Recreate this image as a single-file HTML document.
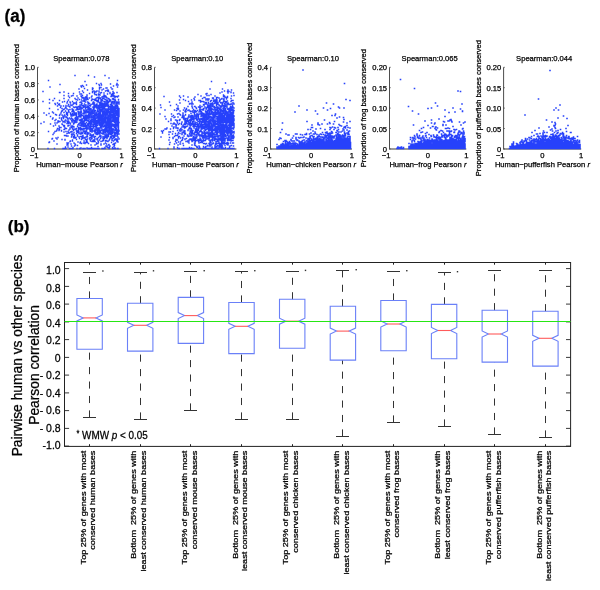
<!DOCTYPE html><html><head><meta charset="utf-8"><style>html,body{margin:0;padding:0;background:#fff;width:600px;height:590px;overflow:hidden}text{stroke:#000;stroke-width:0.25px}svg{will-change:transform;font-family:"Liberation Sans",sans-serif}</style></head><body><svg width="600" height="590" viewBox="0 0 600 590" style="position:absolute;left:0;top:0"><rect width="600" height="590" fill="#fff"/><text transform="translate(4.6,21.8) scale(1,1.06)" font-weight="bold" font-size="17" fill="#000">(a)</text><path d="M37.5 149H121.5" stroke="#7a7a7a" stroke-width="1.7" fill="none"/><path d="M37.5 67.3V149.5" stroke="#4d4d4d" stroke-width="1" fill="none"/><path d="M100.5 114h0m15-5.5h0m-4 0h0m-31.5-6h0m4.5 31h0m23-8h0m-52-0.5h0m59-6.5h0m-48.5-12h0m11 2h0m31.5 8.5h0m-9-22.5h0m-4.5 16h0m5 24.5h0m2.5-34.5h0m14.5 35.5h0m-21.5 0.5h0m-7-11h0m-29 2h0m35-7h0m-7.5-1h0m-15 12h0m11-1.5h0m24-21h0m-14 6.5h0m9 6.5h0m-7.5 8.5h0m16.5-12.5h0m-30.5 16h0m30.5 2.5h0m-4.5-32h0m7.5 4h0m-46 17h0m23.5-28.5h0m22.5 22.5h0m-70-6.5h0m53-1h0m-41 7.5h0m32-2h0m16.5-20.5h0m-5.5 9h0m-27.5 40h0m6.5-34.5h0m20.5 37h0m2.5-15.5h0m3-21h0m-16 22h0m-6.5-32h0m0.5 22.5h0m37-15.5h0m-13 5h0m-7-7h0m13.5-8h0m-8 39.5h0m-2.5-19.5h0m9.5-4h0m-7-11.5h0m-43.5 9.5h0m56.5 8h0m-38 17.5h0m13 2.5h0m-6.5-9h0m14.5-16h0m12-0.5h0m-69.5-14h0m67 12h0m-16-5.5h0m12 29.5h0m7-23.5h0m-13 11.5h0m17 0h0m-62-22h0m29.5 16h0m17.5 0h0m-7.5-1h0m4 19h0m4 3.5h0m-6.5-49h0m-18 27h0m33.5-1h0m6.5-4h0m-16 10.5h0m10-3h0m0 8h0m-1.5-16.5h0m-17 8h0m24-18h0m-39.5-5h0m8 36h0m17.5-25h0m2.5 15h0m5-36.5h0m-24 29h0m13.5-11.5h0m7 20h0m0-24.5h0m-51 30.5h0m52 4.5h0m-36 13h0m-4-27.5h0m41 2.5h0m9.5-8.5h0m-50.5 18h0m18.5-13h0m-23.5 1.5h0m34.5 12.5h0m10-42.5h0m-23.5-3h0m-5 27.5h0m28.5-5.5h0m-2.5-1.5h0m-7.5-0.5h0m18.5 20h0m-34-13h0m-18.5-20h0m18 26h0m11.5 0.5h0m-10.5 10h0m-15-6h0m3 22.5h0m14-29h0m15.5-16.5h0m4 10.5h0m-24 3.5h0m20 0h0m-25.5 1.5h0m25.5 14h0m-9.5 12.5h0m22-53.5h0m-20.5 20h0m-3.5 37h0m23.5-54h0m-4.5 29h0m-11.5-19h0m-9 16h0m-0.5 7h0m14-21.5h0m5 16.5h0m8 26h0m-4-39h0m-6 9.5h0m3-0.5h0m-17 4.5h0m-11.5-9.5h0m24.5-17h0m-39.5 9.5h0m35 7.5h0m16 2h0m-13.5 12.5h0m9-35.5h0m-42 54.5h0m13.5-14h0m-7-11.5h0m30.5-6h0m-6.5-1.5h0m20.5 8.5h0m-13.5-31.5h0m-29 11h0m30 42h0m10.5-14h0m-26.5 7.5h0m10-39.5h0m-22.5 27h0m-29 17.5h0m54.5-21h0m-2.5 14.5h0m-12.5-18h0m-9.5-8.5h0m14.5 25h0m4-20h0m19-2h0m-23.5 16h0m5.5-17.5h0m9.5 15.5h0m-34.5-16.5h0m26.5 9.5h0m3.5 4.5h0m-7-26h0m16 5h0m-13.5 19h0m-22 26.5h0m40-35.5h0m0.5 11h0m-43-10.5h0m10 5.5h0m28.5 2.5h0m-10.5 1.5h0m-16.5-24h0m16-2h0m-6 3h0m8 34h0m-16-10h0m-1-7.5h0m22 28.5h0m9-42.5h0m-7.5 31h0m-41-27h0m27 20h0m-5.5-13h0m7 30h0m-7.5 5h0m23-19.5h0m-28 10.5h0m-9 0h0m27-13.5h0m7.5-11h0m2-7.5h0m-24.5 26h0m26 6.5h0m-7.5-19h0m-19.5 15.5h0m13.5 1h0m17.5-11.5h0m-17-21h0m4.5 11.5h0m12 32h0m-14-55.5h0m-9.5 47h0m-1.5-21h0m13.5 12.5h0m1.5-25h0m-12.5 8.5h0m16-12h0m-24 15h0m24 4h0m0.5-19.5h0m-29 46h0m12-9.5h0m12 2h0m-2.5-18h0m-14 5h0m-2 5.5h0m22-23.5h0m2.5 2.5h0m1 14h0m-11 14h0m-39-48.5h0m21.5 24.5h0m29 11h0m-3-10h0m-14.5-2h0m-7 14h0m18.5-20.5h0m-15 9.5h0m11 8h0m-7.5-22.5h0m12.5 21h0m-8.5-24h0m0 16.5h0m-16 6h0m27-21.5h0m6.5 21.5h0m-14-12.5h0m-13-10.5h0m7.5 24h0m-13.5 4h0m14.5-20.5h0m-3.5-2.5h0m-31 43h0m22-36h0m13-9.5h0m8 23h0m-25-20.5h0m25.5 17.5h0m-3.5 4.5h0m-5-4h0m11.5-16h0m-1 16h0m-20.5 3.5h0m25.5-9.5h0m-44-8.5h0m37.5 38h0m9.5-45h0m-37.5-2h0m33 33h0m-31-12h0m-12.5-6.5h0m17 3.5h0m13.5-25.5h0m-3 24.5h0m6.5 9.5h0m-18.5-1h0m3.5-10.5h0m22.5 14h0m-28.5-0.5h0m12.5-2h0m7.5-31.5h0m-15 15.5h0m-7.5 26h0m24.5-25h0m-36.5 37h0m24.5-29.5h0m11-9.5h0m-29.5 5.5h0m35-4.5h0m-3.5 4.5h0m2 12.5h0m-39-4.5h0m45.5-2h0m-25.5 18.5h0m9-22h0m-10.5 15.5h0m-27-21.5h0m20-24.5h0m36 0h0m-32.5-5.5h0m22 41.5h0m-4.5 1h0m15.5-16.5h0m-23 23h0m17-22.5h0m-2.5 17h0m2-12.5h0m-32.5 12h0m8-28.5h0m31.5 4h0m-7.5 5.5h0m-0.5 29h0m-61-31.5h0m52.5 20h0m12.5 12.5h0m1-23.5h0m-1.5-10.5h0m-32.5 38h0m31-34h0m0 14.5h0m-9.5 0h0m-49.5-7h0m37 9.5h0m5 4.5h0m20-26h0m-23 47.5h0m19-46h0m0 32h0m-28.5-33.5h0m28 32h0m6.5-36.5h0m-43.5 46.5h0m25-51h0m16 22h0m-52 8h0m28.5 0h0m9-19.5h0m-14.5 17.5h0m5-11.5h0m-5.5 7h0m0 17.5h0m-5.5-39h0m25.5 25h0m-24.5-5.5h0m18-0.5h0m-13.5 4.5h0m16-25h0m6 18.5h0m-12 10h0m17.5-6h0m-5.5 6h0m-34.5 13h0m37-33.5h0m1 29.5h0m-10-30.5h0m-24 17.5h0m1.5-10.5h0m-10 12.5h0m27 2.5h0m-13-36h0m15.5 36.5h0m2 8h0m1.5-19.5h0m13-14.5h0m3.5 38h0m-15.5-10h0m2.5-19.5h0m8-1.5h0m-51 8h0m32 12h0m15.5-10h0m-43 15.5h0m36.5-18.5h0m2.5 6.5h0m1-4h0m2 6.5h0m-3-12.5h0m-6 9.5h0m-9 12h0m22-32h0m-6 17h0m7.5 7h0m-47 1h0m18.5-24h0m2 19.5h0m31-5h0m-7 16h0m-37.5-4h0m31 1.5h0m5 3.5h0m2 3h0m-2.5-10h0m-2 13.5h0m-31.5-25h0m6.5-2h0m2.5 23h0m-0.5-18h0m-5 16h0m36.5-16h0m-13-1h0m-15.5 30.5h0m14.5 6h0m12.5-37.5h0m-29.5 2h0m28.5 5.5h0m-10.5 8h0m-11.5 3h0m11.5 19h0m2.5-49h0m-0.5 49h0m0-32.5h0m-49.5 9h0m50-10h0m-2.5 21.5h0m5.5-5.5h0m-14-17h0m-1.5 22h0m8.5-17.5h0m-1 20h0m8.5-21.5h0m-2.5-4h0m-18 7.5h0m27.5-9h0m-42 26.5h0m31.5-10.5h0m-8.5-2h0m13.5-25.5h0m-4 28h0m-23-6.5h0m7.5-17h0m-9 14.5h0m-13.5-9h0m12 26.5h0m-17-27h0m30.5 11.5h0m-13.5-6h0m-13-2h0m19.5 35h0m19.5-43h0m7.5 21h0m-17-20.5h0m2.5 19.5h0m11-7.5h0m-14 25.5h0m-2-5.5h0m4-30.5h0m19 24.5h0m-3-14.5h0m-52 7.5h0m52.5 11.5h0m-24-11h0m19-2h0m4-11h0m-20.5 15.5h0m13 2h0m-2.5-28h0m-6.5 0h0m16.5 17.5h0m3 15h0m-20.5-18.5h0m4.5 12.5h0m-15.5-26h0m8 19.5h0m-27.5 10h0m40-6.5h0m6.5 8h0m-7.5-11.5h0m-32.5 18.5h0m23-22h0m9.5-9h0m-0.5 5h0m13.5 18.5h0m-33-16h0m-6.5 11.5h0m27 12.5h0m-3.5-18h0m16.5-14h0m-5 9h0m-24 9h0m0.5 4.5h0m-0.5-8.5h0m28-8.5h0m-25.5 5.5h0m-7.5-13h0m-15.5 5.5h0m45-5h0m-8.5 18h0m-19-9h0m9.5 5h0m-2-5h0m-5.5 1.5h0m11-30h0m15 48h0m-5-20.5h0m8.5 11h0m-55-9h0m56-1h0m-51.5-14.5h0m47 20h0m-43 10h0m14-14.5h0m-0.5 0.5h0m3 31h0m10.5-53.5h0m1 37.5h0m14-34h0m-21 5.5h0m-7-2h0m-7.5 16.5h0m17 13h0m14-2h0m7.5-27.5h0m-23 24.5h0m20.5-13h0m-3.5 10.5h0m8 2.5h0m-31-19h0m29 24h0m-6-9.5h0m-15.5 2h0m-6-5.5h0m-14.5 4h0m-10 13h0m54-11.5h0m-28 0.5h0m10-31.5h0m-13.5 17h0m7.5 11.5h0m13-4.5h0m-15.5 7h0m-4.5-26h0m-3.5 25h0m11 10h0m-20-57.5h0m30.5 54.5h0m-27-1h0m39 3h0m-4-19h0m5 15h0m-22.5 2.5h0m8.5-24.5h0m-21.5-5h0m2.5 15h0m18 18h0m15-22.5h0m-25.5 17h0m-31.5-10.5h0m42-2.5h0m-3.5 20h0m11-28.5h0m-38 14h0m11 0h0m28.5 12.5h0m-19.5-26.5h0m12 21.5h0m2-10.5h0m-8 15.5h0m-23.5 4.5h0m9-0.5h0m33 3.5h0m-34-15h0m31.5-25h0m-4.5 3.5h0m-3.5 26.5h0m-3-0.5h0m-8.5-31.5h0m-14.5 11.5h0m20 9h0m11 5h0m-38.5 2.5h0m36 21.5h0m-18-19.5h0m17-38h0m-49 9.5h0m-0.5 25.5h0m54.5-17.5h0m3 2.5h0m-10 16.5h0m5.5 4h0m-12-3.5h0m19-11.5h0m-60.5-12h0m31 13h0m11.5 2.5h0m-36.5 5.5h0m30-22.5h0m-7-5h0m20.5 18h0m-10.5 7h0m19-8.5h0m-16-2.5h0m2.5-8.5h0m-19.5 4h0m14 23h0m4.5-9.5h0m-1 4.5h0m-21-13h0m-22 25h0m56 6h0m-54-22h0m27 6h0m31-2.5h0m-49.5-1.5h0m42.5 8h0m-17-12h0m-19.5 17.5h0m-22 1.5h0m52.5-26h0m-41 14h0m50-22.5h0m-38.5 13.5h0m28.5 12h0m-31-0.5h0m43 4h0m-31.5-12h0m15.5-8h0m-32.5 9h0m29.5-4.5h0m17 15h0m-56.5-26.5h0m45 6h0m-25-4h0m-21.5 30h0m34.5-14.5h0m14.5 6.5h0m-0.5-31h0m-10 24h0m18-34h0m1.5 24.5h0m-38 16h0m18-25.5h0m17-7.5h0m3 25h0m-14 6.5h0m-24-5.5h0m10 14.5h0m30-3.5h0m-25 15h0m0.5-20h0m-8.5 10h0m13-20h0m21-3h0m-14.5-9h0m-26 12h0m29 4.5h0m2.5-20h0m-40 28.5h0m47 16.5h0m-10.5-9.5h0m0-12.5h0m-20.5-12h0m10.5-6.5h0m18 25.5h0m3-28h0m-26 11h0m-3.5-3.5h0m30 20.5h0m-8-10h0m-16 25.5h0m9.5-29.5h0m1 6.5h0m-17.5-13.5h0m16-6.5h0m-18.5 28h0m-4.5-24h0m8-2.5h0m10 17.5h0m4-29.5h0m8 35h0m4.5 8.5h0m5.5-19.5h0m-34.5-21h0m8 15.5h0m-23.5 31.5h0m46-19h0m-32.5-21h0m27.5 24.5h0m-6-7.5h0m13 11h0m-17.5-39h0m-14.5 4h0m24 38.5h0m-30.5 9h0m11.5-32.5h0m6 1.5h0m20 4.5h0m-49.5 1h0m44 3h0m-28.5-14.5h0m-11 1h0m42.5-8h0m-35.5 7.5h0m31 17.5h0m1-2h0m-28 0h0m1-5.5h0m8.5 10h0m4 2h0m2.5-8h0m7.5 2.5h0m-1.5-4.5h0m-23.5-21.5h0m28.5 2h0m-27.5 26h0m21.5-9.5h0m-4.5 5.5h0m5.5 7.5h0m-24-17h0m19 32.5h0m-27.5-27.5h0m29.5 5.5h0m8.5 12h0m6-23h0m-1.5-6.5h0m-13.5 10.5h0m-5-2h0m13.5 17h0m1.5-18h0m-12.5-13h0m-2 35h0m1-45h0m-30.5 55.5h0m34-38h0m-4.5 20.5h0m-8-10.5h0m-36.5 5h0m47.5-3h0m-16-12.5h0m28 16h0m0.5-7h0m-37-10.5h0m28 15.5h0m7.5 26h0m-26.5-19h0m26-1.5h0m-5 5h0m7.5-21h0m2.5 7h0m-16 13h0m-24-1.5h0m17 10.5h0m19.5-13.5h0m-55.5-29h0m49.5 45.5h0m-22.5-47.5h0m9 26h0m17.5 1h0m-21 6h0m18.5 8h0m-13-24.5h0m21.5 11.5h0m-21.5 6h0m11.5-8.5h0m-3-21.5h0m-28.5 28.5h0m15-5h0m-14.5-19.5h0m14 31.5h0m18.5-26.5h0m-12.5-21h0m-0.5 33.5h0m13 21h0m-28-33.5h0m32 15.5h0m-2.5-22h0m-44 13h0m55 0h0m0.5 16h0m0.5-28h0m-24.5 11h0m0.5 0h0m1.5-0.5h0m22.5-1h0m-16 4h0m8 3.5h0m-26 22.5h0m6.5-15h0m8.5-3.5h0m-50.5-16.5h0m25-1h0m38 25h0m0.5-6.5h0m-56.5 5h0m35-14.5h0m22-1h0m-26-3h0m28 15.5h0m-51-1.5h0m9-33h0m33 41.5h0m6.5-36h0m-27 11h0m10.5-3h0m-2.5 11h0m0.5 1.5h0m-29-8.5h0m23.5 11h0m21.5-2.5h0m-5 3h0m10.5-9.5h0m-39 9h0m30 1h0m8.5-13h0m-31 7.5h0m21.5 19h0m-5.5-16.5h0m14.5-20.5h0m-23 14.5h0m0-15h0m-8.5 44h0m20-29h0m9.5 30.5h0m-1.5-34h0m-13.5 17.5h0m-8.5-6h0m18.5-9h0m6.5 17h0m-33.5 0h0m5.5-4.5h0m23-16.5h0m-50-5h0m45 25.5h0m-8 3h0m14.5-14h0m-28 18.5h0m28.5 0.5h0m-11-24.5h0m16 13h0m-22-26.5h0m-15.5 34h0m-16.5-31.5h0m56 0.5h0m-27.5 22h0m11-7.5h0m-36 31.5h0m-2.5-30h0m38 0.5h0m-22.5 13h0m9.5-29.5h0m-5 46h0m3-37.5h0m17 8h0m-11-1.5h0m26.5 21.5h0m-35-27h0m6.5 15.5h0m12.5-10h0m14-11h0m-1 24h0m-6.5 18h0m-22.5-32.5h0m-9 2h0m36.5 4h0m-28 7h0m32.5 2h0m-23.5-13h0m21.5-7.5h0m-23.5 15.5h0m4.5-24h0m-4.5 20.5h0m1.5-12h0m6.5 10.5h0m-43 0h0m42.5-15.5h0m15.5 3h0m-23.5-6h0m6.5 0.5h0m15 13.5h0m-4-9.5h0m8.5 3h0m-25 1.5h0m22.5-5.5h0m-13.5 10h0m-7.5 0h0m-14-4h0m26 18h0m-5.5-24h0m14.5-2.5h0m-15.5 41.5h0m-7.5-37h0m15.5 18.5h0m-2 2h0m9-20.5h0m-9 21.5h0m-26-13.5h0m31.5 10h0m-19 9h0m20.5-41.5h0m4 34h0m-7 6h0m-9-10.5h0m-7-28.5h0m-25 47h0m23.5-38h0m-24.5 26.5h0m-3-12.5h0m9 3h0m7.5-15h0m12.5 23.5h0m-5.5-35.5h0m19 29.5h0m-5.5 14h0m4-22h0m-17.5-7h0m-5.5 2h0m-23.5-2.5h0m16.5 14.5h0m11-22.5h0m-1 7.5h0m12.5 23.5h0m15-8h0m-15.5 5.5h0m9-7h0m-0.5-6.5h0m-0.5 9h0m10-4.5h0m-19.5-11h0m-0.5-1.5h0m18-9h0m-16 51h0m-29-20.5h0m33-1h0m-2-2h0m14.5 4h0m-29 2h0m13-23h0m7.5-8h0m-18 33h0m20.5-26h0m-18 40.5h0m-18-35.5h0m38.5-17.5h0m-7.5 10h0m-14.5 25h0m-11.5 1h0m5-7.5h0m17.5-22.5h0m14.5 11.5h0m-52 5h0m22-5.5h0m31.5 20h0m-62.5 17h0m30.5-22h0m-2-1h0m-12-9.5h0m15 2h0m19-42.5h0m10.5 47.5h0m0.5 1.5h0m-28.5-25h0m3.5 18.5h0m-22.5-24.5h0m24-1h0m16 13h0m-5 1.5h0m0.5 31.5h0m-5.5-38.5h0m18 13.5h0m-14-5h0m0.5-4.5h0m6.5 11h0m6 14.5h0m-35.5-4h0m32 4.5h0m-17-25h0m4 12.5h0m-4.5-1h0m-11.5 8h0m33.5-6.5h0m-8.5 14.5h0m-24.5-15.5h0m-7 16.5h0m4.5-18.5h0m3 7h0m-17.5-8.5h0m-7-8.5h0m30.5 7h0m16 3h0m5-10h0m-29.5 21h0m30-8.5h0m-23-5h0m16.5 23.5h0m-10.5-9.5h0m9-37.5h0m1.5 25h0m-18 1.5h0m4-5.5h0m16 9h0m11 3h0m-11-1h0m-5-18h0m-21-7h0m31 28h0m0.5-6h0m-12.5-7h0m7.5 21h0m-55-13h0m24-15h0m17-2h0m-7-17h0m26 35.5h0m-7.5-4h0m-2-12h0m3 7.5h0m-4-11h0m6 15h0m9 23h0m-35.5-10.5h0m-11 12.5h0m29-26.5h0m9.5-15.5h0m-7 10h0m-11.5 15h0m25 19h0m-14-26h0m3.5 9h0m13.5-1h0m-18-8h0m-17-30.5h0m17 36.5h0m15.5 3.5h0m-11.5 10.5h0m-15-31.5h0m-21 27h0m-1.5 12.5h0m45.5-21h0m-47.5-8h0m49.5 18h0m-10-15h0m-18 22.5h0m-12-38.5h0m33.5 31h0m10-16h0m-39.5 14.5h0m13.5-6h0m14.5-12.5h0m-0.5 12h0m-12-6h0m-20-16.5h0m22.5-20h0m15.5 22.5h0m-10 11.5h0m5.5-3h0m0 20.5h0m-20-1h0m10-0.5h0m21-22h0m-37.5 9.5h0m24 2h0m13-38h0m-25 34h0m-35-9.5h0m60 1.5h0m-34.5 7.5h0m5-6.5h0m6.5 27h0m14-22.5h0m-23.5-11.5h0m27.5-10.5h0m-0.5 26h0m-18.5-21h0m-29.5 9.5h0m30.5 14.5h0m4.5 16.5h0m10-26.5h0m-33 15h0m28.5-26.5h0m-26.5 12h0m-24.5 27h0m45-16.5h0m-9.5-11h0m-5-12h0m5 47h0m17.5-37.5h0m-31 26.5h0m18-15.5h0m-40 11h0m42-27h0m20.5 6.5h0m-48-16.5h0m-11 7h0m53.5 24.5h0m-20.5 21h0m-28.5-24.5h0m49.5 1h0m-0.5-9h0m3.5 11.5h0m3.5-1.5h0m-13.5-18.5h0m-10 8h0m-20.5 14h0m-2-15h0m29.5 16h0m11.5-13h0m-11-12.5h0m8.5 19.5h0m-3 12h0m1.5-20.5h0m9 7h0m-46.5-27h0m22 24.5h0m-6 7.5h0m2.5 7.5h0m28 13h0m-34-17h0m28-14h0m-13 14h0m-15-18.5h0m9-6h0m-24.5 4.5h0m-9.5 19h0m17.5 0.5h0m5.5-22.5h0m2.5 20.5h0m-1-0.5h0m33.5-3h0m-20.5-25h0m-22 45.5h0m-4-41h0m37.5 1h0m10.5-10h0m-48 18h0m47-27h0m-23.5 21.5h0m20.5 21.5h0m-60.5 11h0m50.5-23h0m-31.5-4h0m-1 2h0m39.5-11.5h0m-40.5 0.5h0m46.5 43.5h0m-14.5-29.5h0m4-0.5h0m7.5-8.5h0m-15.5 20h0m-30.5-25.5h0m30 13.5h0m20-18.5h0m-54 30h0m26.5-8.5h0m24 15h0m-27.5-3.5h0m-4-8.5h0m27.5 2h0m-23.5-10.5h0m3-2h0m-4.5 6.5h0m24-1.5h0m-6.5 15.5h0m-7-9h0m16-3.5h0m-21 8h0m24.5-21.5h0m-1.5 2.5h0m-6.5 19.5h0m3-5h0m4.5-5.5h0m-15-1.5h0m-15.5-18h0m4.5 23h0m-8 6h0m37-15.5h0m-37.5-1.5h0m3.5-8h0m25 28.5h0m0-9.5h0m-10-6h0m-27 2h0m36.5 21.5h0m7.5-27h0m-46.5-11.5h0m42.5 9h0m-21 11.5h0m-25 13.5h0m43-3h0m-44.5-10.5h0m44.5 7.5h0m0 0h0m7.5 11.5h0m-35.5-26.5h0m36-7.5h0m-16 13.5h0m-29-7.5h0m28.5 5h0m-2.5-20.5h0m20 22.5h0m-18.5 0h0m-43 18.5h0m61-19h0m-12.5 5.5h0m1 1h0m-10.5-26.5h0m9 9.5h0m-1-3.5h0m-5 10h0m-27.5 18.5h0m45-15.5h0m-30-12h0m-19.5 26.5h0m51.5-12h0m-19-1h0m-15.5-13.5h0m7 13h0m18.5-10.5h0m8 0.5h0m-34 14.5h0m-22-5h0m53 17h0m-6.5-10.5h0m-22-13h0m25 0.5h0m-6.5 1h0m-33 6h0m46.5-13.5h0m-33.5 4.5h0m-4.5 8h0m12 22h0m-43.5-61h0m52.5 7h0m10 42h0m-4.5-32h0m-25.5 25.5h0m-5-19.5h0m-4 28.5h0m20-12.5h0m-6.5 6.5h0m2.5-17h0m18-3h0m-6 11h0m3.5 31.5h0m-17.5-30h0m29.5 14h0m-0.5-36h0m2.5 28h0m-23 24h0m15.5-28.5h0m-18 17.5h0m15.5-25.5h0m7.5 23h0m1.5-22.5h0m-4.5 28h0m-22.5-37h0m12.5 16h0m-2-10.5h0m0 13h0m-3-31h0m4.5 31h0m-4-12h0m15 10h0m0-18.5h0m-63 40.5h0m56-1h0m-15.5-28h0m5.5 17h0m4 3.5h0m4.5-20.5h0m-63 10.5h0m23.5 25h0m12-29h0m39 7h0m-18 8h0m15-25.5h0m-36.5 4.5h0m25-12.5h0m-13.5 27h0m15.5 4.5h0m14-49h0m-8.5 24h0m2.5 2h0m6 22h0m-30.5-4.5h0m-3-17h0m30.5 38.5h0m-22.5-9.5h0m10.5-22.5h0m8 29.5h0m-24.5-34.5h0m11.5 12.5h0m-2 21h0m15.5-24.5h0m-12.5 0h0m1 2h0m6.5-10h0m12.5 29.5h0m-11-14h0m-2-14h0m-6.5 3.5h0m-16 1.5h0m35-38.5h0m-28.5 47h0m13 1.5h0m6.5-17h0m-14 12.5h0m8-16.5h0m-13 16h0m-6.5-26.5h0m15 33h0m20.5-7h0m-46-13.5h0m40.5 9h0m-1-12h0m7 1.5h0m-16-0.5h0m2 29.5h0m-4-30h0m-9.5 12h0m0-3.5h0m8.5 15.5h0m-6-18.5h0m8-5h0m-23 7.5h0m-23.5-1h0m42 2.5h0m-11 5.5h0m23.5-11h0m-36.5 11.5h0m9-1h0m-9-8h0m43.5-9.5h0m-40-8.5h0m35.5 6.5h0m-12 15h0m-24 13.5h0m13.5-16.5h0m15.5 18h0m-8 0h0m17 11.5h0m-38.5-41h0m13.5 0.5h0m20.5 29.5h0m-22-15.5h0m25.5-5h0m-2-16h0m-34 3.5h0m13 31.5h0m12.5-17.5h0m-19 27h0m12-20.5h0m-23-1h0m37.5 2.5h0m-13.5 12.5h0m-15-10h0m17.5-35.5h0m-16 39.5h0m19.5-10h0m-15.5-12.5h0m22 0.5h0m-9 17h0m-0.5-25h0m3.5 0h0m3.5 16.5h0m-21 0h0m4.5 5.5h0m-24-8h0m24.5 2h0m-9-11h0m34.5 37h0m-46.5-33.5h0m47 12h0m0.5-22h0m-10.5 4.5h0m7.5 18h0m-16-1h0m2.5 6h0m-13.5 8.5h0m12.5-12h0m13-14.5h0m2.5 14.5h0m-21.5 16h0m-29-16h0m12.5 14h0m20.5-17h0m-5.5-8h0m-13.5-3h0m39-5h0m-15 28h0m-23.5 18.5h0m36.5-30h0m-12.5 3.5h0m14-14h0m-16.5 1.5h0m-15.5 14.5h0m-0.5-5h0m-18-10h0m40.5 19h0m8 20.5h0m-21-33.5h0m-6 3h0m20 8h0m-10-24.5h0m6.5 19.5h0m2 8h0m1-13.5h0m3.5-21h0m-28.5 41h0m21.5-28h0m2.5 29.5h0m0-27.5h0m-21 17.5h0m-8.5-0.5h0m6.5-15.5h0m26.5-27h0m-9.5 60h0m4-21.5h0m-12 8.5h0m-27-25.5h0m-8 15.5h0m24.5 12h0m-10-23.5h0m-8.5 3h0m32.5 9h0m-34-11h0m34 4.5h0m-16.5-7.5h0m29 26.5h0m-14.5-23h0m10.5-4.5h0m5 24.5h0m-21.5-55.5h0m18.5 22.5h0m-47.5 20h0m4.5 11.5h0m24.5-6h0m-2.5-3h0m17.5-7.5h0m10 24h0m-31-1h0m28-35.5h0m-18.5 38h0m-8.5-46h0m27.5 28h0m-38.5 20.5h0m46.5-10.5h0m-32.5-33.5h0m19.5 19h0m2 17.5h0m-7-32h0m-44.5 13.5h0m54.5 12.5h0m-37.5 9h0m44 3.5h0m-22-21h0m-12.5-5.5h0m19.5-15h0m-16.5 0h0m-1.5 7.5h0m27.5 33h0m-21.5-11h0m27-17.5h0m-9 11.5h0m-3.5-5h0m-9.5 8.5h0m-6.5-6h0m10.5-14.5h0m14 6h0m-10 28h0m-7-13.5h0m-5.5 10h0m-11 7.5h0m-4.5-36h0m23.5 12.5h0m2.5-34.5h0m14.5 23.5h0m-15 3h0m12 13.5h0m-2.5 3.5h0m-19.5-20h0m-19.5 19h0m34-31h0m-2 8.5h0m10.5-1h0m-34 13h0m31 13.5h0m-6-29h0m4.5 24.5h0m7.5-8.5h0m-40-9h0m13.5 15.5h0m5.5 0.5h0m16 11.5h0m-6-33h0m-9.5-8.5h0m-12.5 36.5h0m23-29.5h0m-14.5-10h0m-11 2.5h0m27 8.5h0m-8 24h0m10 10.5h0m-9-10h0m17-18h0m-2.5-12.5h0m-17.5 2.5h0m10.5 19h0m-11-7h0m13 11h0m-24.5 20.5h0m-14.5-15h0m43-26.5h0m-13 4.5h0m-49 12.5h0m52-2h0m-55-29h0m51.5 23h0m11.5 10h0m0 15.5h0m-15.5-10h0m14.5-15h0m-18.5 14h0m0.5-14.5h0m-30.5 15.5h0m45.5-47.5h0m-8.5 44.5h0m-20.5-17.5h0m21.5 22h0m15-15.5h0m-34-6h0m36.5 7h0m-15.5 28h0m10-45h0m-14.5 12h0m-28.5 24.5h0m37.5-8.5h0m6.5-15.5h0m-36.5 22.5h0m33-22h0m6.5 26.5h0m-46-17h0m17.5-10.5h0m29.5 15.5h0m-4.5-7.5h0m-7-3h0m-8.5-14.5h0m-28 5h0m-4 14h0m21.5-1.5h0m-3 9h0m21.5-1h0m5.5 1h0m-21.5 3h0m14-21h0m3 16h0m7.5 8h0m-41 2h0m25.5-11.5h0m8.5-8.5h0m-17 16h0m-23 7.5h0m18.5-18h0m9-11.5h0m-23.5 29h0m39.5-10h0m-4.5 20.5h0m9.5-61h0m-1 48.5h0m-33.5 4.5h0m27.5-22h0m-25 10h0m5.5-16h0m10.5 22h0m-23-12h0m-10-1h0m49.5-7.5h0m-3-18.5h0m-5 27h0m-5 11.5h0m1-18h0m4 16h0m-22.5-22h0m31.5 7.5h0m-12 3h0m-38.5 25.5h0m33.5-2h0m-20.5-12h0m11-8.5h0m-11 27.5h0m32-22.5h0m-41-7.5h0m9.5 11.5h0m12-22.5h0m17.5 8.5h0m-42-16h0m26.5 30h0m-27.5-14.5h0m29.5 33h0m-5-16.5h0m4.5-25h0m18.5 18h0m-55.5 4.5h0m54.5 7h0m-8.5-40.5h0m1.5 6h0m-35 20h0m46-7.5h0m-61 8.5h0m58.5 16h0m-19.5-23h0m12 11.5h0m-38.5 5.5h0m36-28.5h0m-3 15h0m-12.5 15.5h0m9-22.5h0m5 8h0m15-6h0m-10 7h0m8-6.5h0m-7 0.5h0m-25 18h0m9-42.5h0m0 26h0m9 31.5h0m-14.5-41.5h0m6 34h0m5-26.5h0m-23.5-15h0m35 24h0m-20.5-1.5h0m9.5-18.5h0m-25 9.5h0m-8.5 1.5h0m7 9.5h0m26.5-4.5h0m-19 28.5h0m24.5-22.5h0m13-4.5h0m-11-10h0m4 1.5h0m-24 26.5h0m8-7.5h0m17 17h0m-12.5-26h0m-35.5-21h0m44.5 16.5h0m-56 16.5h0m41.5-15h0m-16 5h0m18.5 14h0m-9.5-4h0m12-10.5h0m14-15h0m-21 21h0m18.5 0h0m-30.5 12h0m29.5-20.5h0m-27.5 16h0m-18.5-39h0m19 23h0m12 27h0m17-47h0m-15.5 16.5h0m-6.5 5h0m-10.5-2.5h0m29.5 9.5h0m-19 5h0m22.5-3.5h0m-12.5-7.5h0m15-8.5h0m-32.5-20h0m-13 22.5h0m40-8.5h0m-13-1.5h0m-11.5 25.5h0m8 2h0m-27 0h0m39.5-36h0m-7.5 41.5h0m19-28.5h0m-22 20.5h0m4.5-47.5h0m10 54h0m5-2h0m-25.5-8.5h0m27 7h0m-31-24.5h0m-4-2.5h0m18.5-1.5h0m-5-15.5h0m1.5 42h0m-2.5-15h0m16.5 6.5h0m-31.5 6.5h0m32-17h0m-8.5-25h0m16 42h0m-6-43h0m-13.5 27h0m-2.5 11h0m16 9h0m-13.5-27.5h0m-0.5 9.5h0m3.5 4h0m-40 9h0m54-9.5h0m-31.5 5h0m-2-7h0m-9 28h0m4-29.5h0m29.5-12h0m-2 2.5h0m-7 30.5h0m13-21h0m-23-1h0m-19.5-11h0m17.5 2.5h0m13.5-3h0m17 15.5h0m1.5-11.5h0m-12 12h0m-34.5 4.5h0m37 15.5h0m-28.5-25h0m38.5 5.5h0m-4.5 19h0m-7-40h0m7 24h0m5-11.5h0m-17.5 1.5h0m-2 8h0m1.5-6h0m9-10h0m-3 23.5h0m-3.5 8h0m-23-32h0m12.5 6.5h0m10.5 17h0m4.5-25.5h0m0.5 31.5h0m-3-18h0m1-3.5h0m-48 7.5h0m44.5-9h0m0.5 13.5h0m-28 17.5h0m5-15h0m9-17h0m-13 8.5h0m0 1h0m34 2h0m-24-18.5h0m17.5 21.5h0m-22.5-9.5h0m19-1.5h0m3 17h0m-14.5-23.5h0m-12 5.5h0m-6-1.5h0m47.5 24.5h0m-41.5-33h0m-3 22h0m20.5-6h0m2.5-6.5h0m19-7.5h0m-5.5 20h0m-7.5-11.5h0m-1.5 4.5h0m1 0.5h0m7-0.5h0m0.5 13h0m-12.5-12h0m-8.5-16.5h0m17.5 29.5h0m11 8h0m-33.5-40.5h0m23.5 37.5h0m-23.5-13h0m12.5 3.5h0m15-13h0m3 8.5h0m-16-10.5h0m-39 15h0m20 8h0m34.5-51h0m-18 33h0m1-5.5h0m-11.5 25h0m21-9h0m-26.5-1.5h0m13.5-21h0m20 23.5h0m-45.5-15.5h0m50 8h0m-20 6.5h0m2.5-20h0m14 5.5h0m-39.5 20.5h0m-0.5-23.5h0m-12 27.5h0m50.5-27.5h0m0.5 8h0m-7-32h0m13 23.5h0m-59.5-19h0m38.5 19h0m-5 14h0m-20-14.5h0m21 29.5h0m-42-1.5h0m64.5-19h0m-32.5-20.5h0m33.5 6h0m-3.5 32h0m-1.5 10h0m-0.5-32.5h0m-43.5 28h0m3-6h0m9-7h0m36.5 2.5h0m-16.5-1h0m3-8.5h0m-9-16h0m3 22h0m-24.5-8h0m22.5-7h0m23-2h0m-51.5 11.5h0m46.5 6h0m-33-7h0m34.5 17h0m-22-18h0m14-19h0m-47 12h0m34 34h0m19.5-37h0m-3 0.5h0m1.5 12h0m-1-14h0m-23.5 1.5h0m16.5 10.5h0m-16.5 2.5h0m12 12h0m12.5-31.5h0m-7 43.5h0m-3-33.5h0m13 9.5h0m-11.5-5.5h0m-10 7.5h0m-4-5h0m-17.5 12.5h0m26.5-1h0m5.5-36h0m11.5 27h0m-13.5-23h0m-28.5 10h0m39 5.5h0m-1.5-1.5h0m4.5 4.5h0m-27.5-12h0m16.5 13.5h0m-16.5 5h0m15-15.5h0m-20.5 10.5h0m16.5-8h0m-44 18.5h0m50.5-11h0m4-14h0m-14.5 0.5h0m13 27.5h0m-12-12.5h0m-4 13h0m7.5-25.5h0m-18.5 24.5h0m28 10.5h0m-17-8h0m14-0.5h0m-27-47h0m22 39h0m-14-17h0m17 19h0m-5.5-15h0m-10.5-11h0m8.5 4h0m13-7h0m-20 7h0m-36 18h0m45-12.5h0m0 5h0m7 8h0m1.5-36h0m-5 43h0m5.5 3.5h0m-14-9.5h0m-10.5-21.5h0m0 20.5h0m15.5-10h0m-34.5 15.5h0m53-29.5h0m-29.5 13.5h0m15 2.5h0m11-19h0m4.5 30.5h0m-45.5-28.5h0m42 6h0m-8.5 28.5h0m1-14.5h0m-45-6.5h0m55.5 18.5h0m-23-2h0m0.5-31h0m-35-16h0m37.5 13h0m16 13h0m-3 7h0m0.5 15h0m-17-23.5h0m7 17.5h0m-6.5-7.5h0m3.5-1.5h0m-18.5-8.5h0m-33 6h0m49 33.5h0m19-22h0m-28.5-19.5h0m-10-4h0m12.5 6.5h0m-23-2h0m43 26h0m-33.5-12h0m-20-1h0m57.5-15h0m-13 12h0m-42 11h0m45.5-22.5h0m6 12h0m-30.5-6h0m16.5 29.5h0m12.5-24.5h0m-22-4.5h0m27.5-14h0m-0.5 18.5h0m-6.5 23.5h0m6.5-4.5h0m-51.5-30h0m29.5 0h0m-8 17h0m23 7.5h0m13.5-27h0m-33 23.5h0m13-7h0m-12.5 20h0m-13.5 8.5h0m26-32h0m-0.5-22h0m17 28h0m-28.5 14.5h0m-20-34h0m47 29h0m-29 16.5h0m-19-20h0m29-13h0m5 15.5h0m15.5-12h0m-17.5 0.5h0m-5.5 0h0m16-21h0m-32.5 20h0m13-6h0m-15.5-9.5h0m37 20.5h0m-1.5-16.5h0m-34 22h0m-3.5-8.5h0m47-1h0m-10.5-14h0m-11.5 2h0m-4 22h0m19 3h0m-0.5 2h0m-10.5-2h0m-52-1h0m56-11.5h0m-27.5 12.5h0m30.5-38.5h0m0 8h0m-8.5-11h0m-3 22h0m-22-1.5h0m39.5 9.5h0m-32-17h0m-5 9h0m34.5 6.5h0m6.5-7h0m-23-19h0m9.5 3h0m1.5 21.5h0m3 27h0m0.5 3.5h0m-40.5-27h0m13-0.5h0m10.5-1h0m-3.5-5.5h0m-8.5-1.5h0m-12 18.5h0m46-5.5h0m-15-29h0m-56-5.5h0m24.5 26.5h0m47-2.5h0m-10.5-9.5h0m-39.5 9h0m33 2h0m-11 2h0m-33.5-18.5h0m17 28.5h0m30-18.5h0m3 23h0m-18.5-22.5h0m25.5 2h0m-66 9h0m69.5-10h0m-27 30h0m23-14h0m-40.5-2.5h0m30-9h0m19.5 0.5h0m-22 10.5h0m-5.5-10h0m17.5-5h0m-7.5-29h0m-16 32.5h0m22-3.5h0m0.5 0.5h0m-27.5 10h0m16 0.5h0m13-17h0m-4.5 14.5h0m3 3h0m-20.5-5.5h0m-17.5-21h0m46.5 35h0m-34.5-9h0m-7-8.5h0m-22-3h0m44-17h0m-36.5-2.5h0m31 33.5h0m-3-18.5h0m-8.5-15.5h0m36 8.5h0m0.5 27h0m-20-2h0m-0.5-9.5h0m-18.5-9h0m40 23h0m-29-24h0m27.5 18.5h0m-25.5-15.5h0m25-3h0m-9 4.5h0m-17-7h0m12.5 13.5h0m5.5-3h0m-14.5-14.5h0m15.5 25h0m-11 1h0m-23.5 12h0m36.5-44h0m4.5 33h0m-8-22.5h0m-7 12h0m-7.5-4.5h0m-21.5 12.5h0m22-4.5h0m23-16.5h0m-6 12.5h0m-24.5 16.5h0m30.5-13h0m-8 17h0m-20-24.5h0m-6.5-4.5h0m2.5 9h0m33.5-19.5h0m-35 1.5h0m6 23h0m13.5-17.5h0m6 17.5h0m6-6h0m-16 6.5h0m21-5.5h0m-41 20h0m30-16h0m-2.5 15h0m-20-37h0m-24 29.5h0m39.5-8.5h0m-3.5 20.5h0m-40-9.5h0m40.5-19h0m8.5 35h0m0.5-33h0m-4 11.5h0m-10-35h0m18 18.5h0m-16.5-2.5h0m-1 8h0m21.5-11h0m-40.5 32h0m38.5-41h0m-13 13h0m-13 33h0m23-28h0m-14.5 5.5h0m8.5-20.5h0m12.5 23h0m-2-4.5h0m-6.5-5h0m6 8.5h0m3.5-26h0m-4 17h0m-6.5 15.5h0m-8-11.5h0m-11.5 6.5h0m-14-24.5h0m35 35.5h0m-41 12h0m25.5-55h0m-1 29h0m6-16.5h0m13 14.5h0m-13 8h0m0.5-14h0m-2 6h0m-5 10h0m7.5 17h0m12.5-31h0m-6-14h0m-3 3h0m13.5 34h0m-9.5-37.5h0m2 38h0m8.5-13h0m-40-5.5h0m37.5-2h0m-9 12.5h0m-36-4.5h0m49.5-9h0m-18 1h0m-34.5-6h0m41.5-5.5h0m-34 13h0m28.5 10h0m-3.5-20h0m-7.5 11h0m-12.5 11h0m-30.5 21h0m63-36h0m-6.5-6h0m-17-4.5h0m24.5 26.5h0m-40.5-10h0m22 21.5h0m-43-23.5h0m50-4h0m-18.5 16.5h0m30.5-20.5h0m-12.5-6h0m10-1h0m-48.5 29h0m24.5-14h0m-30.5-12h0m6.5 16h0m54-0.5h0m-35.5 0.5h0m-8.5-15h0m2 15h0m11 22h0m17-36h0m-7.5-29.5h0m-8.5 33h0m-36.5-10.5h0m63.5 11h0m-26 9h0m20 9.5h0m-4.5-20.5h0m6.5 6.5h0m-1.5-12.5h0m9.5 10h0m-55-4h0m13.5 36.5h0m33-34.5h0m6.5-4.5h0m-25 6h0m-15-13.5h0m18 18.5h0m-7.5-9.5h0m-14.5 36.5h0m25-38.5h0m12.5-0.5h0m-21 23.5h0m27 17h0m-19-15.5h0m20-14h0m-28.5-21h0m10.5 38h0m-17.5-21h0m8-3h0m26.5-0.5h0m2.5 16.5h0m-39-16h0m22 27h0m-3.5 8h0m-21-24h0m23.5 9h0m-36 19.5h0m21.5-48.5h0m9.5 7h0m-5 2.5h0m2 21h0m24.5-4.5h0m-5.5 12.5h0m3-21.5h0m-4 3.5h0m-27.5-1.5h0m8-21h0m-6.5 27.5h0m35.5-7h0m-53.5 21h0m39.5-44h0m-55 7.5h0m48.5 45.5h0m7-1h0m8.5-54.5h0m-31-2h0m-10 18h0m41.5-12.5h0m5 37.5h0m-30-17.5h0m-4-10.5h0m-10.5 15h0m44 8h0m-33-9h0m20 8.5h0m2.5-38.5h0m-17 32.5h0m25.5 3h0m-5 17h0m0-46.5h0m-53 26h0m46.5-13h0m9 9h0m-4.5-5.5h0m-32.5 5.5h0m34 7h0m-15.5-14.5h0m15 17.5h0m-0.5-15.5h0m4-1.5h0m-7-5.5h0m-8.5 24.5h0m0.5-45.5h0m0.5 30h0m12.5 18.5h0m-34 9h0m22-25.5h0m7.5 2h0m-14-9.5h0m25.5 29.5h0m-20-20h0m4.5-7h0m-3-7.5h0m-19 39.5h0m33.5-17.5h0m-19.5 3.5h0m-9.5-9h0m19 1.5h0m7.5-6h0m-7 15h0m-14.5-18h0m-4 28h0m8.5-21.5h0m11.5-31.5h0m-2 44.5h0m5-39.5h0m-0.5 6.5h0m-8.5 25.5h0m-24.5-12h0m38-3.5h0m-33.5 24h0m27 14h0m-29-24h0m35.5 13h0m-23.5-25h0m-2.5 32h0m-1-53.5h0m-6.5-4h0m15 43.5h0m18 17h0m-32.5-31.5h0m35 10h0m-61.5-2h0m2 21h0m56-5.5h0m-10-27.5h0m-38 29h0m42 7h0m-39.5-33.5h0m-18.5 0h0m41 10.5h0m13 10h0m9-39h0m-6 29h0m-4-14.5h0m16 27.5h0m-11 1h0m-21-21h0m19-20h0m-14.5 37h0m23.5-7.5h0m-41.5-0.5h0m13.5-26h0m14.5 19.5h0m-41-4h0m17-8h0m27 1h0m-11.5-12.5h0m-2.5 42h0m17.5-24h0m-25.5 0.5h0m10 22h0m12-20h0m8-2h0m5.5 8.5h0m-6 4.5h0m-30-25.5h0m-17 15h0m49.5 2h0m-11-4.5h0m-28.5 12.5h0m4.5-10.5h0m16.5-4.5h0m-17.5 20h0m27.5-12.5h0m3-0.5h0m-3-3h0m6 7.5h0m4-5.5h0m-25 8h0m-9 6h0m-16-4h0m28.5 13.5h0m-21.5-30h0m18.5 2.5h0" stroke="#2641fb" stroke-width="1.45" stroke-linecap="square" fill="none"/><path d="M37.5 148.9h1.2" stroke="#444" stroke-width="0.8"/><text x="35.1" y="151.9" font-size="7.6" text-anchor="end" fill="#000">0</text><path d="M37.5 132.6h1.2" stroke="#444" stroke-width="0.8"/><text x="35.1" y="135.6" font-size="7.6" text-anchor="end" fill="#000">0.2</text><path d="M37.5 116.3h1.2" stroke="#444" stroke-width="0.8"/><text x="35.1" y="119.3" font-size="7.6" text-anchor="end" fill="#000">0.4</text><path d="M37.5 99.9h1.2" stroke="#444" stroke-width="0.8"/><text x="35.1" y="102.9" font-size="7.6" text-anchor="end" fill="#000">0.6</text><path d="M37.5 83.6h1.2" stroke="#444" stroke-width="0.8"/><text x="35.1" y="86.6" font-size="7.6" text-anchor="end" fill="#000">0.8</text><path d="M37.5 67.3h1.2" stroke="#444" stroke-width="0.8"/><text x="35.1" y="70.3" font-size="7.6" text-anchor="end" fill="#000">1.0</text><text x="38.5" y="157.9" font-size="7.6" text-anchor="end" fill="#000">−1</text><text x="79.5" y="157.9" font-size="7.6" text-anchor="middle" fill="#000">0</text><text x="121.5" y="157.9" font-size="7.6" text-anchor="middle" fill="#000">1</text><text x="81.3" y="61.4" font-size="7.6" text-anchor="middle" fill="#000">Spearman:0.078</text><text x="79.5" y="167" font-size="7.6" text-anchor="middle" fill="#000">Human−mouse Pearson <tspan font-style="italic">r</tspan></text><text transform="translate(18.6,108.1) rotate(-90)" font-size="7.6" text-anchor="middle" fill="#000">Proportion of human bases conserved</text><path d="M154.5 149H236.4" stroke="#7a7a7a" stroke-width="1.7" fill="none"/><path d="M154.5 67.3V149.5" stroke="#4d4d4d" stroke-width="1" fill="none"/><path d="M221.5 128.5h0m-14.5-14h0m24.5-1.5h0m-14.5 21.5h0m0-13h0m0-7h0m-12.5 13.5h0m-12-4h0m11.5-6.5h0m4.5 31h0m-26.5-26.5h0m51.5 2.5h0m-26.5 1.5h0m19.5 17.5h0m-12.5-10h0m11.5-6h0m3 4h0m-63.5-2.5h0m67 3.5h0m-9-4.5h0m-27.5 2.5h0m6-29h0m15.5 25h0m-18.5 22h0m29.5-5.5h0m6-27h0m-18.5-0.5h0m1.5 15.5h0m0.5 3h0m16-18h0m-30.5 32.5h0m-13-28h0m21.5 0.5h0m0.5-0.5h0m15.5 28h0m-34.5-26.5h0m13.5-8.5h0m-0.5 16h0m8.5 5h0m5 4h0m-28.5-9h0m5-12h0m26.5 3.5h0m-20-1h0m19-13h0m0 24h0m6 13h0m-11.5-1h0m1-16h0m-9.5-1.5h0m-20 0.5h0m7-19.5h0m5.5 31.5h0m1-10h0m-8.5 20.5h0m27-4h0m13.5-4h0m-6.5-10.5h0m-19.5-34.5h0m4.5 28h0m22.5-4.5h0m-15.5 24.5h0m12.5-13.5h0m-17.5 8h0m-5.5-24h0m11 13h0m-0.5-15.5h0m-15.5 29h0m3.5-14.5h0m23.5-9.5h0m-15.5-13h0m2.5-3.5h0m14 36h0m1.5-29.5h0m-31 22h0m0.5-1.5h0m25 0h0m-26-3h0m5 24.5h0m17.5-30.5h0m2 13h0m-26.5-7h0m6.5 24.5h0m7.5-21.5h0m13.5 2h0m-2.5-2h0m8.5-4.5h0m-12-10.5h0m-35 15.5h0m38-10h0m-45 19h0m29.5 2h0m16-7.5h0m-1.5 1.5h0m-28.5-14h0m21-1.5h0m8.5-3.5h0m-14.5 7h0m-40 14h0m31 5h0m-21-26h0m16.5-1.5h0m4 35h0m7.5-53.5h0m-0.5 40h0m14.5-26.5h0m-18 31h0m29-21.5h0m-5 4h0m-15-9h0m-11 10.5h0m-28 16h0m37-34h0m-22.5 44.5h0m12.5-17h0m19 14.5h0m-38.5-31h0m44 6h0m-4 7.5h0m0.5-25.5h0m-16.5 12.5h0m-14.5 15.5h0m11-4.5h0m8.5-4.5h0m23.5 1h0m-1-14.5h0m-19.5 8.5h0m2 4h0m17-6.5h0m-16.5 14h0m-29.5-13.5h0m7-7h0m12 10h0m-8 11.5h0m21-7h0m-2.5 7.5h0m-18.5-21.5h0m20.5-1.5h0m-25 23.5h0m36.5-12.5h0m0.5 11h0m-26-6.5h0m26 6h0m-18-23.5h0m6.5 27.5h0m0.5-25.5h0m-1.5 22.5h0m5.5-13.5h0m-36 10.5h0m31 3.5h0m-13.5 3h0m-15-11h0m30.5-9h0m-12.5 4h0m-4.5-1h0m25 8h0m-21-15.5h0m23 16h0m-13 0h0m-15.5 1.5h0m20-8h0m1.5 25h0m-3-27.5h0m-8.5 4h0m-18-2h0m19-36h0m10 37.5h0m-35.5 22.5h0m38-7h0m-27-18.5h0m28 10h0m2-11.5h0m-42 6h0m20 7h0m18 21h0m-13-12h0m-3.5-3h0m17.5-14h0m0 13h0m1.5-12.5h0m-12.5-21.5h0m-9 37h0m13.5 13h0m5.5-0.5h0m1.5-27.5h0m-2.5 7h0m-41.5-30h0m-11 47h0m52.5 3h0m0-21.5h0m11.5-13h0m-9-11.5h0m-25.5-1h0m12.5 9h0m-29.5 17.5h0m28.5 1.5h0m11.5 3.5h0m-13-14.5h0m-14.5 7h0m18 14.5h0m-7.5-10.5h0m17 8.5h0m-17-18h0m7.5-1.5h0m-20.5-1h0m4 21h0m25.5-6.5h0m-3.5-4.5h0m4 18h0m6-15h0m-12-3h0m13.5-6.5h0m-9 11.5h0m6-30h0m-10 12h0m2 16.5h0m-31 5h0m-5.5-5h0m43-15h0m1-3h0m-0.5 0h0m-22 5.5h0m5.5 0.5h0m14.5 17.5h0m-14.5-6.5h0m-9.5-6h0m29-7.5h0m-32 25h0m36.5-30h0m-18.5-2.5h0m14 35.5h0m-8 2.5h0m-22.5-5.5h0m24-5.5h0m-2.5-16h0m-59.5-5h0m67-8h0m-6 20.5h0m-5 5h0m2-29h0m15.5 9h0m-13 6h0m-37.5 14.5h0m41-2h0m-10.5-14.5h0m-9.5 9h0m15 0h0m-20.5 3.5h0m15-12h0m16.5-6.5h0m-5 5h0m-16.5 8h0m19.5 22.5h0m0-29h0m-8 7.5h0m-5.5 25h0m18.5-20h0m-9.5 7.5h0m-6.5-12.5h0m6.5-1h0m-1.5-8h0m-16-14.5h0m-28.5 47.5h0m53.5-39h0m-7.5 30h0m-17.5-26.5h0m2 10.5h0m-6.5 2.5h0m6 23.5h0m10.5-29h0m15-6h0m-15.5 8.5h0m15.5-9h0m-7.5-11.5h0m-2.5 19h0m-17-1h0m21.5 3h0m-28 17.5h0m-13-31.5h0m29 2h0m8 19h0m-31.5 2h0m-1.5-15.5h0m-9 8.5h0m26.5 11.5h0m-14-1.5h0m33-31.5h0m-11 27h0m15-5h0m-3.5-9.5h0m-11.5-1.5h0m-6.5-1.5h0m6.5 15.5h0m-27 1h0m33.5-7.5h0m-23 14.5h0m-20-36h0m52 24h0m-25.5-15h0m21.5 22.5h0m-50 4h0m42.5-5h0m9-1h0m4 11h0m-2-10.5h0m-22-13.5h0m25-12.5h0m-13.5 5h0m-6-1h0m2-8.5h0m8 19h0m-27-8h0m13.5-4h0m22.5 18.5h0m-24.5-3.5h0m25-13.5h0m-17.5-7.5h0m9 34h0m-6-33h0m3.5 25.5h0m-11 10h0m12.5-4h0m5.5 13h0m-8-21h0m4-3.5h0m-16.5-16h0m-16.5 10.5h0m-1-9.5h0m36-16.5h0m-67.5 15h0m56 23h0m-1 3.5h0m-13-9.5h0m-25 6h0m40.5-14h0m4.5 12.5h0m6 3h0m-4.5-23h0m-19.5 10h0m20.5-12.5h0m-17 1.5h0m23.5 23h0m-10.5-19.5h0m1.5 4.5h0m-14.5 0h0m3-0.5h0m18.5 16h0m0-2h0m-48 13.5h0m38-0.5h0m13-7.5h0m-13 11h0m10-33.5h0m0 6.5h0m-53.5 10h0m49.5-14.5h0m-8 33.5h0m-8.5-50h0m-15.5 42.5h0m15.5-17.5h0m-11.5 3.5h0m31.5 5.5h0m4-15.5h0m-10.5 11.5h0m-57.5-9h0m56.5-6.5h0m-0.5 14.5h0m-4.5-27h0m-1 14.5h0m10 16h0m-40 5.5h0m35.5-21h0m0 36h0m-13-12h0m7-16h0m-11.5-4.5h0m-27.5 9h0m23.5-1.5h0m-6 13h0m10 0.5h0m12-35h0m-42.5 29.5h0m50-12.5h0m-27 7.5h0m-19-18h0m31 40h0m-9-22.5h0m1.5 9h0m11-8.5h0m-0.5-8h0m20 16h0m-1.5-30h0m0.5 24h0m-13.5-16h0m-7 12h0m5-3h0m3.5-9.5h0m4.5 10h0m-30.5-3.5h0m40 3h0m-36.5-3h0m27 19.5h0m0.5-0.5h0m-52-14h0m7 4.5h0m34-2h0m15.5 2.5h0m-3.5 15.5h0m-20.5-26h0m-9.5-1h0m2.5 13.5h0m19.5 14h0m7-2h0m-17.5-26.5h0m-12.5 14.5h0m12.5-6.5h0m6.5 7.5h0m15-18.5h0m-44 12.5h0m51 11.5h0m-54.5 11.5h0m19-13.5h0m17.5 3.5h0m11-0.5h0m2-29.5h0m3 0.5h0m-10 8h0m-4.5 6h0m13.5-30.5h0m-21.5 42.5h0m-8-10h0m23 4.5h0m-39.5 10h0m45-31.5h0m-18 18h0m1.5 8h0m12 0.5h0m-45.5-4h0m12.5 3h0m30 6.5h0m-25.5-3.5h0m-23.5-12.5h0m48.5 19h0m-61-6h0m40-41h0m1.5 24h0m-5 12.5h0m33.5-12.5h0m-68.5 13h0m70.5-7.5h0m-13.5-16.5h0m-13 12.5h0m14-7h0m-1 14h0m7-1.5h0m4-14h0m-26.5-7.5h0m-6 13.5h0m17.5 11h0m13.5-19.5h0m-22 8h0m1 10h0m7.5 1h0m-20-5h0m22 16h0m-19.5-11.5h0m15 14h0m-27.5-33h0m24.5 9.5h0m2.5-4.5h0m15.5 19.5h0m-8.5-22.5h0m5.5 3h0m7 15.5h0m-21-23h0m-14 19h0m-18.5-2h0m39.5-6.5h0m13.5 13.5h0m0.5-6.5h0m-31 0.5h0m28-5h0m-45 10h0m40.5-16.5h0m-30.5 19.5h0m26 6h0m-12.5-18h0m-38.5 10.5h0m34.5-11h0m20-21.5h0m-15 10.5h0m2.5-1h0m-25.5 15.5h0m40-5h0m0.5 4.5h0m0.5-3.5h0m-7.5-6h0m-13-1h0m4.5 8h0m16 9.5h0m-1-21h0m-19.5 36.5h0m-9-14.5h0m8.5-11h0m11-22h0m3 13h0m-6-10.5h0m18 13.5h0m-15.5 24.5h0m-16.5-12.5h0m27 4.5h0m-3.5-10h0m-13 7.5h0m-13.5 0h0m-22.5-11.5h0m31-3h0m12.5-17h0m1.5 26.5h0m-30-1h0m19-10h0m-28.5 10.5h0m42.5 4h0m-10.5-2.5h0m5.5 18.5h0m-25-8.5h0m6-13.5h0m18.5 0h0m8.5 9h0m-44.5-1.5h0m29.5-40h0m-1 18h0m-4 13.5h0m5.5 15.5h0m20.5-28.5h0m1 25.5h0m-14 15.5h0m-34.5-30h0m30-20.5h0m14 44.5h0m-29 6h0m24-17.5h0m5.5-17.5h0m-17.5 14h0m-22.5 3h0m24 1h0m-8-14.5h0m15-8.5h0m-29.5 19h0m5.5-21h0m25.5 18.5h0m4-9.5h0m-13.5 7.5h0m16.5 3h0m-7-2h0m-21.5 24.5h0m25-28.5h0m-16.5-21h0m-4 5.5h0m28 6h0m-3.5 4.5h0m2 22h0m-9.5-23h0m-15 26h0m27.5-25h0m-23-6h0m13 34.5h0m3.5-16.5h0m-46.5-12.5h0m24 5.5h0m-3 4.5h0m26-20.5h0m-11.5-1h0m-37 29.5h0m55 10.5h0m-32.5-13h0m13.5-9.5h0m-16.5-26h0m8 14h0m17 20.5h0m0-23h0m1.5 23h0m-6 3h0m4-0.5h0m-17.5-7.5h0m22-11.5h0m-12 4h0m-1 17.5h0m19-13.5h0m-17.5 28h0m-20.5-13.5h0m39 13.5h0m-18-21.5h0m-7.5-28h0m9 14h0m0.5 23.5h0m12.5-22.5h0m-62 7.5h0m56.5 9h0m-15.5-4.5h0m15.5 13h0m3-36h0m-10.5 21.5h0m-34.5 19h0m37.5 2h0m10.5-41.5h0m-5 39.5h0m-27.5-13.5h0m-15.5 8h0m37.5-7h0m-11-9h0m-0.5-6h0m24.5 13h0m-25 1.5h0m23.5-16h0m-13 5.5h0m-36-6h0m50 26.5h0m-7.5-32h0m-32 1.5h0m19 29.5h0m4.5-16h0m-23-3.5h0m35.5-1h0m-24-8h0m5-5.5h0m-3.5 2h0m-13 31.5h0m29-36.5h0m-5.5 7.5h0m-5 23.5h0m-7.5 3h0m-11.5-19.5h0m24.5 13h0m-26 2.5h0m38 2.5h0m-3-27.5h0m-29.5 22.5h0m4.5-20.5h0m21.5 29h0m-5.5-6.5h0m7.5-13h0m-12.5-6.5h0m-19-14h0m25.5 21.5h0m6.5 6h0m7 10.5h0m-29-31.5h0m19.5 14.5h0m3.5-2.5h0m-34.5 4.5h0m18.5-2.5h0m-13 6h0m28.5-7h0m0.5-0.5h0m-20.5 3h0m-7.5-8.5h0m-15 7.5h0m17 23h0m20-4h0m8.5-7.5h0m-34-8h0m-17.5-6h0m28.5-5.5h0m-19 7h0m33.5 3.5h0m8 14h0m-29-16h0m-16-0.5h0m38.5 14h0m2-19h0m-1 2h0m-3.5 15h0m1-14.5h0m-18 2h0m29 9.5h0m-29.5-3.5h0m17-4.5h0m6 4h0m-10.5 21h0m-24.5-23.5h0m32.5 19h0m-40.5-25h0m3.5 5h0m32-12.5h0m-3 12h0m8 7h0m-2-5h0m-16.5 15.5h0m28-27.5h0m-14.5 6h0m-9 6.5h0m7.5-17.5h0m11.5 33.5h0m-43-16h0m1.5 15.5h0m46.5 4.5h0m-53-12h0m43 2.5h0m-12-30h0m19.5 24.5h0m-17 15h0m-9.5-41h0m-14.5 15h0m26-6h0m14 4.5h0m-53.5 4.5h0m2-10.5h0m30-2.5h0m26 18.5h0m-9.5-20h0m4 43h0m-39-20h0m21-1h0m16-4h0m0-7h0m-18 5h0m4-18.5h0m3.5 45h0m-5-15.5h0m-23.5-13.5h0m1.5 1.5h0m32 16h0m0.5-10.5h0m-7 3h0m0.5-5.5h0m-19 3h0m18 13.5h0m-26.5-4h0m23.5 4h0m-16.5-14h0m-9-14h0m32.5-7.5h0m-23.5 8.5h0m19.5 7.5h0m-10 27.5h0m10-27.5h0m9.5 22.5h0m-23-4h0m27.5-7h0m-3-10.5h0m-5.5 1h0m-9.5 19.5h0m12.5 6h0m9-29.5h0m-29 7.5h0m8 19h0m-1.5-26.5h0m14 19.5h0m-30.5-21h0m2-4h0m25.5-13.5h0m-6.5 21.5h0m-24.5 22h0m13.5-44.5h0m-18 50h0m35-22.5h0m-5 8.5h0m-17-10.5h0m31.5-12.5h0m-18-1.5h0m0.5 30h0m1 8.5h0m1-34.5h0m-20.5-1.5h0m7 8.5h0m23.5-12h0m-28 23.5h0m1-1.5h0m28.5 14.5h0m-4.5-27.5h0m-24.5 19h0m19-19.5h0m-3.5 17.5h0m-16.5 6h0m7.5 7.5h0m10-19.5h0m2.5 3.5h0m-1.5-11.5h0m-18.5 22.5h0m36.5-22.5h0m-3 12h0m5-5h0m0 9h0m-15.5-5h0m-9.5-9.5h0m-25.5-9.5h0m34 20h0m-19.5-7h0m29-14.5h0m0.5 17.5h0m-5-24h0m-18 26h0m-33.5-2h0m15.5-10.5h0m-3 7h0m31-12h0m-2.5-2.5h0m1 4h0m-11 8.5h0m-6.5 19.5h0m12-16h0m-20.5-5h0m37.5 10.5h0m4.5-17h0m-18 7.5h0m23-1.5h0m-21.5 8h0m18-7.5h0m-8-2h0m-24.5 10h0m28-11.5h0m7.5 20h0m-33-12.5h0m29-8.5h0m-69.5 31h0m56.5-20.5h0m3-3.5h0m7.5 8h0m4.5-17.5h0m-3.5-14h0m-18 7h0m-2.5 14h0m-12-5.5h0m8-15h0m21 24h0m10-6.5h0m-4-4h0m-14.5-4h0m-4 20h0m0-14h0m14 30.5h0m-48.5-26h0m22.5 10h0m-5.5-3.5h0m33.5-36.5h0m-14.5 34.5h0m-39 22.5h0m58.5-30h0m-47 0h0m36 9h0m-13.5-1h0m-23-5h0m27.5-1h0m21 18h0m-4.5-6h0m-29-11h0m21.5-2.5h0m6 3.5h0m-42.5-11h0m45 1h0m-37.5 20h0m-13-12.5h0m41.5-8.5h0m6.5 28h0m-8.5-10h0m-33.5-2h0m-3.5 21h0m18.5-38.5h0m9-1.5h0m18 40h0m-10-12h0m6-28.5h0m-23-6h0m16.5 16h0m14.5-17.5h0m-32 18.5h0m21 2h0m-2.5-18h0m-21.5 31.5h0m-5-1h0m7-6h0m-13.5 3.5h0m-10.5 13h0m48-7h0m-7.5-36h0m-22 25.5h0m39 4h0m-22 12.5h0m-7-4.5h0m27.5-12h0m-5.5 14.5h0m-24-28.5h0m11.5 19.5h0m-11-12.5h0m19.5 14.5h0m-58.5-2.5h0m29 17h0m26.5-12h0m-12.5-2h0m5.5-17h0m17.5 19.5h0m-21-26.5h0m7.5 27h0m15-13h0m-3.5-3.5h0m-15 8.5h0m-20 9.5h0m1.5 0.5h0m10-15h0m24.5 11h0m-2-33h0m-3 14.5h0m-10.5 14h0m-38 16h0m53-34.5h0m-16.5-11.5h0m7.5 36h0m1.5 10h0m12.5-32h0m-8.5-13.5h0m-10.5 17h0m7 20h0m-45.5-2h0m42-20h0m-38 25.5h0m52.5-22h0m-43.5 1h0m30-9.5h0m-18.5 28.5h0m6.5-15h0m2-7.5h0m-10.5 11.5h0m34-14.5h0m-20.5 15h0m-15 10.5h0m29 2.5h0m-8-12h0m-28.5-0.5h0m25.5-16.5h0m-12 11h0m-2.5 16.5h0m30.5-23h0m-4-16.5h0m-32 36.5h0m6-14h0m8 24.5h0m-2.5-51h0m-8.5 19h0m23-8h0m-29 17.5h0m32.5-6h0m3.5 6h0m-36.5 10h0m3-32h0m24 6.5h0m-13 23h0m23-5h0m-12-5h0m-13.5-2h0m3.5-17.5h0m-19 44.5h0m13.5-12.5h0m-16 12.5h0m30.5-15h0m16-10.5h0m-13.5-20h0m6 8.5h0m-4.5 1.5h0m0 16.5h0m-29.5-28h0m30.5 6.5h0m11 18.5h0m-35.5 6.5h0m-3.5-16h0m-2 24h0m43.5-8.5h0m-13.5-16.5h0m3 6.5h0m9 5.5h0m2.5-5.5h0m-27.5 4.5h0m24-2h0m-8-5h0m-18.5 26.5h0m15.5-33.5h0m-16.5 15h0m18.5-2.5h0m-7.5-2h0m-5-6h0m20.5-26h0m3 40h0m-29.5 4h0m-1-8h0m-16.5 5.5h0m45.5 10h0m-38-12h0m-7 2.5h0m27.5-28.5h0m-29 11h0m34 32h0m7.5 0.5h0m-15-47h0m15.5 24.5h0m-4.5 21.5h0m-14.5-15.5h0m13-26h0m6.5 11.5h0m-14-19.5h0m5 5h0m-1.5 24h0m2.5-16.5h0m12 28.5h0m-55-19h0m17.5-0.5h0m35-1h0m-11.5-2h0m7-21.5h0m-23.5 40.5h0m2-3.5h0m8-10h0m16 3h0m0-14h0m-8 10h0m-19.5 20.5h0m-8-21.5h0m21 8.5h0m13 10h0m-7-27h0m-44.5 26h0m45-9.5h0m0-14.5h0m12 17h0m4 1h0m-11.5-2.5h0m-19.5-7.5h0m-9.5 4.5h0m-2.5-14.5h0m26 22h0m-28-23.5h0m15 6.5h0m9-2.5h0m6 8.5h0m6 17h0m-4-13.5h0m-22.5-10h0m-8.5-5h0m23.5 18.5h0m3-6h0m-23-4h0m40-9h0m-23 9.5h0m-1.5 18.5h0m-3-1.5h0m-21.5-13h0m12.5 7h0m27.5-40h0m-17.5 48h0m13.5-18.5h0m-18 12h0m-12.5-13h0m32-21h0m-0.5 49.5h0m3.5-23h0m-3 3.5h0m-16-11h0m16 12.5h0m-35.5-6.5h0m28.5 12.5h0m-2-26.5h0m12.5-1h0m1.5 19.5h0m-8 20.5h0m7-22.5h0m-23-0.5h0m14.5 10.5h0m-5-31h0m-17 40.5h0m36-49.5h0m-3.5 22.5h0m-8.5-5.5h0m-26.5 25h0m25 0.5h0m4-21.5h0m-36.5-16.5h0m47 23.5h0m0-21h0m-9 14h0m-28.5 18h0m29-19.5h0m-1.5-5h0m0.5 12.5h0m10-11h0m-19 5h0m-14-11.5h0m1.5 22.5h0m-5 0.5h0m17.5-16h0m2 30.5h0m-9-19h0m20.5 3h0m-4.5 0h0m-21.5-15.5h0m-24 11.5h0m43-0.5h0m-13.5-11h0m25 25.5h0m-8-25h0m5.5 17h0m-50-8.5h0m10-16.5h0m20.5 17.5h0m6.5 11.5h0m-16 9.5h0m-6-9.5h0m11.5 0h0m-21 6h0m48.5-4h0m-24.5-3h0m16-0.5h0m-6.5-6h0m-14 3.5h0m29-26h0m-18.5 24.5h0m16.5-2h0m-17.5-5h0m-4.5 0.5h0m-2.5 11.5h0m9 2h0m-4.5-5h0m-9 3h0m14-23h0m-14 28h0m28-10h0m-25.5-4h0m1.5-5.5h0m27-15h0m-18 24.5h0m-3-1h0m0.5-21h0m7.5 0.5h0m-35.5 21.5h0m9.5 11.5h0m23-22.5h0m-37 27.5h0m32.5-38h0m6 7h0m5 25h0m0.5-27.5h0m9.5 22.5h0m-12-5h0m-42-17h0m48.5 26.5h0m1 9.5h0m-9.5-9h0m10.5-20h0m2.5 1.5h0m-13 14h0m-13.5 15h0m10.5-19.5h0m-23 10h0m-2.5-22h0m-23.5 31.5h0m47-34h0m7.5 12h0m-15.5-4.5h0m26-5.5h0m-9.5 0.5h0m10 19h0m-67.5-17h0m35.5 22h0m25.5-28h0m4 9h0m-15.5 8h0m1.5-6.5h0m9.5-4.5h0m-21 3.5h0m-8.5-9h0m24 6h0m-9.5 6.5h0m10.5-34h0m2 39.5h0m-1 4.5h0m2-21h0m-15-6.5h0m14.5-1h0m-18 1.5h0m22-5.5h0m-43 30.5h0m20-22.5h0m-29.5 28.5h0m44-22.5h0m-18 17h0m1.5-15h0m-7.5-1.5h0m23.5-2.5h0m-15.5 11h0m8 4h0m5-23h0m-29-1h0m15 21h0m-13 21h0m23.5-26.5h0m-2-12h0m-21 18h0m39.5-2h0m-7.5-15h0m-26.5-3.5h0m14.5 26h0m-14.5 4h0m-18.5-7h0m56 7.5h0m-13-22.5h0m-16.5 25h0m-2-34h0m-6.5 23h0m-4.5-1h0m-17.5-13h0m47-1.5h0m-29.5 6h0m27.5-6h0m-9.5 17h0m14.5-34.5h0m-20.5 44.5h0m15.5-12h0m-17 7h0m29-2.5h0m-35.5-23h0m-16.5-1.5h0m52-4.5h0m1.5 11.5h0m-5.5 27h0m-5-1h0m-1.5-6.5h0m-31.5 0.5h0m33.5-18.5h0m10-1.5h0m-1 6.5h0m-25.5 21.5h0m-22.5-26.5h0m7 8h0m-0.5 22h0m24.5-29.5h0m-22 17.5h0m2.5-35.5h0m20 40.5h0m-8.5-25h0m-4 13.5h0m27 19.5h0m-30-5.5h0m3.5-0.5h0m18.5-15.5h0m-9-18.5h0m6.5 9h0m2.5-15h0m-0.5 10.5h0m3-7h0m-36 18h0m4.5-6.5h0m34-4h0m-17 14.5h0m-4-6h0m18.5 9.5h0m3-6.5h0m-3.5 9h0m-19.5-6h0m3.5 1h0m1.5-18h0m3.5 21.5h0m15 0h0m-13-12h0m-8.5 10h0m21-2h0m-10-7h0m-0.5-2.5h0m11.5 2h0m-7-12h0m3.5-8.5h0m-7 8.5h0m-18 19.5h0m6.5 12h0m-4.5-1h0m33-19h0m-23 22h0m21.5-24.5h0m-28 13.5h0m10.5-6.5h0m-5.5-7.5h0m19 2.5h0m-10 28.5h0m1.5-4h0m-15-37.5h0m6 20h0m-10.5-19.5h0m29.5 17.5h0m-25.5-3.5h0m-2.5 12h0m17.5-16h0m8.5-5.5h0m-13 9.5h0m-5.5-8.5h0m-1.5 8.5h0m22.5 27h0m-9.5-33h0m-17.5-1.5h0m-21 23.5h0m32-25.5h0m-2.5 27.5h0m-10.5-11.5h0m32-11h0m-22.5 31.5h0m15.5-32.5h0m0 7h0m-35-7.5h0m36 13.5h0m-46.5-0.5h0m49.5-5.5h0m-28 2h0m4.5 12h0m7.5-29.5h0m16.5 32h0m-21.5-10h0m19-11h0m-50 19.5h0m39.5-26.5h0m-4.5 19h0m7 1.5h0m9-15.5h0m1.5-18h0m-41.5 30h0m24.5-18.5h0m-15.5 23h0m24.5-9h0m1.5-1.5h0m-8-8h0m-30 6h0m19 14.5h0m12-3.5h0m-5-5h0m-11.5-8h0m30.5-28.5h0m-5 32.5h0m-34.5-19h0m42-8h0m-16 33.5h0m-16 7.5h0m21.5-27.5h0m-19 34.5h0m27-39.5h0m-53.5 24.5h0m13.5-12.5h0m14 3.5h0m-8 28h0m33-38.5h0m-43 12.5h0m37.5 27h0m-5.5-2h0m-35.5-22h0m46.5-3.5h0m-33 5.5h0m18-4h0m0.5 14h0m6-6.5h0m-1.5-23h0m-5 41.5h0m-12.5 0h0m0.5-40h0m-18 11.5h0m40-18.5h0m-16 12.5h0m-13-2.5h0m31 7h0m-49.5 26.5h0m-1-5h0m35.5-28h0m12.5 8h0m-26.5-5h0m13-11.5h0m5.5 20.5h0m-33.5-24.5h0m37 30h0m-7.5-5.5h0m-29-6.5h0m39-5.5h0m-20.5 16h0m5-15.5h0m18 31h0m-3.5-25.5h0m2-8.5h0m-6 11.5h0m12.5 0.5h0m-28 0.5h0m10.5 13h0m12-38h0m-36 25.5h0m21.5 3.5h0m10.5-4h0m-8-4.5h0m8 11.5h0m-12 11h0m-16-28h0m21 18.5h0m-7.5-1h0m8.5 17.5h0m-23-28h0m28.5-8h0m4.5 3h0m8.5 1.5h0m-17 31h0m-3-45.5h0m-15 15.5h0m31.5 10.5h0m-21-14h0m24.5 4.5h0m-10.5-0.5h0m7.5 11h0m-40.5-4h0m26 3h0m12-12.5h0m-18.5 12h0m11-9h0m4.5 4.5h0m-35-5h0m41-7h0m-6.5 9h0m6-12.5h0m-4 14h0m-1-37.5h0m-49 27.5h0m33-4h0m21.5 32h0m-4.5-12.5h0m-33.5-2.5h0m-5-5.5h0m-10.5 2.5h0m50-6.5h0m-31.5 23.5h0m19-41.5h0m13 20.5h0m-12-3h0m13 6h0m-32 3h0m4.5 1h0m10-23h0m1.5 27h0m1.5-12.5h0m-36.5-5.5h0m14 32h0m29.5-8.5h0m-9.5 3.5h0m17-21.5h0m-8.5 28.5h0m-23-14.5h0m34-7h0m-23.5 6.5h0m-16.5 19.5h0m-21-42.5h0m63.5 26h0m-5.5-1h0m4.5-23h0m-37.5 25h0m28-2.5h0m8 4h0m-16-5h0m-24-5.5h0m8-13.5h0m30 13.5h0m-9.5-2.5h0m-11.5 27.5h0m18.5-28.5h0m-3-7.5h0m4-3h0m-8 36.5h0m0-10h0m-14.5 11h0m14-21h0m4.5-19h0m8.5 36h0m-12.5-24.5h0m-15 15.5h0m15-24h0m-2 22.5h0m-28.5 16h0m9.5-14.5h0m-7.5-3.5h0m39 0h0m-6.5 4.5h0m-27.5-15h0m17.5-0.5h0m9.5 9.5h0m9-13.5h0m-12 5.5h0m5-14.5h0m-8.5-5.5h0m-3-1h0m-1 30h0m20-16h0m-17.5 12.5h0m-19-6.5h0m-3.5-1.5h0m40.5 4.5h0m-24.5 3.5h0m-14-11.5h0m18 15h0m-2.5 3h0m2 5.5h0m9 1.5h0m9-27h0m-15-3h0m-20 19h0m-16 7.5h0m16.5-29h0m38 18.5h0m-12.5 6h0m-3-3h0m-21.5-12h0m21.5 5.5h0m-40.5-14.5h0m21.5 6h0m21 6.5h0m-1 26h0m-7-10h0m0-32h0m-8.5 4h0m5 7h0m21-3h0m-58 13.5h0m55-3.5h0m-31.5 16h0m18.5-24h0m-9.5 4h0m-10.5 22h0m35-2h0m-13-19.5h0m7 13h0m-16.5-28h0m-10 20.5h0m26 13h0m1-8h0m0 3.5h0m9-1h0m-25.5-16h0m26 16h0m-34 8h0m18.5 8.5h0m12-33h0m-39 8h0m27.5 25h0m2-40h0m-19.5 22.5h0m-10.5-27.5h0m14.5 19.5h0m24 7.5h0m-6-15.5h0m-51-1h0m32 27h0m17.5-21h0m-18-2.5h0m20.5 9.5h0m-53.5 15.5h0m37.5-10h0m-16.5-19h0m-8 1.5h0m39 4.5h0m2-20.5h0m-10 16h0m16.5-6h0m0 3h0m-28 9h0m-19 6h0m9.5-10.5h0m5.5 13.5h0m-4-4.5h0m34 23h0m-28-8h0m24 0h0m-3-41.5h0m8.5 49.5h0m2-29h0m-46.5-5h0m40 13h0m4.5-2.5h0m-12.5-4h0m-33 27.5h0m22.5-22h0m7-19h0m9 5.5h0m5.5 9.5h0m-33.5 4h0m16.5-15.5h0m-16.5 26h0m-13.5-13.5h0m50.5-16h0m-16.5 32h0m9-14h0m8.5-13.5h0m-8.5-16h0m-49 45.5h0m34-29.5h0m17-13h0m-25.5 17.5h0m24.5 5.5h0m-27 3.5h0m18.5 14h0m5.5-34.5h0m-18.5 38.5h0m18-19h0m-7.5 5.5h0m-40.5-7h0m23.5 8.5h0m12-24h0m-15.5 41h0m6.5 0h0m-3.5-21.5h0m9.5 16.5h0m-1.5-26.5h0m5.5-0.5h0m2.5-2h0m16.5 22.5h0m-32.5-1h0m-4.5-3h0m13.5-9.5h0m-3 2h0m-19-7.5h0m43 12h0m0.5-32.5h0m-8.5 22.5h0m12.5-3.5h0m-20.5 32h0m-28.5-9h0m32-27.5h0m-38 23.5h0m51-4.5h0m-2 7.5h0m-3.5-12h0m9.5-13.5h0m-24.5 12h0m26-18h0m-38.5 31.5h0m15-21.5h0m17 4h0m4.5-0.5h0m-21 23h0m-0.5-18.5h0m3.5-3.5h0m-16 25h0m23-46h0m12 22.5h0m-14 18h0m-3-32h0m-11.5 31h0m-11-18h0m4.5 25.5h0m-2.5-36h0m36 6.5h0m-31 9h0m-30.5 13h0m26.5 1.5h0m23.5-36.5h0m12.5 21h0m0-19h0m-7.5 29.5h0m9.5-14h0m-57 20.5h0m31.5-23.5h0m23 29h0m-1-36h0m-14 29h0m-22.5-20h0m36 0h0m-40.5 7h0m20.5-2.5h0m5.5-23.5h0m-22.5 38.5h0m28-7.5h0m-12-22.5h0m-28.5 8.5h0m20-11h0m26 10.5h0m-48 15h0m16-6.5h0m19-9h0m-11.5-2.5h0m21 4.5h0m-42 17.5h0m28-10h0m12-25.5h0m-7.5 32.5h0m6.5-29.5h0m-10.5 38h0m8.5-7.5h0m-18.5 10h0m31.5-36h0m-35 22h0m27-6h0m-29-16.5h0m32.5 8h0m-22.5 26h0m25-6.5h0m-16.5 10h0m8.5-33.5h0m8.5 11h0m-46.5 15.5h0m31.5-14.5h0m-1.5-8.5h0m13.5-6h0m-31-14h0m13 37h0m-5-20h0m30-4.5h0m-15 9.5h0m5 29.5h0m9.5-8h0m-32-40h0m24 33.5h0m-10-12.5h0m-5.5 14.5h0m18.5-39.5h0m-25 16.5h0m0.5 23h0m28.5 1.5h0m0.5-25h0m-8-4.5h0m2.5 18.5h0m-1-14.5h0m-13 10h0m-7 0.5h0m17-3h0m9.5 21h0m-7-8.5h0m-1-14h0m-39.5 8.5h0m32-22.5h0m13.5 36h0m-2-23.5h0m-64-20h0m40.5 20.5h0m-4-3h0m21.5 14h0m1-1h0m10.5-11.5h0m-60.5 23h0m53.5-0.5h0m1 2.5h0m-47.5 3.5h0m28-33.5h0m-0.5 3.5h0m2.5-3.5h0m-34 14h0m54-6.5h0m-9.5 21h0m-59-8h0m41.5-15.5h0m10 17.5h0m-33.5 15.5h0m11.5-29.5h0m-3 23h0m-4-24.5h0m36 10.5h0m-24.5 7h0m15.5-2h0m-19.5 0h0m40.5-18h0m-41 3.5h0m11.5-5h0m16 6.5h0m4.5 3h0m4-7h0m-7.5 13h0m3 4.5h0m-18.5-5h0m26 0.5h0m-46 19.5h0m26.5-7.5h0m2-22.5h0m6 6.5h0m14 3h0m-56-3h0m41.5-5.5h0m14.5-12h0m-7 7h0m-18 10h0m-32.5-0.5h0m45-3.5h0m-26 28h0m-2.5-44.5h0m-4 37h0m34.5-26.5h0m-22.5 17.5h0m28.5 1.5h0m-38-22.5h0m15 25.5h0m21.5-7h0m-5 19h0m-18-30h0m-14 15.5h0m41 0.5h0m-15-21.5h0m14.5 12.5h0m-12.5 23h0m2-31.5h0m-3.5 22h0m14.5-4.5h0m-8.5 1.5h0m-1.5 11h0m10-15h0m3.5-7h0m-32.5-10h0m-15.5-3.5h0m38.5 21h0m-18-30h0m6 25h0m-29-17.5h0m44 9.5h0m-16 4.5h0m-4.5 24.5h0m-11.5-37.5h0m1 35.5h0m10-29h0m-28.5 31h0m45.5 0h0m-37 0h0m8-3.5h0m10-4.5h0m22-20.5h0m-7.5-2h0m-11.5 1h0m20-10h0m-5 6h0m11.5 1.5h0m-33.5 8.5h0m8-17h0m23 15h0m-8.5 25.5h0m-6-13h0m-8-27h0m0 20h0m12.5 2.5h0m-1-22h0m6.5 12.5h0m-1.5 0.5h0m-4.5 1.5h0m-56-13.5h0m36 11.5h0m-12 3h0m10.5-2h0m29.5 7h0m-16-3h0m-21-24.5h0m17 21.5h0m-2.5-15.5h0m20 22.5h0m-18-1.5h0m-20 7.5h0m38.5-14.5h0m3.5-13.5h0m-13 20.5h0m2.5-1.5h0m-36.5 18h0m14-31h0m14-0.5h0m19.5 6h0m-38.5-9h0m27 4h0m-13.5 12h0m21 17.5h0m-38-16h0m-11.5 11.5h0m35.5-20.5h0m20-9h0m-24 19h0m13.5 16.5h0m0.5-37.5h0m-7.5 5h0m-16.5 0.5h0m13.5 27h0m-29-8.5h0m-8.5-15.5h0m35.5-6h0m-4 2.5h0m7.5 35h0m19-48h0m-3 31h0m-10 0.5h0m-16-17h0m-24 18.5h0m47.5-4h0m1-8h0m-15.5 4.5h0m-4.5-1h0m19 3.5h0m-38.5 11.5h0m2.5-7h0m42.5-6.5h0m-9.5 1h0m-10.5-10h0m5.5-17h0m13 38h0m-33.5-14.5h0m13.5-4h0m5.5 17.5h0m9-8.5h0m-36.5 2.5h0m34.5-6h0m5.5 1.5h0m-16 2.5h0m11-16.5h0m5.5 28h0m-28.5-22.5h0m16.5-5h0m-1.5 3.5h0m-7.5 25.5h0m2 1.5h0m22-16.5h0m-42.5 8.5h0m28-0.5h0m-19.5-25.5h0m-10 29h0m16.5-24.5h0m26-9.5h0m-24 1h0m-2.5-7h0m-5.5 12.5h0m-5.5 11.5h0m24 19h0m-15.5-14.5h0m10 2h0m-5-27h0m25 9.5h0m-29 12.5h0m19 15.5h0m-9-1h0m-30-7.5h0m46-12.5h0m-21-7.5h0m15 5.5h0m-5 5h0m-4-9.5h0m6 25h0m-2-6h0m7 0h0m-18.5-9h0m-6-4h0m19 9.5h0m-11 18.5h0m11.5-24h0m-18 18h0m-7-21h0m26 29h0m1.5-50h0m-14.5 39.5h0m10-36.5h0m9.5 12.5h0m-14.5-7.5h0m-37 7.5h0m22 21h0m30-4.5h0m-2.5 3h0m-21 5h0m-15.5-27h0m28 25h0m-17-5h0m16.5 17h0m0.5-27.5h0m8.5 22.5h0m-39-46.5h0m35.5 28.5h0m-53 6.5h0m54-13h0m-22.5 17.5h0m-17.5-2.5h0m20.5-8h0m23-4.5h0m-4.5-5.5h0m10.5 7.5h0m-25 25h0m13-19h0m-19.5 7.5h0m-27-3.5h0m38.5-10.5h0m18 2h0m-24-26h0m-13 33h0m16 5h0m1-11h0m17-3.5h0m3.5-17.5h0m-27 30.5h0m-7-16.5h0m23 0.5h0m-30 5.5h0m-18 2.5h0m41.5-5h0m1 19h0m9.5-9.5h0m-2.5-10.5h0m-4-16.5h0m-10 9h0m17.5 6.5h0m-18 1.5h0m17.5-2h0m7.5-4h0m-22.5-2.5h0m0.5 31.5h0m8.5-16.5h0m-16-31h0m12.5 16.5h0m-35.5 17h0m30 1.5h0m-45-3.5h0m63 11.5h0m-24.5-5.5h0m6-20.5h0m-18 1h0m21.5 5.5h0m7 0.5h0m-24 8.5h0m21.5 10h0m-23.5-1.5h0m10-6h0m10-6.5h0m-1.5 12h0m-23 1.5h0m19-31.5h0m-12 21.5h0m-3-15h0m35 9h0m2.5 9.5h0m-2.5-5.5h0m-7.5 13h0m-15.5-26.5h0m-18 2.5h0m12.5-0.5h0m7 6h0m-35.5 12h0m56-1h0m-57.5-14h0m35.5 8.5h0m3.5 3h0m21-2.5h0m-17-4h0m-11.5 9h0m3.5-8h0m10-11h0m-1-2h0m-17.5 22h0m28-15.5h0m3 7h0m-27.5 14h0m18.5 4.5h0m3-27.5h0m-14.5-16h0m5.5 16h0m-39-6.5h0m51.5-12.5h0m-13 6.5h0m-6.5 32h0m23-17.5h0m-31.5 12h0m20 15.5h0m12.5-35.5h0m-18.5 21h0m12.5-25h0m-7 21.5h0m-16-2.5h0m14 4.5h0m2-5.5h0m-45.5-8h0m56 3h0m-3.5 0h0m-45 10.5h0m17-12h0m36 17.5h0m-6-15.5h0m-39 0.5h0m-5.5 14h0m33.5-27h0m17.5 13h0m-15 21h0m-6.5-13.5h0m-13-10h0m-31.5 10h0m54.5 18h0m9-30h0m-21.5 17.5h0m-22.5-7h0m4 22h0m18-45.5h0m17-1.5h0m-20 24h0m2.5 20.5h0m-35-22h0m18.5-24h0m12 10h0m27.5-18h0m-39 53h0m30-39h0m-2.5 22.5h0m9.5-0.5h0m-8-14h0m-31 11h0m-9.5 17h0m30.5 6.5h0m8-19.5h0m-18.5 7h0m5.5-42h0m14.5 41h0m7.5-30.5h0m1.5 25.5h0m-22-24h0m22 6h0m-7-8.5h0m-25 16.5h0m4-6.5h0m27.5 12h0m-31 14h0m-20-33.5h0m31-7h0m10 16.5h0m14.5-22.5h0m-16 43h0m-41.5-8h0m-0.5 7.5h0m49-21h0m-44 27.5h0m25.5-21h0m-24-3.5h0m10-11.5h0m11 16h0m25-29h0m-7.5 43h0m-6-19.5h0m-34.5-13.5h0m50.5 36.5h0m0-15.5h0m-16-3h0m8.5-15.5h0m2.5 6h0m0 25h0m-35.5-3.5h0m34.5-6.5h0m3.5-17.5h0m-23-5h0m3.5 20h0m16.5 11.5h0m-30.5 7.5h0m25-28.5h0m-8.5-6.5h0m-10.5 23h0m19 7.5h0m-28 1.5h0m35.5-19.5h0m-38.5 28h0m21.5-14.5h0m-12-7.5h0m35.5 19.5h0m-38.5-24h0m19 14.5h0m20-26h0m-34 38h0m-5.5-35.5h0m21 31h0m-5-20.5h0m22.5-10h0m-50 19h0m42.5-12h0m-52 8h0m49-2.5h0m1.5-19h0m-2 31.5h0m8.5-26h0m-14-11h0m12.5 10.5h0m-1.5 22.5h0m4.5-17.5h0m-10-3h0m-8.5-0.5h0m-5 35h0m24 0h0m-8-45h0m-16 12.5h0m10 4h0m-27 9h0m5-14h0m3.5-9h0m11 8h0m-27 22h0m1-12.5h0m-15.5-21.5h0m56.5 21h0m-14 12.5h0m-12-24.5h0m18.5 18.5h0m14.5-9h0m-17.5-20.5h0m2 7.5h0m-8.5 29h0m13.5-26h0m-34.5 0h0m34-7.5h0m-3.5 19h0m4.5-2h0m-4-22h0m2.5 46h0m-45.5-4.5h0m53.5-6.5h0m-25.5-19.5h0m7.5-1h0m-22 11h0m27.5-14.5h0m0 21h0m12 1.5h0m-19.5-5h0m-21 22h0m40-9.5h0m-33.5-17h0m19 4h0m-44.5 11.5h0m33.5-27.5h0m6.5 6.5h0m6 6h0m-6 0.5h0m-0.5-14h0m-29.5-13h0m25 39.5h0m8-10h0m11.5 3.5h0m-32.5-8.5h0m41.5 16.5h0m-3.5-13h0m-68.5-16.5h0m21 22h0m41 6.5h0m-27-17.5h0m1-3h0m32 14h0m-3-24.5h0m6 15h0m-19.5-13.5h0m5.5 6.5h0m-44 14h0m35 1.5h0m-14.5-13.5h0m22.5 19.5h0m4 6h0m-44.5-36h0m55.5 33.5h0m-10.5-9.5h0m-1.5 0h0m-53.5 0.5h0m67 9.5h0m-15.5-2.5h0m-14.5-20h0m-5 5.5h0m13.5 27h0m3.5-36h0m-7 3h0m-18.5 13h0m20 12.5h0m21-39.5h0m-8.5-12.5h0m-13.5 42h0m7 17.5h0m-5-54h0m22 24.5h0m-14.5-3h0m14-0.5h0m-21.5 19h0m-1-6h0m-28 4.5h0m24-12.5h0m25 7h0m-46.5-19.5h0m39 16.5h0m-24-17h0m19.5 32h0m-26-15h0m27-4.5h0m2.5 13.5h0m-32.5-13.5h0m-26.5 10.5h0m52.5-29h0m-29.5 8h0m6 14h0m21 6.5h0m8.5-8h0m-23.5-15h0m8 12.5h0m20 5h0m-2 4h0m-6.5 19.5h0m-3.5-38h0m15.5 20h0m-36-6h0m5.5-4h0m29.5 12h0m-11.5-4.5h0m16-10h0m-25.5-13h0m-10.5 22.5h0m16.5-1h0m-19 0h0m36 1.5h0m-7.5-16.5h0m-23 29h0m-16-12h0m25.5-4h0m-21-9h0m5 4h0m26 13h0m-23.5-1.5h0m12.5 9.5h0m21-16h0m-12 1.5h0m-4.5 18h0m2.5-22.5h0m4-28h0m-2.5 26.5h0m11 9.5h0m-23.5 3.5h0m5.5-25h0m-13 18.5h0m-7 9h0m19 10h0m2.5-33.5h0m5.5 37h0m4-29h0m-7 15h0m15.5-26.5h0m0 16h0m-10.5 6.5h0m13-24h0m-15 35h0m11.5-29.5h0m-3.5 1h0m-3 35.5h0m-13.5-10.5h0m17.5-2h0m-30-3.5h0m24-10h0m-18 6h0m24.5-13.5h0m-7.5 15.5h0m-12 15h0m22.5 3h0m-20-8h0m-1.5-5.5h0m-12 3h0m17-20h0m12 7h0m6 20.5h0m-12.5-10h0m7-5.5h0m-42.5-34h0m-12.5 24.5h0m57.5 7h0m-43-5.5h0m32-11h0m-2.5 28.5h0m-9.5-37h0m25.5 32h0" stroke="#2641fb" stroke-width="1.45" stroke-linecap="square" fill="none"/><path d="M154.5 148.9h1.2" stroke="#444" stroke-width="0.8"/><text x="152.1" y="151.9" font-size="7.6" text-anchor="end" fill="#000">0</text><path d="M154.5 128.5h1.2" stroke="#444" stroke-width="0.8"/><text x="152.1" y="131.5" font-size="7.6" text-anchor="end" fill="#000">0.2</text><path d="M154.5 108.1h1.2" stroke="#444" stroke-width="0.8"/><text x="152.1" y="111.1" font-size="7.6" text-anchor="end" fill="#000">0.4</text><path d="M154.5 87.7h1.2" stroke="#444" stroke-width="0.8"/><text x="152.1" y="90.7" font-size="7.6" text-anchor="end" fill="#000">0.6</text><path d="M154.5 67.3h1.2" stroke="#444" stroke-width="0.8"/><text x="152.1" y="70.3" font-size="7.6" text-anchor="end" fill="#000">0.8</text><text x="155.5" y="157.9" font-size="7.6" text-anchor="end" fill="#000">−1</text><text x="195.4" y="157.9" font-size="7.6" text-anchor="middle" fill="#000">0</text><text x="236.4" y="157.9" font-size="7.6" text-anchor="middle" fill="#000">1</text><text x="197.2" y="61.4" font-size="7.6" text-anchor="middle" fill="#000">Spearman:0.10</text><text x="195.4" y="167" font-size="7.6" text-anchor="middle" fill="#000">Human−mouse Pearson <tspan font-style="italic">r</tspan></text><text transform="translate(135.9,108.1) rotate(-90)" font-size="7.6" text-anchor="middle" fill="#000">Proportion of mouse bases conserved</text><path d="M270.5 149H351.9" stroke="#7a7a7a" stroke-width="1.7" fill="none"/><path d="M270.5 67.3V149.5" stroke="#4d4d4d" stroke-width="1" fill="none"/><path d="M333.5 148.5h0m-39.5 0h0m51.5-2.5h0m-7.5-12.5h0m-15 14.5h0m-20-1h0m44 1h0m-17-2.5h0m-2 3h0m-39-3h0m47.5-3.5h0m4.5 6.5h0m-1-2h0m-54.5 0.5h0m42-6.5h0m-47.5 8h0m53 0h0m-31.5-3h0m44-6.5h0m-20.5 7.5h0m18.5-24.5h0m-9.5 26h0m-24.5-2h0m-18.5 1.5h0m9 1h0m-6-0.5h0m7.5-1h0m6.5-8h0m-18 9.5h0m43.5-6.5h0m-22-14.5h0m35.5 18.5h0m-38.5 2.5h0m24-3h0m-5 2h0m-20-1h0m17 1h0m-42.5-18h0m31.5 13.5h0m34 4h0m-38.5 0h0m-7.5-1.5h0m36.5 0.5h0m-25 2.5h0m-12-4.5h0m48 0.5h0m-7 0h0m5 3h0m-9-0.5h0m9-17h0m-17-0.5h0m14.5 17.5h0m4.5 0h0m-3.5 1.5h0m-18.5-1h0m11-2h0m-24.5-6.5h0m12.5 9.5h0m8.5-0.5h0m-29-1.5h0m-18 1h0m15-3.5h0m-15.5 4.5h0m53-0.5h0m-19 0.5h0m29.5-4h0m-34.5 2h0m-9 1h0m22-0.5h0m-2.5-1h0m-6.5 2.5h0m17.5-9h0m-15 5h0m19 3h0m-7-1.5h0m15.5-0.5h0m-15.5 1h0m-39 2h0m12.5 0h0m25.5-2h0m-19 1h0m26-1h0m-23-2h0m16 4h0m-40-3h0m52-4.5h0m-33 5.5h0m-24 1.5h0m54.5-1.5h0m-64 0h0m14 2h0m38 0h0m7-9.5h0m-0.5-4.5h0m4.5 3.5h0m1.5 7h0m-7-12.5h0m-10.5 13.5h0m24.5 1h0m-43-0.5h0m4.5 2h0m22.5-1h0m-7.5-1h0m-12 0.5h0m10.5 0.5h0m19.5-4h0m-1 2.5h0m-11.5 0.5h0m-17 2h0m20-2h0m10 2h0m-33.5-0.5h0m10-1h0m26.5 0.5h0m-18.5 0.5h0m-47.5-1h0m11.5 1h0m50-9h0m-6.5 7.5h0m-12.5 2h0m18.5-3h0m-15-1h0m-30.5 4h0m26 0h0m-9-3h0m27.5-10h0m-58 11h0m43 2h0m-13.5-3h0m-30.5 1.5h0m41-2h0m-15-2.5h0m-3 5.5h0m-11 0.5h0m50-20.5h0m-40 19.5h0m-15-1.5h0m39.5 1.5h0m12.5 0h0m-17 1h0m22.5-7h0m-35 7h0m-14-1.5h0m43.5 1h0m-36 0.5h0m33.5 0h0m-24-7.5h0m13 6.5h0m-26-3h0m36 2h0m10.5 1.5h0m-16.5 0.5h0m-34.5-2h0m15 2h0m25-3h0m-38.5 2h0m26-2.5h0m1.5 0.5h0m-33 2.5h0m-3 0h0m56-3.5h0m-11.5 3h0m6-0.5h0m4 0.5h0m-11.5-26h0m-6 25.5h0m-0.5-0.5h0m-46 1.5h0m45.5 0h0m19.5-1.5h0m-47.5 2h0m33.5-6.5h0m-13.5 4.5h0m30.5-5h0m-24 6h0m-11.5-2.5h0m27-1h0m-20 4h0m-2-7h0m23.5 5h0m3 0.5h0m-22 2h0m23.5-1h0m-24.5 0.5h0m-6 0.5h0m-24.5-1h0m40.5 0.5h0m14-1.5h0m-8-2.5h0m-19.5 0.5h0m3.5-4h0m11.5 4h0m-37 3.5h0m30-1h0m1.5-1h0m-44.5-1h0m42.5 3h0m-15.5-5.5h0m35.5 3h0m-39 2h0m34-11.5h0m-42 12.5h0m42-1h0m7.5-16.5h0m-56 17h0m36.5-18.5h0m-14 18.5h0m13.5 0.5h0m10.5-13.5h0m-27 12h0m12 0.5h0m9.5 0h0m-7.5-9h0m-2 3.5h0m4 3.5h0m1 2.5h0m-15.5 0h0m8 0h0m8 0.5h0m17-5h0m-14 2.5h0m-38 0.5h0m41 0h0m-15 0.5h0m27.5-2.5h0m-50 3.5h0m18-13.5h0m-18.5 12h0m5 2h0m-10 0h0m39-10.5h0m-5.5 4h0m-6.5 6h0m-3 0h0m25.5-2h0m-48 2h0m20-2.5h0m-10 3h0m24.5 0h0m18.5-4h0m-33 3h0m-24 1h0m40-3h0m-32.5 3h0m13 0h0m13.5-0.5h0m23.5-3h0m-18 0.5h0m-9 1.5h0m-3.5-3.5h0m2.5 5h0m16-1.5h0m-17-2h0m-22.5 1.5h0m49 0h0m-4.5 1.5h0m-64-1h0m45.5 0h0m-7.5-4.5h0m13 4.5h0m10-8h0m-32 8h0m2 1.5h0m5-4h0m-24 4h0m38-2h0m19.5-5h0m-34 3h0m11.5-2.5h0m-13 6h0m36.5-6h0m-2.5 3h0m-49.5 2.5h0m24.5-1.5h0m1 0h0m26.5 2h0m-26.5 0.5h0m-15-2h0m21 1.5h0m-23-4.5h0m20.5-0.5h0m23 4.5h0m-12-6.5h0m13 7.5h0m-1-7h0m-20 5.5h0m3.5-6h0m14.5 7.5h0m-23-0.5h0m-4 0h0m9.5 0.5h0m-29-10.5h0m13 9.5h0m16-3.5h0m17.5 4h0m-21-4h0m16 4h0m-6-1.5h0m-49 2h0m31.5-1.5h0m26.5-4.5h0m4.5 5h0m-17.5 0.5h0m15.5 0h0m-47 0.5h0m48.5-3.5h0m-18-4h0m1.5-0.5h0m-16.5 7.5h0m35-11.5h0m-14.5 9h0m10-11.5h0m-4 7.5h0m-25 7h0m16.5-1h0m11-0.5h0m-31.5 0.5h0m-28.5 0.5h0m21.5 0.5h0m33-0.5h0m-40.5-0.5h0m31-2h0m14 1.5h0m-22.5 0h0m-22-1.5h0m23.5 0.5h0m-1.5 1.5h0m6-1h0m8 1.5h0m15-0.5h0m-44 0h0m23.5 0h0m19-1.5h0m-3 2.5h0m-35-0.5h0m19-1h0m19.5-15.5h0m-33.5 0.5h0m11 15h0m-21.5 1h0m44-6h0m-54 2.5h0m32.5 3.5h0m-17.5 0h0m30 0.5h0m-25-6.5h0m28.5 6h0m4.5 0h0m-5-1h0m2 1.5h0m-25-1h0m-18.5 1h0m47-21h0m-45 18.5h0m27.5 1h0m4-5h0m-46 5h0m52 1.5h0m2.5-3.5h0m4.5-0.5h0m-43 3h0m32 1h0m-3.5-1h0m-56-3h0m57 1h0m-9.5 1.5h0m12.5 0.5h0m-19.5 0.5h0m8-5.5h0m-11.5-2h0m0 7h0m-21.5-2h0m46 2h0m-4-3.5h0m-9 4h0m5 0h0m16-2.5h0m-7.5 2.5h0m-8.5 0h0m-22.5-5h0m20-7.5h0m-6.5 8.5h0m-25.5 4.5h0m-11 0h0m55.5-4.5h0m-14.5 2.5h0m-46.5 0h0m54.5 1h0m-42.5-1h0m9.5 0h0m44 2h0m-28-0.5h0m31.5-2h0m-18-10.5h0m16 12h0m-30-1.5h0m26 1h0m-13 1.5h0m-36.5 0h0m7-0.5h0m27.5-6h0m-43.5 4h0m33.5-9.5h0m-16.5 11.5h0m34.5-1.5h0m10.5-1.5h0m-13.5 1.5h0m-1.5 1h0m10-2h0m-5.5 1.5h0m-23.5-2h0m29 3.5h0m-18.5-4h0m8.5 0.5h0m1.5-18h0m8 19.5h0m-30-0.5h0m-23.5-2h0m60.5-1h0m-36.5 5h0m38.5 0.5h0m-33-1h0m32.5 0.5h0m-50 0.5h0m-0.5 0h0m20.5-2.5h0m30-4h0m-35.5 5.5h0m31-14h0m-6.5 13h0m-38.5 1.5h0m-13.5 0h0m61.5-3h0m-7 3h0m-49.5-8.5h0m51.5 8.5h0m-27.5-1.5h0m20 1.5h0m-1-1.5h0m5 1.5h0m1.5 0.5h0m-10.5-14h0m-21 13.5h0m30-0.5h0m5.5 0.5h0m-8.5-2.5h0m-17 1.5h0m-15.5-2h0m32.5 0.5h0m3.5-1.5h0m-21 4h0m18.5-1.5h0m5.5-3.5h0m-23 4h0m-2-3.5h0m28.5 1h0m-27 4h0m-37.5-1h0m38.5 1h0m22.5-1h0m-30-1.5h0m22-9.5h0m10.5 3.5h0m-12.5-7h0m-5 7.5h0m2 4.5h0m-7.5-5h0m-23.5 6.5h0m13 0h0m29 2h0m-31-1h0m-20.5 0.5h0m41.5-3.5h0m12 2h0m-12-4.5h0m-3 6h0m-17.5 0.5h0m16-1.5h0m-39-1.5h0m6.5 2.5h0m22 0h0m13.5 0.5h0m3-4h0m9-1h0m-48 4.5h0m38-1h0m-18.5-6h0m31 3.5h0m6 2h0m-16 1.5h0m15-11.5h0m-43 10.5h0m39.5 1.5h0m-26-1h0m30-4h0m-50 4h0m30.5-2h0m-0.5 0.5h0m-10 2.5h0m31-1.5h0m-32.5 1h0m17-2h0m11-0.5h0m-21.5 3h0m16.5-9.5h0m-11.5 0.5h0m-16 3.5h0m-15 2.5h0m37.5 0.5h0m-13.5-22h0m18.5 22.5h0m-38.5 0.5h0m3 0.5h0m13-23h0m-3.5 24h0m-1.5-2h0m24-2.5h0m9 2.5h0m2.5 1h0m-39-8.5h0m29-3h0m-14.5 12.5h0m23.5-0.5h0m-0.5 0h0m-11.5-1.5h0m-55.5 1h0m46 0.5h0m24.5-1.5h0m-2 2h0m-14.5-1h0m-21 0h0m-3.5 1h0m-19-0.5h0m46.5-0.5h0m-42 0h0m48.5-2.5h0m-5.5 0.5h0m5.5 2.5h0m-27 0.5h0m-10 0h0m36.5-11.5h0m-5.5 10.5h0m-3.5-0.5h0m-20.5 0h0m14.5 0h0m-19-5.5h0m-10.5 6.5h0m0-0.5h0m13.5 0.5h0m16 0.5h0m-0.5-24.5h0m-29.5 22.5h0m27.5 2h0m25-1h0m-62.5-0.5h0m5.5 1h0m52.5 0h0m-39.5-5h0m32 4h0m-8.5-2h0m8-4h0m5-5h0m-9 11.5h0m-20.5 0.5h0m-3.5-2h0m19 2.5h0m12.5-2.5h0m-3 1.5h0m-43-1h0m34 0.5h0m21-2h0m-9.5 3h0m-39 0.5h0m4-2.5h0m-21 2.5h0m36-1h0m-28 0.5h0m-4.5-3.5h0m19.5 3h0m11.5-0.5h0m-9 1h0m4-1.5h0m15.5 1h0m10 0h0m-12.5 0h0m-3.5-7h0m9.5 6.5h0m-0.5-1h0m-31 1.5h0m-9-1.5h0m37.5 0h0m14.5-2.5h0m-24.5 4h0m23.5-1h0m-9.5 1h0m-23-8.5h0m18.5 9.5h0m-5.5-0.5h0m12-1h0m-13.5 1h0m11-18.5h0m-29.5 18h0m0.5 0.5h0m41.5-2.5h0m-13 0h0m3.5-27.5h0m-21.5 24.5h0m30.5 4.5h0m-2.5 0.5h0m-44-3.5h0m49.5-2h0m-42 6.5h0m5-0.5h0m-8-2h0m1.5 2h0m3.5-2.5h0m41 2.5h0m-7.5-0.5h0m-55.5 0h0m19 0.5h0m19 0.5h0m-18.5 0h0m7.5-5h0m17 1h0m-14.5 3.5h0m-8.5-0.5h0m28.5 0h0m-16.5 0h0m13.5-2h0m2 0.5h0m-10-2.5h0m10.5-4.5h0m2.5 9h0m-13-2h0m3 0h0m-28.5 1.5h0m1 0.5h0m32-2h0m14.5-3.5h0m-16.5 4.5h0m-10-0.5h0m15-2h0m0 2.5h0m12-10.5h0m-56 11.5h0m1 0h0m50.5-2.5h0m-32 1h0m31 1h0m-16.5-2h0m-39.5 0h0m62.5 2h0m-9-1h0m-9 2h0m-53-0.5h0m3-0.5h0m60-3h0m-44 4h0m26.5-1.5h0m20.5-1.5h0m-39.5 3h0m43.5-2.5h0m-40 0h0m-8.5 2h0m14-0.5h0m30-1.5h0m-57 2h0m61-0.5h0m-37 1h0m-30.5 0h0m33.5-7h0m-23.5 5.5h0m34 1h0m23-4h0m-24.5 2h0m17 1h0m-12 1h0m-12.5 0.5h0m33-2.5h0m-30.5 2.5h0m32-4.5h0m-28 3.5h0m17.5 1h0m9.5 0h0m-7-5h0m-15.5 5h0m6-1.5h0m7.5-5h0m1.5 2.5h0m-4.5 2.5h0m-4-1h0m7.5-3h0m8.5 5.5h0m-19-8.5h0m-15.5 8h0m6-0.5h0m5-11.5h0m8 5.5h0m-22 2.5h0m-8 0h0m22 0h0m23 2.5h0m-46.5-1.5h0m11 2h0m33.5-5h0m-34.5 1.5h0m13 4h0m23-5.5h0m-54 5.5h0m50.5-10h0m-54 10h0m55 0.5h0m-14.5-4h0m6.5-4.5h0m1.5 3h0m-61.5 4.5h0m35.5-2.5h0m14-7.5h0m3 8h0m-1-1.5h0m-29.5 2h0m-20 0.5h0m69.5-2h0m-40 4.5h0m20.5-2.5h0m-17.5 0h0m30 2.5h0m-39-1h0m31.5 1h0m-36.5-0.5h0m31.5-0.5h0m-4.5-1.5h0m25-4h0m-12.5 6.5h0m7 0h0m0 0h0m-56.5-5.5h0m33.5 4.5h0m5.5-12h0m15.5 9.5h0m-5 3.5h0m-9.5-1.5h0m17-3h0m1-2h0m4.5-4h0m-21.5 10.5h0m-18-1.5h0m34-11h0m-46.5 9h0m52 1.5h0m-35.5 1.5h0m-20-0.5h0m-5 1h0m24-5h0m-3 3.5h0m6.5 0.5h0m29.5-0.5h0m-22.5-8h0m25 2h0m-32.5-2.5h0m-2 9h0m-1.5 0.5h0m34.5-1.5h0m-14 2h0m12.5-3.5h0m-60 0h0m30.5 3h0m0-0.5h0m-29.5 1h0m55.5-0.5h0m-10.5-0.5h0m-2.5-2.5h0m-19-15.5h0m-3.5 18.5h0m26.5-3.5h0m-8 1.5h0m-14.5 2h0m17 0.5h0m8.5-3h0m-5 3h0m-52 0h0m64.5-0.5h0m-58.5-0.5h0m13 0h0m33 1h0m16.5-14h0m-30 7.5h0m8-9h0m0.5 15h0m15-1h0m-44.5-1.5h0m36.5 1h0m-24.5 1.5h0m41-1.5h0m-10-4.5h0m-8 0.5h0m-48.5 2.5h0m36.5 3h0m-31 0h0m32-1h0m18.5-11h0m-24.5 11.5h0m-14 1h0m-10.5-1h0m36.5 0h0m-14 1h0m36-8h0m-6 6h0m-9-8.5h0m2.5 8h0m4-10h0m-40 11h0m15.5 0.5h0m31 1h0m-32.5-2h0m14.5 1h0m-5 0.5h0m-7-0.5h0m27-5.5h0m-50 4h0m-9-5.5h0m55 4.5h0m-29 0.5h0m-4.5 1.5h0m18.5 1.5h0m-6-6h0m12 0.5h0m-35.5 5h0m17 0h0m27 0.5h0m-13.5-0.5h0m-1.5-0.5h0m5.5-2.5h0m-52 3h0m68-3h0m-33-2h0m-32 1.5h0m45.5 4h0m4.5-10h0m-4.5 8.5h0m-35 1.5h0m23-0.5h0m-4.5-5h0m38.5 5h0m-13.5-5h0m-14.5 5h0m27.5-1h0m-32-6.5h0m26.5 7.5h0m-2-7.5h0m-41.5 7h0m6.5-2h0m10 2h0m-8.5 1h0m-3-1h0m34-0.5h0m-42-1.5h0m48.5 1h0m-27-1h0m16 0h0m11.5 2.5h0m-3.5-0.5h0m-19.5-2h0m-12.5-2h0m21 1.5h0m15.5 2.5h0m-20.5 1h0m4.5-2h0m-28-1.5h0m42-25.5h0m5 25.5h0m-6.5 3h0m-5-5h0m-50 4.5h0m52-3h0m-45 4h0m34.5 0h0m5.5-2.5h0m-23.5 2h0m28.5-1h0m2.5 1.5h0m6.5-6.5h0m-36.5 5h0m27.5-4h0m10.5-42.5h0m-33 47.5h0m-21.5-3h0m5-0.5h0m-2 1h0m40.5 0.5h0m-60 2.5h0m45.5 0h0m-47.5-4h0m69.5-0.5h0m-12.5 1h0m-3.5 3h0m-2-2.5h0m-21.5 0h0m27.5 3h0m-7.5 0h0m5.5-3h0m-47.5 2.5h0m24.5 0h0m24.5 0h0m-5-9h0m6 7.5h0m0-1h0m10.5-6.5h0m-10 9.5h0m-19-0.5h0m10-1h0m-2.5-2h0m18 2.5h0m-7.5-7h0m-9.5 6.5h0m5 1.5h0m-1.5-0.5h0m-13.5 0h0m8 0.5h0m27-6h0m-1 3h0m-11-3h0m-1.5 2h0m0.5 2h0m8-1.5h0m-3 2h0m5-5.5h0m-32.5 4.5h0m-5.5-1.5h0m29 3.5h0m-38.5-0.5h0m15.5-6h0m31.5 4.5h0m-39-0.5h0m21.5 1h0m-8.5 1.5h0m-30.5-5.5h0m34.5 5.5h0m19.5-2h0m-27-0.5h0m30 2.5h0m-1-1h0m-7.5-10h0m-14 11.5h0m-28 0h0m38 0h0m-51-4.5h0m61.5-6h0m-16.5 9h0m19 0h0m-45.5-0.5h0m27.5 1h0m6 1h0m-24.5-2h0m9.5 1.5h0m-11.5 0h0m28.5-2h0m2.5 1h0m1 0.5h0m-28 1h0m12.5 0h0m-31-1h0m-4.5-0.5h0m41.5-0.5h0m3 1.5h0m-4-6h0m4 4.5h0m13.5-5.5h0m-32 6.5h0m-0.5 0.5h0m-2.5-0.5h0m36 0h0m-32-0.5h0m-21.5 1h0m5.5-2h0m2-1.5h0m34.5-7h0m-4.5 9.5h0m-3-0.5h0m-32 0.5h0m15.5 1h0m33.5-25h0m-27 25h0m27.5-5.5h0m0.5 3.5h0m-28.5 0.5h0m23.5 2h0m-5.5-2h0m-9.5 2h0m-30-0.5h0m30-1h0m-5-4.5h0m-7.5 5.5h0m18-0.5h0m10.5 0.5h0m-35.5 0.5h0m-0.5-4.5h0m1.5 1.5h0m23.5-0.5h0m-9.5-2h0m8.5 1h0m-10.5 4h0m-33-1h0m38.5 1.5h0m-31.5-5.5h0m35 3.5h0m8.5-9.5h0m-30.5 1.5h0m33 10h0m-8 0h0m-13.5-2h0m12 0.5h0m17-7h0m-2 6h0m-16-7.5h0m-14 7h0m21-1h0m-2.5 0h0m-16.5 3.5h0m14.5 0h0m-30 0.5h0m38-22.5h0m-28 15.5h0m-8 6h0m6 0.5h0m18-2.5h0m13 2.5h0m-3-2h0m6-12h0m-34 13h0m19.5 0.5h0m4.5-2h0m-5-37h0m7.5 36.5h0m-48 3h0m2.5-10h0m3-4h0m42 14h0m11 0.5h0m-9.5-0.5h0m10.5-3h0m-1 2.5h0m-18-1h0m-15.5 0h0m30.5-3.5h0m-32-3.5h0m21.5 7.5h0m-2.5-3.5h0m-35-3.5h0m47 7.5h0m-9.5-0.5h0m9.5-7.5h0m-33 6h0m19.5 1.5h0m0.5-10h0m-7 10h0m-5 1.5h0m-2.5-3.5h0m-26 2.5h0m0-2h0m53 1.5h0m3.5 0h0m-43.5-10h0m-1 8.5h0m13.5 2.5h0m-3-0.5h0m26.5-0.5h0m-11 1.5h0m19.5-2h0m-54.5 0h0m53-2h0m-8.5 4h0m0.5-7.5h0m-5.5 2.5h0m-33 1h0m18.5-0.5h0m-0.5 4.5h0m0.5-1.5h0m-10-3.5h0m-13.5 5h0m-15.5-10.5h0m8.5 8.5h0m19.5 2h0m-19.5-5h0m42.5 0h0m-24.5 4.5h0m29-2h0m12-6h0m-7.5 7.5h0m-24.5 1h0m12 0h0m19.5-5.5h0m-36.5 5.5h0m-23.5-1h0m20-0.5h0m36 1.5h0m-19-2.5h0m24.5 2h0m-20.5-13.5h0m-8.5 8h0m25 3h0m-7 2h0m-16.5-1.5h0m-13.5 1h0m4-1.5h0m-27.5 3h0m52.5-1h0m-6.5 0h0m-10.5-2h0m29-7h0m-12 8h0m-47.5 2h0m57.5-2.5h0m-12.5-2.5h0m-3.5 1h0m15 2.5h0m-25-18.5h0m14 7.5h0m0 12.5h0m-17.5-0.5h0m-8.5-3.5h0m21.5 1h0m-4.5 2h0m6-4h0m4.5 4.5h0m-31.5-4.5h0m40-3.5h0m-6.5 7.5h0m-48.5-0.5h0m33.5-2h0m-29.5 3h0m53-1.5h0m-16 0.5h0m-22.5 1h0m3-1.5h0m7 1.5h0m-15 0h0m38-3h0m-9 2h0m0.5-2.5h0m-26.5 4h0m32 0h0m-34.5-5.5h0m19.5 5.5h0m-19.5 0h0m17.5-1h0m18-0.5h0m-27.5 1.5h0m28.5-12h0m-20.5 11h0m-9-2h0m-23.5-0.5h0m35.5 3.5h0m-21-7h0m-11.5 2.5h0m51-5h0m-3.5 9.5h0m-18-3h0m-22-1.5h0m49 3.5h0m-10.5 0h0m-4 0.5h0m17 0h0m-49.5 0h0m22.5-5.5h0m-1.5 5.5h0m0-1.5h0m-1.5-3h0m-33 4.5h0m29.5-0.5h0m14.5-1.5h0m-5.5 2h0m16.5-8h0m-3.5 8.5h0m-22 0h0m-6-0.5h0m-18-1h0m34.5 0.5h0m12.5-7h0m-21 4.5h0m24.5 1.5h0m4.5 1.5h0m-20-3h0m-18 2.5h0m7-36.5h0m8 36.5h0m5.5-8h0m-12 7h0m-12 1h0m36.5-1.5h0m8.5 2.5h0m-4-1.5h0m-6-0.5h0m6.5-2.5h0m3 2h0m-60.5 1h0m36.5-14.5h0m21.5 14h0m0-1.5h0m-3-9h0m-36.5 12h0m34.5 0.5h0m-30.5-1.5h0m8-2h0m-9.5 0h0m39.5 1h0m-20.5 1h0m16.5-1h0m0.5 2.5h0m-2-3.5h0m-18 3h0m0-6h0m-11.5 3.5h0m-2-0.5h0m25.5 3.5h0m-12 0h0m3.5-26h0m20 25h0m-30.5 1h0m8-3h0m22.5 1.5h0m-23 0h0m11 1.5h0m-28-5.5h0m-4.5 4.5h0m27-1.5h0m-8-6h0m-8.5-0.5h0m9 7.5h0m15 0.5h0m-20.5 0h0m31.5-2h0m-50 2.5h0m9-1.5h0m30.5-8h0m3.5 2h0m-22 6h0m-21.5 1.5h0m35-4h0m-3 4h0m-0.5-1.5h0m-22.5 0.5h0m1.5-0.5h0m14.5 2h0m-34-5h0m18 5h0m29-3.5h0m10.5 1.5h0m-27-2h0m-4.5 3h0m-13.5 1h0m24.5-2h0m16.5 1h0m-33.5 0.5h0m24.5-0.5h0m-29 1h0m35-8h0m-21 5.5h0m21.5-1h0m-18.5 3h0m8.5-0.5h0m-27-1h0m-16 1.5h0m30.5-0.5h0m11.5-1.5h0m-17.5 2.5h0m2.5-3.5h0m23-2.5h0m-38.5 4.5h0m-8 1h0m56.5-1.5h0m-54-1h0m37 2.5h0m12-7.5h0m1.5 5.5h0m0-1h0m-16 1.5h0m-9 0.5h0m6-1.5h0m21 2h0m-27.5-0.5h0m-34.5-3.5h0m11 4h0m-1 0h0m7.5 1h0m41.5 0h0m-36.5-0.5h0m38-1h0m-5.5 1.5h0m-36.5-8.5h0m28 5h0m-25 3.5h0m18-11h0m6.5 2h0m-4 7.5h0m-3.5-1.5h0m6 0.5h0m3.5 2h0m14.5-5h0m-16 5h0m14-3h0m-4.5 2h0m-30.5-2h0m26-10h0m-42 12.5h0m47.5-16.5h0m1.5 17h0m-15-4.5h0m11.5-0.5h0m-21.5 3.5h0m-11 1.5h0m24.5-5h0m14.5-4.5h0m-44.5 9.5h0m19 0.5h0m-39.5 0h0m63.5-6.5h0m3 6.5h0m-34.5-12h0m22.5 6h0m-27 4.5h0m-19 0h0m13 1.5h0m10-14.5h0m34 8h0m-36 5.5h0m14.5 1h0m-35-2.5h0m3.5 2.5h0m10-1.5h0m6.5 0h0m4.5-0.5h0m32.5-12.5h0m-29 10.5h0m-13.5 2.5h0m39-15h0m-15.5 15.5h0m-10 0h0m-23-8.5h0m29.5 9.5h0m3-6h0m-30 3h0m2 0h0m23 1.5h0m15-1.5h0m5.5-4.5h0m-57.5 7.5h0m44.5-4h0m14 1.5h0m-22.5-3h0m21-1h0m-6 3h0m-60 3.5h0m50.5-13h0m2 13h0m8.5-1.5h0m-20 1h0m-10-3h0m28.5 1.5h0m-18 1.5h0m5.5-0.5h0m-2 1h0m-5-2h0m-6-1h0m-8 3h0m17-14.5h0m19.5-8.5h0m2.5 20.5h0m-3 1.5h0m-62 1h0m67-8.5h0m-6 6h0m0-2h0m9.5 3.5h0m-17.5-1.5h0m-10.5 0.5h0m6 1.5h0m-11.5-9h0m-16 6h0m-3 3.5h0m5-6.5h0m1 0.5h0m36-5.5h0m-32.5 11.5h0m44-4.5h0m-2.5 2.5h0m-22.5 2h0m25-0.5h0m0 0h0m-32.5-3.5h0m4.5 2.5h0m-34 1.5h0m50.5-5h0m-7.5 5h0m13.5-2.5h0m-21.5 2.5h0m13.5-2h0m-17.5-2h0m0.5-3h0m23 5.5h0m-9.5 0.5h0m-3 1h0m-18.5-10.5h0m-10.5 9.5h0m44-1h0m2.5-4h0m-9.5 5h0m-30.5 0.5h0m-6.5 0.5h0m29-3.5h0m2 3h0m-13-9h0m18 7.5h0m-28-17h0m31.5 16.5h0m-12.5 1h0m-35 0h0m14.5-3h0m13.5 1.5h0m8 1h0m7.5-0.5h0m4 1.5h0m-12-1h0m-20-1h0m29.5 1.5h0m-1.5-0.5h0m-21 2h0m17.5-3h0m8 2.5h0m-35 0.5h0m15-4.5h0m-15.5 1h0m-2.5 3.5h0m46.5-3h0m0-12.5h0m-31.5 10.5h0m10 5h0m8.5-2.5h0m-27.5 2h0m-20.5-4h0m58-9h0m-14 8.5h0m-11.5 2h0m-18 3h0m10.5-1h0m-18 1h0m9-1h0m-12 0.5h0m48-0.5h0m-2.5 0h0m10 0h0m-23.5-0.5h0m21-3.5h0m-46 3.5h0m18 0.5h0m-3 0.5h0m25-1.5h0m-18.5 1h0m5.5-1.5h0m21.5 0.5h0m-1.5 0.5h0m-10-0.5h0m3 0.5h0m-24-1h0m-32.5 2h0m50-0.5h0m2.5 1h0m-29.5 0h0m11-1h0m9.5 0h0m0.5-4h0m-25.5 3.5h0m-16.5 1.5h0m18.5-2.5h0m20.5-0.5h0m24-1h0m-23 2.5h0m-17.5-13.5h0m-14 14h0m13.5 1h0m3.5 0h0m-22.5 0h0m42.5 0h0m-7-1h0m20-7.5h0m-36.5 7.5h0m34-1h0m-41 0.5h0m28 1h0m4.5-5.5h0m-39.5 1h0m56-3.5h0m-1-14.5h0m-21 21.5h0m-19.5-0.5h0m16.5 1.5h0m-15.5 0.5h0m23-7h0m-37.5 3.5h0m34 0h0m-18 3h0m-7.5-0.5h0m31 0h0m14 1h0m-17-3h0m16.5 1.5h0m-39.5 1.5h0m32-3.5h0m-36 3h0m0 0.5h0m-10.5-7.5h0m18.5-5h0m-17 11h0m44.5-13h0m11.5 14h0m-13.5-1.5h0m7.5-2h0m-60 1h0m57 1h0m-2.5 1h0m-0.5 0h0m10 1h0m-8-4.5h0m2-1h0m-29 5h0m34-4h0m-0.5 4h0m-21.5-4h0m10.5 0.5h0m1.5-3h0m-36.5 4.5h0m50.5 2.5h0m-67-7h0m-4.5 7h0m32.5-0.5h0m0.5-2.5h0m-11 2.5h0m38-2h0m-2.5 2h0m-47-1.5h0m36.5 0.5h0m-6.5-8.5h0m-21 9h0m19.5 0h0m11-1.5h0m-8-0.5h0m21 2h0m-23.5-3.5h0m23 3.5h0m-16-12.5h0m16 12h0m-14.5-1.5h0m18.5-7.5h0m-23.5 9.5h0m16.5-2.5h0m-12 2h0m-7-5h0m29.5 6.5h0m-43.5-1.5h0m25.5-19h0m5 20.5h0m-33.5-0.5h0m41.5 0h0m-38-1h0m32.5-3.5h0m-12.5 4.5h0m-6.5-5.5h0m9-3.5h0m-21 9.5h0m14.5-1.5h0m22.5-5h0m-5.5 6h0m-5.5-0.5h0m3.5 1h0m-3.5-1h0m13-2h0m2.5 2h0m-40-6.5h0m4 4.5h0m32.5-4h0m-36.5 4h0m30.5-4h0m2-1.5h0m-2.5-15.5h0m6 16h0m1 8h0m-1-1.5h0m-21.5-12.5h0m21 12.5h0m-51 1.5h0m12.5-1h0m30 1h0m6.5-8.5h0m-17 5.5h0m19 3h0m-49.5-0.5h0m23-1.5h0m-26 0.5h0m2 0h0m37-2.5h0m3.5 4h0m-26.5-0.5h0m30.5-5h0m2.5 1h0m4 3h0m-20-11.5h0m-41 12.5h0m61.5-7.5h0m2.5 6.5h0m2 0.5h0m-26-2.5h0m23.5 3.5h0m-1-5h0m-4.5 4h0m-6-5.5h0m10.5-0.5h0m-0.5 4.5h0m-22.5-8h0m0 10.5h0m10.5-4h0m-39.5 3h0m52.5-4h0m-19 4.5h0m-7-0.5h0m-11 0.5h0m9-1h0m18.5-16h0m12.5 17.5h0m-59.5-0.5h0m42.5 0.5h0m-41.5-1h0m45-5.5h0m-30 5h0m27.5 1.5h0m6.5-1.5h0m-23-5.5h0m23.5 5h0m-30.5-8.5h0m8 10h0m-24-7h0m34 7h0m-6.5-0.5h0m-29.5 0h0m33 0.5h0m17.5-3.5h0m-25-21.5h0m31.5 17.5h0m-13.5 8h0m-3.5 0h0m-13-5h0m4 0.5h0m25 3.5h0m-21.5 0h0m-5.5 1h0m-22-3h0m43.5-1.5h0m-43.5 2.5h0m-8 1.5h0m46.5-10h0m-57.5 8h0m15.5-8.5h0m37 10.5h0m-20-0.5h0m21 0h0m-43 1h0m58.5-2.5h0m-3.5-2h0m-12.5 4.5h0m-17.5-1h0m16.5 1h0m9.5 0h0m-27.5 0h0m35-1.5h0m-11.5-1h0m12.5-2h0m-49 4.5h0m-8.5-5.5h0m5.5 3.5h0m25.5-8.5h0m21.5 6.5h0m-22 3.5h0m-8.5-1h0m26 0.5h0m-40.5-5h0m16-1.5h0m-27.5-6h0m34.5 13.5h0m-16.5-8h0m36 3h0m6 2.5h0m-18-6h0m-7.5 6.5h0m5 2h0m-18-2h0m-2.5 1.5h0m1.5 0.5h0m0.5-8h0m-3.5 7h0m16.5 0h0m-37 1h0m53.5-31.5h0m-35.5 30.5h0m37.5-2.5h0m-39.5 3.5h0m38.5-3h0m-20.5 2h0m0 0h0m-25 0h0m43.5-40.5h0m-27 39.5h0m31.5 0h0m-12 2h0m16-0.5h0m-37-10h0m19 5h0m19.5 4h0m-61-1.5h0m57.5-12h0m-54 13.5h0m24.5 1.5h0m31.5-15.5h0m-20 14h0m19.5 1h0m-16.5-3h0m4.5-17.5h0m-32.5 20.5h0m35-0.5h0m13-4h0m-10-3.5h0m-8.5 8.5h0m-50.5-1.5h0m58 0h0m1.5-0.5h0m-51 0h0m35.5-0.5h0m17 1h0m1.5-1.5h0m-54.5-0.5h0m53-1h0m0.5 3h0m-23 1h0m-18-1.5h0m30 2h0m-23-2h0m26.5-0.5h0m-6 2.5h0m-2-1h0m-14.5 1h0m27-0.5h0m-38 0.5h0m43-7h0m-10 5h0m-14-1h0m-9.5 2h0m-0.5 1h0m37-3h0m-6 2h0m-24-9h0m27 9.5h0m-17.5 0.5h0m4-2.5h0m-2.5-4h0m-29 6.5h0m50-1h0m-21 0.5h0m-20.5-0.5h0m32-0.5h0m5.5-1h0m-19-6.5h0m19 5.5h0m-8 3.5h0m-32.5-2.5h0m11.5-8h0m20.5 10.5h0m-31.5-2h0m-13 2h0m55.5-3.5h0m-12 0.5h0m-35-1.5h0m41 4.5h0m-39.5-2.5h0m30.5 2.5h0m7-0.5h0m-21.5-0.5h0m21.5 1h0m-4-0.5h0m3-13.5h0m-27.5 13.5h0m-4 0.5h0m-8-2h0m15.5 2h0m29.5-2h0m-61 2h0m60-1.5h0m-20.5 1h0m5.5 0.5h0m-30-0.5h0m0.5-1.5h0m40.5-0.5h0m-4.5 1h0m-4 0.5h0m15.5-4h0m-26.5 4.5h0m-9 0h0m-11.5-0.5h0m50-11h0m-25.5 12h0m11.5-2h0m-25.5 1.5h0m13 0h0m4.5 0.5h0m-46-1.5h0m51.5-3h0m-49 2h0m36 2h0m20-2h0m-26 2h0m20 0.5h0m-39-2h0m2 1.5h0m43.5-0.5h0m4-11.5h0m-37 12.5h0m-6-0.5h0m30-1h0m16-9.5h0m-69.5 9.5h0m23 0.5h0m30.5-1h0m-17.5-0.5h0m-13 2.5h0m38 0h0m0.5-13.5h0m-27.5 0.5h0m24.5 1h0m0.5 11.5h0m-32.5-2.5h0m9-5h0m20 7h0m-29.5-1h0m-18-12.5h0m35 14h0m10-3.5h0m-20 4h0m6-1h0m-7.5 0h0m40-7h0m-5.5-10.5h0m-23.5 18h0m10 0.5h0m2.5-5h0m-39.5 2.5h0m7 2h0m46 0h0m-29.5 0.5h0m28-21.5h0m-46 20.5h0m32-7h0m-23.5 5.5h0m-6.5 0.5h0m42.5 0h0m-15-3.5h0m-7.5 5h0m0-11h0m-4 4h0m9 7.5h0m-38.5 0h0m22-1h0m8-1h0m10-6h0m-45 3.5h0m41 4h0m5-1h0m-10.5-0.5h0m5.5 1h0m-23 1h0m13-2.5h0m18-12.5h0m-11 15h0m28-1.5h0m-2-1.5h0m-8.5-1h0m-7-1h0m-5 3.5h0m-21.5-3.5h0m34.5-11.5h0m9 15h0m-32-18h0m6 19h0m-13 0.5h0m8.5-2.5h0m11.5 1.5h0m-42 1h0m29-0.5h0m24.5-6.5h0m-3 3h0m-2.5 2h0m-2.5 1.5h0m-13.5 0.5h0m27.5-2h0m-24.5-9.5h0m15 10.5h0m8-0.5h0m-44.5-1h0m-9.5-6h0m31.5 8.5h0m12.5-2.5h0m-38-12h0m48.5 12.5h0m-23 2h0m-6 0h0m27-1h0m-44.5 0.5h0m0-0.5h0m26-4h0m8.5-19.5h0m-10 24.5h0m11 0h0m4-0.5h0m-18-0.5h0m-8-3.5h0m28.5 1h0m-59 3.5h0m34-7h0m1 6h0m-14.5 0.5h0m-6.5-1h0m23.5 0.5h0m11.5 0.5h0m-13-1h0m-24 0h0m37-0.5h0m-4 1.5h0m-12.5 0h0m36-0.5h0m-5.5-3.5h0m3 3h0m-47.5 0h0m36 0.5h0m6.5 1h0m7-2h0m-34-1.5h0m1.5 2.5h0m3-2h0m5.5 0h0m6 0h0m13-6h0m-5 8.5h0m-3-0.5h0m-56 0.5h0m13 0.5h0m11 0h0m-5.5-1h0m7 1h0m38.5-0.5h0m-21-1.5h0m-1.5 2h0m25.5-5.5h0m-7.5 5.5h0m-7.5-5.5h0m-1 3h0m12 1h0m-35.5 1.5h0m7.5-8h0m24 7h0m-1.5-2.5h0m-24 0h0m31.5 2.5h0m-46.5-2h0m33 0h0m-1.5-0.5h0m-34-4.5h0m-9 7h0m34-2h0m12 1h0m4-19h0m-7 18.5h0m-23-0.5h0m10 1.5h0m23-3h0m-32 4h0m34-0.5h0m-9.5-4h0m12 3h0m-19.5-11h0m-0.5 12h0m24-2h0m-22.5 2h0m-8.5-4h0m-4.5 5h0m29.5-3.5h0m-31 3h0m19-16.5h0m-21.5 17h0m36.5-6h0m-20 4.5h0m-16-4h0m14 5.5h0m-9.5 0h0m0.5-3.5h0m-4-2h0m-2-9h0m37.5 14h0m0-6h0m-23.5 6h0m-25.5 0.5h0m31 0h0m3-0.5h0m-33 0.5h0m2-0.5h0m-4-0.5h0m37.5 1h0m6.5-7.5h0m-10 7h0m-29.5-3.5h0m48.5-3h0m-25 1.5h0m6.5 5.5h0m16.5-0.5h0m-43-0.5h0m8.5-6.5h0m-14 6.5h0m45-1h0m-29-0.5h0m9.5-1.5h0m-3.5 3h0m-10.5 0.5h0m-9.5 0h0m5.5 0.5h0m21 0h0m-37-2h0m11-3.5h0m29.5-6.5h0m-39 12h0m14 0h0m23.5-1.5h0m-1.5-10.5h0m1 8.5h0m-4.5 3.5h0m24.5-3.5h0m-6-9.5h0m3 13h0m-2.5-0.5h0m-17.5 0h0m-12.5-2h0m29.5 1.5h0m-18.5-9.5h0m-34.5 10.5h0m-1-7h0m14.5 7h0m26-2h0m-23.5-3.5h0m39-16h0m-38.5 16h0m36 5.5h0m-7-2h0m9.5 0.5h0m-25.5 1.5h0m13 0h0m16-2.5h0m-53 1h0m33.5-13h0m20 11h0m-4.5 2.5h0m-42-2h0m21.5-0.5h0m-11 1h0m-14.5 2.5h0m-9-0.5h0m53.5-2.5h0m-24.5-6h0m-33.5 9h0m51.5 0h0m-12.5-0.5h0m2.5-2h0m-24-1.5h0m17.5-4h0m8 0.5h0m-34 7h0m2.5 0.5h0m5.5-3h0m-10 2h0m53 0.5h0m4-8.5h0m-30.5-4.5h0m18 13h0m-24 0h0m24.5-10h0m-32 10h0m37-3h0m-15.5 3h0m-15 0h0m35-6h0m-52 6h0m21.5 0.5h0m28.5-5h0m-17-0.5h0m8 5.5h0m-6.5-3h0m18.5 3h0m-36-23.5h0m-17.5 23h0m11-2h0m9 0.5h0m-4 1h0m7-2h0m3.5-6.5h0m-0.5 9.5h0m8.5-12.5h0m-7.5 12.5h0m7-3.5h0m-36.5 3.5h0m38.5-3.5h0m9 1.5h0m-23.5-3h0m24.5 2.5h0m-10-0.5h0m15.5 2h0m-34.5 1h0m-8.5-11h0m6.5 8h0m20.5 3h0m16.5-6h0m-40 3.5h0m41.5 2.5h0m-40-1.5h0m-29 0.5h0m27.5-6.5h0m31 0.5h0m3 0h0m-27.5-5h0m28 11h0m-26-0.5h0m15 1.5h0m9-2.5h0m-35.5 2h0m29.5-2h0m-21 2.5h0m28 0h0m9 0h0m-32-8h0m-1.5 3.5h0m23 3.5h0m9 0.5h0m-18-2h0m2 2h0m-20.5-0.5h0m-29-1.5h0m28 2.5h0m31.5 0h0m-13.5-2.5h0m-25.5-11h0m15 13.5h0m-21.5-0.5h0m9.5 0.5h0m-0.5-0.5h0m15.5-0.5h0m9 1h0m-11.5-2h0m16.5 1.5h0m-1 0.5h0m-30-1.5h0m37 1.5h0m-7-0.5h0m-13.5-7h0m12-4h0m-10.5 11.5h0m-40 0h0m58-2h0m-20-1h0m23 2h0m-20.5-6.5h0m0 3h0m-11 3h0m8-4h0m30.5 1.5h0m-3.5 1h0m-43.5 2h0m27.5 0h0m-23-0.5h0m9.5-0.5h0m-9.5 2h0m28-5h0m9 4h0m-6 0h0m-6-1.5h0m-25.5 2.5h0m-8-11h0m40.5 10h0m-0.5-1.5h0m-11.5 2h0m-23.5-1h0m21 1h0m9-6h0m-5.5 6h0m9-3h0m-9 2h0m5-1.5h0m-9.5-5h0m8.5-25h0m15 29h0m-3.5 3h0m4 0h0m-9.5 1h0m4.5-9.5h0m1.5 9.5h0m-28-1h0m0 1h0m-5.5-1h0m9-6h0m15 6.5h0m-2-1h0m5.5 1h0m-40 0h0m37-2.5h0m15.5-3h0m-53.5 5.5h0m26.5-8h0m3.5 8.5h0m-27-2.5h0m10.5 2h0m18 0h0m-33-0.5h0m41-0.5h0m-37.5 0h0m42.5 1.5h0m-13-3.5h0m-4-2.5h0m-25.5-1.5h0m10.5 7h0m34.5-2.5h0m-13-4h0m12 4.5h0m-13.5 2h0m17.5-1h0m-15 1.5h0m-0.5-4h0m5.5-14h0m-12.5 14.5h0m3.5 1h0m0-8h0m6 9h0m-1-0.5h0m-26 0.5h0m16-1h0m-15 2.5h0m11.5 0h0m-28.5-4h0m34.5 2.5h0m-2.5-1.5h0m19.5 1.5h0m-23-22h0m8 23.5h0m10.5-1h0m-5-2.5h0m-55 3.5h0m51-6h0m-18.5 0h0m10 6h0m8.5-0.5h0m16-1h0m-37.5 1.5h0m32.5-6h0m-8 5.5h0m-11-1.5h0m7.5-4h0m-24.5 3h0m3.5 2.5h0m20 0h0m13.5-1.5h0m-10.5 1h0m-7.5 0.5h0m-21.5-5h0m25 5.5h0m8.5 0h0m-18.5-3h0m17-0.5h0m-13 3h0m2 0h0m16-2h0m-43 1.5h0m8 0.5h0m41.5-5h0m4.5 4.5h0m-23.5 1h0m6.5-4h0m-13.5-2.5h0m-3 0h0m2.5 4.5h0m2.5 0.5h0m-11.5-8h0m-25.5 6h0m65.5 2.5h0m-54.5-0.5h0m0.5 1h0m38.5-3h0m16-6.5h0m-61 8h0m10-5h0m2-4h0m28.5 0h0m-37.5 10.5h0m23.5-2h0m13.5-9h0m11 9.5h0m-49 1h0m12.5-4.5h0m11 1h0m26.5 4h0m-44-1h0m25 1h0m4.5-4h0m-3.5-4h0m6 6h0m-6 1h0m24.5 1h0m-48-0.5h0m36.5-0.5h0m-56.5 1h0m50 0h0m5 0h0m-32.5-6.5h0m33 4.5h0m8 1.5h0m-32 0h0m-23.5 1h0m57-5h0m-2-8.5h0m7.5 13.5h0m-8 0h0m-64-1h0m26.5 1h0m-26-1h0m49-4.5h0m-19.5-1h0m19.5-8.5h0m-10 9.5h0m24 1.5h0m-61 4h0m33.5-6h0m-23 5h0m53 0.5h0m-38-0.5h0m43.5 0.5h0m-21.5-2h0m-39.5 2.5h0m14.5 0h0m33 0h0m-36-3h0m40.5-0.5h0m-14.5 0h0m7.5 3h0m-0.5-3.5h0m10 3.5h0m-8-0.5h0m-12 1h0m-16-0.5h0m15.5-0.5h0m7.5 0h0m11-5.5h0m-37.5 5.5h0m31.5-0.5h0m5.5 1h0m-12-0.5h0m5 0h0m-8-2.5h0m16.5 3h0m-60.5-1.5h0m61.5 2h0m-55.5-4.5h0m21 4.5h0m42-2.5h0m-9.5 2h0m-33 0h0m23-0.5h0m5.5 0.5h0m-11-4.5h0m18 1h0m-60 3h0m61-4h0m-22 4.5h0m5 0.5h0m-17.5 0h0m21.5-0.5h0m19-2.5h0m-54 2.5h0m34.5-2h0m-12 1h0m0-3.5h0m-25.5 5h0m6-1h0m44.5-4.5h0m-61 5h0m59.5-4h0m-2 4h0m1.5-6.5h0m7.5 7h0m-3.5-9h0m-27.5 0.5h0m16.5 6.5h0m-12.5 2h0m12.5 0h0m-4.5-8.5h0m11.5 0h0m-4.5 6.5h0m-3 2h0m1-1.5h0m-48.5 1h0m30-9h0m12-2.5h0m-45 11.5h0m20 0.5h0m37.5-9h0m-43 9h0m-16.5-2.5h0m28 2h0m33 0.5h0m-54.5 0h0m-8-16h0m43.5 13.5h0m8.5-6h0m-18.5 8.5h0m-16.5-1h0m46.5 0h0m-40.5 0.5h0m26.5-15h0m15 15h0m-44.5-2h0m5 0.5h0m36 2h0m2-5.5h0m-19.5 4.5h0m24.5-8.5h0m-3.5 8h0m-21-0.5h0m12 2h0m4.5-3h0m-12.5 2.5h0m20-2.5h0m-38 3h0m-11.5-3h0m11.5 2h0m-4-0.5h0m0-1.5h0m30 0h0m-7-1.5h0m7 4.5h0m-33.5-0.5h0m0.5 0.5h0m16.5-3.5h0m28 3.5h0m-7-3.5h0m-26 2.5h0m24.5-1h0m-19 1h0m14.5-1.5h0m-52 1.5h0m31.5-2.5h0m24 1h0m1.5-2h0m-10.5 1.5h0m9.5 2h0m4.5 1h0m-51-1h0m34-2.5h0m8.5-2.5h0m-48 4.5h0m28.5-1.5h0m20-5h0m-57.5 7.5h0m67-4h0m-18.5-4h0m-38 7h0m36.5-1.5h0m15.5-5h0m-2.5-0.5h0m-12 8h0m-38.5-6.5h0m28 6.5h0m23-1h0m11-2.5h0m-24 3.5h0m-4.5 0h0m6.5-0.5h0m2 0.5h0m-10.5 0.5h0m-15-1.5h0m19-2h0m22.5 2.5h0m-22.5 0h0m-14.5-8h0m24 6.5h0m-20.5 2h0m33.5-5h0m-29.5 5.5h0m28-0.5h0m-2.5-0.5h0m-34.5-1h0m32.5 1h0m-13.5-2.5h0m12 1.5h0m-22.5-2.5h0m11 0.5h0m8.5 3h0m0.5-0.5h0m-42.5 1h0m51 0.5h0m-28-15h0m-22.5 7.5h0m13-3h0m30.5 10.5h0m13-3.5h0m-9 2.5h0m-46.5-0.5h0m-8.5-5h0m33.5 6h0m29.5-0.5h0m-2-2.5h0m3.5 3h0m-12.5 0h0m-5.5 0h0m0.5-0.5h0m10-2.5h0m-43-3h0m18.5 5h0m19-0.5h0m10-3h0m-42 4.5h0m-0.5-6h0m23.5 2.5h0m14 4h0m-12.5-2h0m14-0.5h0m1.5-1h0m2.5 0h0m-32.5 1.5h0m27.5 0h0m-50.5 0.5h0m15 1h0m24-7.5h0m10-3.5h0m-19 11.5h0m23-1h0m-11-4.5h0m-14.5 3h0m26.5 2h0m-18.5 0h0m-11.5-2h0m15 1.5h0m8.5 0.5h0m-22.5 0h0m15-16h0m-29 16.5h0m24-8h0m-18.5-2h0m30 8.5h0m1.5-1.5h0m-42 1.5h0m43 1h0m-43-2h0m45.5-28.5h0m-12.5 29.5h0m-30 1h0m32.5-1h0m-1.5-0.5h0m-12.5 0.5h0m2.5 1.5h0m16 0h0m-36-7h0m41 6.5h0m-19.5-6h0m19.5 6h0m-39.5-2h0m16.5 2.5h0m-6.5-4h0m-1-4.5h0m-2.5 6h0m4 1.5h0m-5.5 0h0m31 0h0m-17 0h0m10-1.5h0m10 2h0m-3.5-6h0m-4.5 6h0m-7-4.5h0m-21.5 3.5h0m2.5-0.5h0m9.5-9.5h0m10.5 9h0m-17-5.5h0m-18 4h0m44.5-6.5h0m-25.5 4.5h0m7.5 6h0m-15-4h0m15 2.5h0m-0.5 1h0m22.5-1h0m-59 1h0m34.5-3h0m15.5 1h0m-6 0.5h0m-5.5 1h0m14 0h0m-21-2h0m-31 2.5h0m57.5-5h0m-16.5 5.5h0m17.5-0.5h0m-11.5-1.5h0m-44 1.5h0m39.5-8.5h0m-5 5.5h0m1 3h0m9.5-0.5h0m-15 1h0m10.5-0.5h0m11-1h0m-27.5 1.5h0m17.5-2h0m-3.5-1.5h0m-9.5-3h0m35-2h0m-2 5h0m-20.5 3.5h0m6.5-5.5h0m-52.5 2h0m47 3.5h0m-20.5-0.5h0m42-3h0m-26.5 3.5h0m5-1.5h0m-19.5 0.5h0m27.5 1h0m8.5-9h0m1.5 9h0m-16.5-0.5h0m11.5 0.5h0m-27.5-0.5h0m35.5-3.5h0m-0.5 2h0m-44 2h0m32.5-0.5h0m9-1.5h0m0 2h0m-8-2h0m-18-9.5h0m-33 11.5h0m12-0.5h0m18.5-0.5h0m23.5 1h0m-0.5-1.5h0m2.5-2h0m-34 0.5h0m28-1h0m-8 3.5h0m-31-2h0m44.5-4h0m-13.5 6h0m-1-3h0m9.5 3h0m-22-2h0m18.5-1h0m-4.5 2.5h0m10.5 1h0m3.5-2h0m-28-1h0m29.5-19h0m-8 22h0m5-4h0m-51 4h0m22.5-2h0m26.5-1h0m-37 0.5h0m42.5-1h0m2.5-1.5h0m-12.5 0h0m-18.5 2h0m-36.5 3h0m26-27h0m17 26.5h0m14.5-18.5h0m4 13.5h0m-9.5 5h0m16.5-1.5h0m-2.5-4h0m-35.5 0h0m-32 4h0m60.5-3.5h0m6.5 2h0m0 2h0m-15 1.5h0m-28.5-1.5h0m-0.5 1h0m33 0h0m-27.5-1.5h0m30.5 0h0m-38 1h0m5 1h0m41.5 0h0m-58-2h0m29-2h0m16 0h0m-12.5-10h0m-11.5 11.5h0m14.5-1.5h0m18 2.5h0m-63 0h0m56-19h0m-25 12.5h0m-20 3.5h0m57.5 4.5h0m-15-1h0m-12.5 0.5h0m-21.5-7h0m51 4h0m-36 1.5h0m28.5-0.5h0m-29.5 2.5h0m-8-2.5h0m36.5 0.5h0m8.5 1.5h0m-58-1h0m36 1h0m13.5-4h0m-12 4.5h0m-9-1h0m12.5-0.5h0m9-5.5h0m-35.5 3.5h0m4 3.5h0m12-11h0m17 10.5h0m-57.5-0.5h0m25-3h0m16-7.5h0m-13 10h0m-7.5-3h0m13.5-0.5h0m9.5 5h0m10-2.5h0m-9.5 2h0m-41-1h0m64.5 0.5h0m-58.5 0.5h0m22 0.5h0m-26-4.5h0m58.5 3h0m-33-19.5h0m-3 12h0m40 0.5h0m-25 8h0m18.5-19h0m-8 18h0m-49.5-4h0m49 4h0m-55.5-1h0m53.5 0.5h0m-9.5 2h0m-18.5-3.5h0m36 0.5h0m-46-2.5h0m27.5-2h0m-10.5 7.5h0m8.5-0.5h0m4-0.5h0m25-6h0m-40.5 2h0m-3 3.5h0m26.5 1.5h0m-8-1h0m18-0.5h0m-30 1h0m-10.5-0.5h0m-21 1h0m34-0.5h0m24.5-0.5h0m-51-5h0m32 3.5h0m-12 1h0m-16.5 1h0m33 0.5h0m-36.5-13.5h0m57.5 7h0m-19 6.5h0m-25.5-0.5h0m37.5-4h0m-12 3.5h0m-8-2.5h0m22.5 1.5h0m3.5-11h0m-59 12h0m51-7h0m5 7h0m-28.5-2h0m-8.5 1h0m3.5-1h0m-3.5 1.5h0m29 1h0m15-2h0m2 2.5h0m-53.5 0h0m43-1h0m-4-0.5h0m7.5-2.5h0m-17.5 1h0m1.5 1h0m18-0.5h0m5-0.5h0m-25.5 0.5h0m22 2h0m-16.5-12.5h0m-28.5 11h0m-0.5 1.5h0m47-2h0m-8.5-4.5h0m-5.5 4.5h0m6 1.5h0m-44.5 1h0m4.5 0h0m42.5-3h0m-14-12h0m14.5 9h0m0 3.5h0m-2-7.5h0m-27 9.5h0m29.5 0.5h0m-17.5-8.5h0m2.5 7.5h0m-15.5-2.5h0m19.5 1.5h0m2 2h0m-4.5-12h0m-46 10.5h0m49 0h0m-36 0h0m11.5-0.5h0m27-0.5h0m-27.5 2h0m-8 0h0m6.5-2.5h0m21.5 3h0m-12.5-1.5h0m26-2.5h0m-52.5 2h0m40.5 0.5h0m10.5 1h0m-32.5-6h0m-2.5 5.5h0m40.5-1h0m-4.5 0.5h0m-4-13h0m-34.5 13h0m29.5 1.5h0m16-3.5h0m-57.5 3.5h0m42.5-12h0m-6.5 12h0m5.5-0.5h0m-3-6h0m-23.5 6.5h0m38.5-0.5h0m-22-0.5h0m-5-5h0m19 5h0m0.5-4.5h0m7-15.5h0m-6 20h0m9 0h0m-39.5 0.5h0m21-0.5h0m1.5-1h0m14.5-5h0m-1.5 4.5h0m-41 2h0m28.5-11h0m-11.5 6h0m-36.5 5h0m57.5 0h0m-60.5-1h0m66 1h0m-36.5 0.5h0m32.5-0.5h0m-20-7.5h0m5.5 6.5h0m-1.5 1.5h0m-8.5 0h0m27.5-1h0m3 1h0m-21-3.5h0m2.5 1.5h0m7-4h0m11 6h0m-49.5-1h0m21.5-1h0m-36.5-1h0m51.5-1h0m-17 1.5h0m-19.5 2.5h0m-4.5-0.5h0m4-2.5h0m22.5 0h0m10-0.5h0m7-7h0m11 0h0m-29 7.5h0m9.5 3h0m6-1.5h0m-6-4.5h0m-25 6h0m39.5-1.5h0m-3-4h0m-0.5 5.5h0m-51-3h0m60.5 3h0m-38.5-12h0m-12 8.5h0m41.5 3h0m-7.5-7h0m-13.5-4.5h0m10 12h0m17-2.5h0m-47.5 1.5h0m4.5-7h0m-8 5h0m40 1.5h0m11-5.5h0m-11.5 7h0m-4-1h0m-6-2h0m3.5 3h0m15-4h0m-25 1h0m6.5-1h0m-17.5-0.5h0m29 0.5h0m9-4h0m-34 7.5h0m25 0.5h0m-42-12.5h0m30-1.5h0m12.5 13.5h0m6-2h0m-3-2.5h0m-2.5 3h0m2.5 1.5h0m-33.5-1.5h0m42-6.5h0m-46.5 8.5h0m48.5-7.5h0m-2 7h0m-9.5-1h0m-17.5-7h0m-10.5 8h0m9-1.5h0m29 0.5h0m-46-2.5h0m33 2.5h0m-44 0.5h0m14 0h0m42.5-1h0m-39.5-2.5h0m19 2.5h0m7 2h0m-1-5h0m3 3.5h0m-39.5 1.5h0m49-0.5h0m-25-0.5h0m-1.5 0h0m16-1.5h0m0.5-0.5h0m11 2h0m-1-5h0m-33.5 6h0m24.5-3h0m-48 2.5h0m53.5-1.5h0m-6 1.5h0m-42.5-4h0m51.5 0h0m-12.5 4.5h0m-26.5 0h0m2.5-1.5h0m-24 0.5h0m63.5-8.5h0m-8.5-1h0m-15.5 8.5h0m22.5-1h0m-38 2.5h0m-8-0.5h0m31.5 0.5h0m-38 0h0m13 0.5h0m8.5-0.5h0m24-0.5h0m2-2.5h0m-5.5 1h0m1.5-3h0m10 4h0m-37.5 1.5h0m26-13.5h0m-0.5 10.5h0m5.5 3h0m-60-10h0m45 10h0m23-14h0m1.5 14h0m-17.5-0.5h0m-8-18.5h0m-8.5 17.5h0m5.5 1.5h0m-3.5-0.5h0m-10-4.5h0m4 0.5h0m11.5 4h0m-15.5-6.5h0m3 5h0m-15 1.5h0m34-0.5h0m12.5-1h0m-17 1h0m-20.5-3.5h0m-12.5 4h0m15-2h0m24.5-1h0m-34 3.5h0m8.5-4h0m3 4h0m34 0h0m-40-3.5h0m46 1.5h0m-12.5-4h0m-2 5.5h0m10.5 0.5h0m-60 0h0m64.5-2.5h0m-5-10h0m-1.5 8h0m-37 2h0m12-6.5h0m21 2h0m-0.5 0h0m4 3.5h0m-15-2.5h0m9.5 3.5h0m11.5-0.5h0m-10 2h0m8 1h0m-20.5 0h0m4.5-7.5h0m5.5 7h0m-14.5 0.5h0m22-0.5h0m-20.5-0.5h0m-27.5 1h0m18 0h0m-3.5-1h0m2-1h0m28-3h0m-48.5 5h0m43.5 0h0m-48-2h0m60.5 0h0m-0.5-0.5h0m-16.5 2.5h0m8-5.5h0m-22 5.5h0m-12.5 0h0m37.5-1.5h0m-33-1h0m29-2h0m-7 0.5h0m-12 4h0m12.5-0.5h0m18 0.5h0m-36.5-3h0m16.5-22h0m7.5 25h0m-13.5-9h0m-12 7h0m17.5-2.5h0m7.5-3h0m-44 6h0m-2 1h0m50-1h0m0.5 0.5h0m-30 0h0m-8.5-1.5h0m5 0h0m16.5-0.5h0m24.5 3h0m-50-0.5h0m25.5-28h0m-6.5 27.5h0m4-0.5h0m-22.5-3h0m43.5 3.5h0m1.5 0h0m-27.5 0.5h0m23-1h0m0 1.5h0m-2-3.5h0m-10-2.5h0m-3 6h0m0-6.5h0m2 4h0m16.5 0.5h0m-64.5-7h0m56.5 8h0m6 1h0m-6.5-1.5h0m5.5-2h0m-10.5 1h0m-27 2h0m27.5-10h0m8.5 8.5h0m-60 1.5h0m55.5-7h0m-11 6h0m-15 0h0m10.5 1h0m16.5 0.5h0m6.5-0.5h0m8-0.5h0m-12 0h0m-27-4.5h0m-21 4.5h0m26.5-2.5h0m-0.5 3h0m-30 0h0m56.5-6h0m-19.5-2.5h0m24 2.5h0m-22 5h0m-10.5-1.5h0m2.5 0h0m-4.5 3h0m-23.5-1h0m45.5 0.5h0m-33.5 0.5h0m30.5-1h0m-54.5 1h0m57-2h0m-13-3.5h0m14-2h0m-25 6.5h0m-5 0.5h0m37.5-7.5h0m-18.5 8h0m-17-1.5h0m24-4h0m-2 4.5h0m-8.5-1h0m19-1.5h0m-33 3h0m28 0h0m-22-4.5h0m34 2h0m-51 1.5h0m45.5 1h0m5.5-3h0m-22.5 3.5h0m-8 0h0m24-4h0m-30.5 3.5h0m21.5 0.5h0m7.5-1.5h0m-35-3.5h0m16-7h0m6 6.5h0m11 3.5h0m-38 1.5h0m10-0.5h0m35-2h0m-32.5-12.5h0m-14.5 14.5h0m49-1h0m1 2h0m3.5-3.5h0m-7 0.5h0m2.5-7h0m-49.5 5h0m-1 4.5h0m11 0h0m22-5.5h0m-23 4h0m40-12h0m-13.5 11h0m18 1h0m-7 2h0m4-9h0m-17 9h0m-12-1h0m-2.5-2.5h0m13.5 3h0m20.5-9.5h0m-22 0h0m-22-4h0m9 14h0m-8-0.5h0m10-3.5h0m24.5-8.5h0m-44 9.5h0m37.5 2.5h0m-14.5 0.5h0m10-0.5h0m1-1h0m-1.5 1.5h0m-42-4h0m39.5 4h0m7.5-4h0m-49 3h0m18-0.5h0m25.5-2.5h0m-50 4h0m28-14h0m33 13.5h0m-14.5 0h0m19.5-5h0m-12.5 5h0m-34.5 0.5h0m3-14h0m43.5 8h0m-55.5 3.5h0m34.5 1h0m26 1h0m-17-0.5h0m18 0h0m-37-0.5h0m19 0.5h0m12-2h0m-47 1.5h0m13 0.5h0m34.5-2.5h0m-0.5 2h0m-60.5 1h0m13 0.5h0m43.5-6.5h0m-3.5 5h0m5-0.5h0m-8 0h0m-47 0h0m54 0h0m-21.5 1.5h0m18.5-0.5h0m0 1h0m-12.5-2h0m-5.5 2h0m11.5-2.5h0m17 2h0m-46.5 0h0m33-0.5h0m-17 0.5h0m24.5-4.5h0m-40.5 5h0m46-7.5h0m2.5 3.5h0m-20 1h0m-39 2.5h0m24-3.5h0m29 2h0m3 2h0m-6-1.5h0m0.5 1h0m-9-1h0m-28 0.5h0m20.5-5h0m13.5 6h0m-14-5.5h0m18 5.5h0m-41 0h0m-4.5-1h0m28-2h0m-12.5 1h0m-1 2h0m30-6.5h0m6 6.5h0m-18-1h0m11.5-1.5h0m-34 2h0m1-0.5h0m33.5 0h0m-50.5-1h0m35-11h0m-2 9.5h0m-3.5-2.5h0m-3 6h0m15.5-6.5h0m-39 6.5h0m9.5-4.5h0m18-3h0m16.5 6.5h0m-41 1h0m37.5-1h0m-2.5-11.5h0m-6.5 10.5h0m-12.5-15.5h0m-2 16.5h0m-26.5-2h0m47.5-2.5h0m-33.5 3h0m28.5-1.5h0m17.5-17.5h0m-11 15.5h0m-32.5 6h0m-7-1h0m-15 0h0m47.5-2h0m-12.5 2h0m17.5 0.5h0m3 0h0m3.5-4.5h0m5 4.5h0m-17.5-4.5h0m0.5-2h0m4.5 5.5h0m-17-9.5h0m10.5 9h0m3.5 2h0m8 0h0m8.5-5.5h0m-16-1.5h0m5 5h0m8.5-0.5h0m-40.5-0.5h0m23 2h0m-22.5 0.5h0m42-1.5h0m-55-3.5h0m16.5 2h0m31-12.5h0m-6.5 15.5h0m-34.5-1.5h0m31.5-3h0m-12.5 3.5h0m5 1.5h0m10.5-0.5h0m0-1.5h0m2 1h0m0-1.5h0m6.5 2.5h0m5.5-9h0m-34.5 7.5h0m-1 1.5h0m14.5-16h0m-0.5 13.5h0m7 1.5h0m10-4h0m-10.5-7h0m-1.5 11h0m19.5-1h0m-38 1.5h0m29.5-11h0m-23 11.5h0m26.5-1h0m-16-1.5h0m-33 2.5h0m25.5-4h0m29.5 3h0m1-0.5h0m-5.5 1h0m-11-5.5h0m14.5 4h0m-26.5 0.5h0m-9.5 1h0m35-5h0m-11 3h0m0 2.5h0m5-1h0m-25-13.5h0m11 14.5h0m8-4.5h0m-22 3.5h0m27-2.5h0m-21 3h0m0.5 0.5h0m19-3.5h0m-28-5h0m1.5 8h0m0 0.5h0m18-6h0m-4 5h0m25.5-26h0m-42 26h0m3-3h0m-8 3.5h0m13.5-9.5h0m-5.5 2h0m5.5 6.5h0m-25 1.5h0m-8-3h0m57.5-3.5h0m-55-1.5h0m52 8h0m6-3.5h0m2-2h0m-2.5 1.5h0m-49.5 3.5h0m45-7h0m5.5 5.5h0m-34.5-2.5h0m12.5 3h0m7.5-0.5h0m-8.5 1.5h0m-13-2.5h0m28.5 3h0m4-0.5h0m-2-1.5h0m-32 0h0m-11.5 2h0m50.5-1.5h0m-19-15h0m13.5 13.5h0m-34 1.5h0m25.5 1.5h0m15-2h0m-13.5 1.5h0m-31-1.5h0m31-1.5h0m0.5 3.5h0m9.5-3h0m-10-0.5h0m0.5 2.5h0m3.5-3.5h0m5.5 4.5h0m-4-2.5h0m1.5 0h0m-51 1.5h0m59-3h0m-7 2h0m-23 1h0m27.5-4.5h0m-0.5 3h0m-46 2h0m8.5-9.5h0m40 9h0m-34 1h0m35 0h0m-10-0.5h0m-30.5-6h0m28.5 4.5h0m-1.5 1.5h0m-5.5-6h0m0 1h0m13 3h0m-18.5-1.5h0m10.5 1h0m-9.5-2.5h0m18.5 1h0m-40.5 3.5h0m-26.5-3h0m60 0.5h0m-21 2.5h0m-2.5-3h0m24.5 3h0m-21-0.5h0m-19 1h0m-3 0.5h0m26.5-2.5h0m-24 2.5h0m22.5-3h0m-7 3h0m20-2h0m-48 0.5h0m44-4h0m-9 5.5h0m-4.5-4h0m-11-4.5h0m7.5 8h0m-26-1.5h0m49.5 1.5h0m-8-2.5h0m6.5 2h0m-22.5 0h0m35.5 0.5h0m-7-0.5h0m-11.5 0.5h0m-6 0h0m-14.5-0.5h0m-0.5-2h0m25.5 3h0m-12-1h0m-22 1h0m26-1h0m-9.5-9h0m12.5 8h0m-28.5 1h0m-17-4h0m51.5 0.5h0m10 1.5h0m5 2.5h0m-28.5 0h0m20.5-16h0m-9 16.5h0m6-3h0m-8-18h0m-16 21h0m-19.5 0h0m0-0.5h0m33-5h0m-6.5 2h0m3 2.5h0m3-6.5h0m7.5 7h0m-28.5 0h0m38.5 0.5h0m5.5-20.5h0m-31.5 14.5h0m-19 5.5h0m33.5-2.5h0m2-30h0m-0.5 27h0m3-5.5h0m-14.5 9.5h0m-29 0h0m53 2h0m-20-0.5h0m-11-2h0m8 2.5h0m-8.5-1h0m5 0.5h0m-33-1.5h0m59.5-5.5h0m2 3h0m-37.5 4h0m-8.5-1h0m45 1.5h0m-58.5-1.5h0m-3 1h0m54.5 0.5h0m-10.5-1h0m15 1h0m-37.5-0.5h0m6-2.5h0m15 1.5h0m21-0.5h0m-28 0h0m-11.5-5.5h0m-27.5 4.5h0m45.5 2h0m-23-5.5h0m-16 6.5h0m23-7h0m13.5 7h0m-37.5-0.5h0m-1-1.5h0m58-3.5h0m-6.5-2h0m-36 5.5h0m-3.5-3h0m48 3.5h0m-24.5-0.5h0m1.5 1.5h0m-8-0.5h0m4-0.5h0m4 1.5h0m-11-1h0m1-4h0m32 5h0m-31 0h0m-27-2h0m-8.5 1h0m62 1h0m-31-5.5h0m25 4h0m-33-1h0m13 2.5h0m-6-2h0m21.5 0.5h0m-32-4.5h0m33.5 4.5h0m-0.5-0.5h0m-11.5 0h0m3.5 2h0m21-1h0m-28.5 0.5h0m-15-1.5h0m40 2h0m-1-2.5h0m-4.5 0.5h0m-7.5 0h0m-2 0.5h0m15.5-1h0m-10 1h0m-20.5 0h0m19.5 1.5h0m-28.5-78.5h0m41.5 13.5h0m1.5 16h0m-47 6.5h0m-4 6h0m31.5-9h0m7 1h0m6 4h0m4.5 0h0m-16.5 2h0m-10 4h0m-35 9h0m24.5-13h0m28.5 4h0m-12-6h0" stroke="#2641fb" stroke-width="1.6" stroke-linecap="square" fill="none"/><path d="M270.5 148.9h1.2" stroke="#444" stroke-width="0.8"/><text x="268.1" y="151.9" font-size="7.6" text-anchor="end" fill="#000">0</text><path d="M270.5 128.5h1.2" stroke="#444" stroke-width="0.8"/><text x="268.1" y="131.5" font-size="7.6" text-anchor="end" fill="#000">0.1</text><path d="M270.5 108.1h1.2" stroke="#444" stroke-width="0.8"/><text x="268.1" y="111.1" font-size="7.6" text-anchor="end" fill="#000">0.2</text><path d="M270.5 87.7h1.2" stroke="#444" stroke-width="0.8"/><text x="268.1" y="90.7" font-size="7.6" text-anchor="end" fill="#000">0.3</text><path d="M270.5 67.3h1.2" stroke="#444" stroke-width="0.8"/><text x="268.1" y="70.3" font-size="7.6" text-anchor="end" fill="#000">0.4</text><text x="271.5" y="157.9" font-size="7.6" text-anchor="end" fill="#000">−1</text><text x="311.2" y="157.9" font-size="7.6" text-anchor="middle" fill="#000">0</text><text x="351.9" y="157.9" font-size="7.6" text-anchor="middle" fill="#000">1</text><text x="313.0" y="61.4" font-size="7.6" text-anchor="middle" fill="#000">Spearman:0.10</text><text x="311.2" y="167" font-size="7.6" text-anchor="middle" fill="#000">Human−chicken Pearson <tspan font-style="italic">r</tspan></text><text transform="translate(251.8,108.1) rotate(-90)" font-size="7.6" text-anchor="middle" fill="#000">Proportion of chicken bases conserved</text><path d="M389.5 149H466.3" stroke="#7a7a7a" stroke-width="1.7" fill="none"/><path d="M389.5 67.3V149.5" stroke="#4d4d4d" stroke-width="1" fill="none"/><path d="M457 145.5h0m-11 3h0m-6.5-5.5h0m-20 1.5h0m25-10h0m-11.5 11h0m29-1h0m-7.5 3.5h0m-38 0.5h0m22-2.5h0m-2.5-5.5h0m7.5 5.5h0m2.5 2h0m3-0.5h0m-15-3h0m5-7.5h0m0.5-5.5h0m16 14h0m8 0h0m-30 1h0m14.5 1.5h0m-10.5-10.5h0m14.5 10.5h0m-29.5-0.5h0m18 0h0m3 0.5h0m-21.5-1h0m11.5-3h0m12.5 4.5h0m1-3.5h0m-16.5 1.5h0m6-7.5h0m23 8.5h0m-9 1h0m-15-2.5h0m-10 1h0m24.5-1h0m11.5 0h0m-26.5-1.5h0m8.5 4h0m-18.5-2h0m2-1h0m31.5 0h0m-35 3h0m17-0.5h0m10-3h0m-6.5 2h0m-11.5 0.5h0m9.5 1h0m-11 0h0m-13.5-1.5h0m40.5 1h0m-35.5-11h0m15 10.5h0m-13 0h0m35.5-2.5h0m0 2h0m-2.5 0h0m-5.5-8h0m-40 8.5h0m9.5-1h0m1.5 2h0m31.5-16.5h0m-10 12.5h0m-7.5-1.5h0m14.5-5.5h0m-25 10h0m36.5 1h0m-44.5 0h0m41-4h0m-19.5 3h0m-21-1h0m33.5-2.5h0m-11 4.5h0m-19.5-3h0m20.5 3h0m-19-8.5h0m18.5 6.5h0m14.5 2h0m-43.5-3h0m38.5 2h0m-42.5-1h0m54.5-3h0m-7.5 5h0m-13-3.5h0m19 2h0m-6-2.5h0m8-1h0m-29.5 4.5h0m24.5 0.5h0m-43.5-1.5h0m47.5 0h0m-15-0.5h0m-24.5 1.5h0m19.5 0h0m-15.5 0.5h0m-6-1.5h0m43 1.5h0m-2-3h0m-3 0h0m-22.5 1h0m5 0h0m-7.5 0h0m-1.5 2h0m-16-1.5h0m27-0.5h0m4 0.5h0m-35 1.5h0m26.5 0h0m7.5-1h0m9.5-2h0m-11 2h0m-3-1.5h0m-23.5 1h0m27.5 1h0m-1.5-4.5h0m6.5 1.5h0m-9 2h0m-1.5 1.5h0m-7-0.5h0m-8.5-3h0m-6-9h0m21.5 11.5h0m9-2.5h0m10 2.5h0m-29.5-6h0m20.5 3.5h0m-7 3.5h0m10.5-2.5h0m7.5-2h0m-12 1h0m7.5-1h0m6.5 1h0m-28.5 3.5h0m11-3h0m-9 3h0m20.5-1.5h0m-45 0.5h0m11.5-6.5h0m34 4.5h0m-13.5-3h0m-14-7h0m13 10.5h0m-27-2.5h0m26.5 5h0m-17-1.5h0m5.5-2h0m12.5 2.5h0m15-4.5h0m-6.5 4.5h0m-31-6.5h0m10.5 7h0m5 0h0m17.5-3.5h0m-19 0.5h0m16.5-2.5h0m-33.5 6h0m19-2h0m19-3.5h0m-1 1.5h0m-6.5-10.5h0m-31.5 14h0m40 0.5h0m-1-5.5h0m-12 4.5h0m-29.5 0h0m25.5 1h0m-11 0h0m17-4.5h0m-6 3h0m-8 0h0m25-1h0m-16 0h0m-5.5 1.5h0m-6.5-2h0m6-0.5h0m13.5 1h0m-9-3.5h0m11.5 4.5h0m-29.5 1.5h0m25-1h0m-25 1h0m30-1.5h0m10 0.5h0m-20-3h0m11 3.5h0m-37-4h0m7.5 4h0m38.5-4.5h0m2-2.5h0m-31 7.5h0m3-1.5h0m-14.5 0.5h0m40-2h0m-1 2h0m-11.5-1.5h0m-17 2h0m-3.5 0h0m25.5-11h0m-34.5 6.5h0m23.5 5h0m-22-0.5h0m9 0.5h0m-4-3h0m-29.5 3h0m46-0.5h0m8.5 0.5h0m-8-5h0m-3 5h0m-9.5-1h0m13.5-25.5h0m-7 13.5h0m-37.5 12.5h0m14.5-0.5h0m26.5-4h0m22.5 4h0m-54 1h0m32-1.5h0m-21-5.5h0m35.5 5h0m-35-14h0m7.5 15.5h0m23-12h0m12.5 4.5h0m-13 7h0m-22 1h0m23 0h0m-15.5-2h0m24.5 2h0m-29.5-0.5h0m9.5 0h0m-13 0h0m29.5 0.5h0m-14.5 0h0m-8-25.5h0m24 25.5h0m-30.5-0.5h0m19.5-6h0m7-0.5h0m-16 6.5h0m2-17.5h0m12.5 14.5h0m5.5 3h0m-23.5-2.5h0m24-7.5h0m-11.5 9h0m0-2.5h0m-7.5 2h0m-19 2h0m6.5-0.5h0m32-16h0m-19.5 16h0m7-3h0m-0.5 2h0m-14-0.5h0m10 0.5h0m-20 0h0m4.5 1.5h0m4-1h0m2 1h0m-5-0.5h0m15 0h0m17.5 0.5h0m-10-17h0m-9 15h0m11 2h0m-11-3h0m-6 2.5h0m3 0.5h0m-20.5-2h0m11.5 1h0m15.5 0.5h0m-35.5-1h0m39.5 0.5h0m-13 1h0m4 0h0m5.5-4.5h0m-15.5 4.5h0m4-2h0m19.5 1.5h0m-5-1h0m11.5 0.5h0m-9.5 0.5h0m-23-1.5h0m0.5-5.5h0m-9.5 4.5h0m44.5 1h0m-37.5 2h0m29-1h0m-32 0.5h0m36.5-1h0m-35 0.5h0m34.5-10.5h0m-0.5 10h0m-1.5-1.5h0m-58 2.5h0m58-6h0m-43 5h0m-1 1h0m13 0h0m6.5 0.5h0m17-3.5h0m-10.5 3h0m12-1h0m-1-3.5h0m-15 4.5h0m18.5-7.5h0m-14 2h0m-7 4h0m13 1.5h0m6-0.5h0m11-0.5h0m-33 1h0m6.5-3.5h0m6.5-3.5h0m-17.5-1h0m1.5 8.5h0m28-1h0m-3 1h0m-21 0h0m3.5-7.5h0m30.5 3.5h0m-2 2h0m-41-0.5h0m13 2h0m15 0.5h0m-5.5 0h0m-18.5-6h0m18 4.5h0m1.5 1h0m-8.5-2h0m-15.5 1h0m27 1h0m1-7h0m-30.5 6.5h0m6 1h0m11-0.5h0m5.5-1.5h0m11.5-2.5h0m5.5 1h0m-33.5 3.5h0m-3 0h0m25.5-4h0m4 4h0m-9.5-1.5h0m-2.5-0.5h0m19.5-12h0m-37.5 3.5h0m8.5 10h0m32.5-14.5h0m-36 14.5h0m20-1.5h0m16 2h0m-15.5-0.5h0m-20.5 0h0m11-2.5h0m22 1.5h0m-4.5-1h0m-6 2h0m1.5-5h0m-34.5 5h0m26.5 0h0m-30 0h0m50-8h0m-18.5 6h0m9.5-4.5h0m0 2h0m8 3h0m-43 2h0m27.5-3h0m-3 2.5h0m20-5h0m-42 5.5h0m12-4h0m12 2h0m-14 0h0m14-1h0m-10 1h0m7 1.5h0m-5-3h0m10 0.5h0m-10 2.5h0m-5 0h0m-8 0h0m12.5-1.5h0m18-1.5h0m-2.5 2.5h0m-8-26h0m-26.5 12.5h0m20 8.5h0m8.5 6h0m3-2.5h0m-12.5 2.5h0m12-0.5h0m5.5-2h0m0 1h0m10.5-3.5h0m-37.5 3.5h0m18-1h0m8-0.5h0m-22 3h0m30-2h0m-18.5 0.5h0m-5.5-1h0m4 2.5h0m24-5.5h0m-12 2.5h0m-5 0.5h0m10-5h0m-10.5-5.5h0m11 13h0m-0.5-0.5h0m-20-20h0m24 19h0m-2 0h0m-2-5h0m0 1.5h0m-4 5h0m-34-2.5h0m28.5-4h0m-15.5 2.5h0m8 2.5h0m-17 1h0m3-1h0m32-12.5h0m-15.5 8.5h0m13.5 2.5h0m-27.5 1.5h0m6.5 0h0m18.5 1h0m-54-0.5h0m13-3.5h0m22 4h0m-7.5-0.5h0m11 0h0m-24.5 0h0m4 0h0m31-3h0m7 2.5h0m2-5h0m-43.5 4.5h0m35.5 0.5h0m-4.5-7h0m-23.5 6.5h0m3 1h0m-8-12.5h0m16.5 13.5h0m12.5 0h0m-9.5-2.5h0m5.5 2.5h0m-27 0h0m46-1h0m-13.5 0.5h0m7.5-11h0m-13 11.5h0m-27.5-2h0m1 0.5h0m24.5-6h0m21.5 6.5h0m-7 1h0m8.5-2.5h0m-25 2.5h0m-22.5-1h0m18.5 1h0m3-2h0m11.5 1h0m16.5 0h0m-20-6h0m-16 5.5h0m-3 0.5h0m1 0.5h0m1-2.5h0m25 1h0m-17.5 0h0m-6.5 2h0m14-1.5h0m-15 0h0m-3.5 1h0m19 0.5h0m-0.5-3h0m9.5 1h0m-14 2h0m-11.5-0.5h0m27.5-11.5h0m3 8h0m7 3h0m-34.5-1h0m9 0h0m4-1.5h0m-6.5 0h0m22.5-2h0m-8 3.5h0m-29.5-4.5h0m19 4.5h0m24.5 1.5h0m-6.5-2h0m-33.5 1.5h0m27.5-1.5h0m-27 2h0m10-0.5h0m16.5-3h0m-1 3.5h0m-6.5 0.5h0m-6-2.5h0m-16 0.5h0m25.5 1h0m9-0.5h0m-18.5 0.5h0m-23 1h0m36.5-0.5h0m-11-7.5h0m5 7h0m4-3h0m-22 3h0m15.5-1.5h0m8.5 2.5h0m-30-1.5h0m27.5-4.5h0m-4 1.5h0m-11.5 3h0m27.5-5.5h0m-29.5 7h0m26-2h0m-42.5-1h0m49.5-4h0m-30-0.5h0m23.5 4.5h0m-12 2.5h0m15.5-0.5h0m-40-2.5h0m-4.5 3h0m8.5-12.5h0m38.5 12h0m-42.5 0h0m8.5-1h0m0 1.5h0m16-2h0m15 1h0m-4.5 1.5h0m-4-1.5h0m-8.5-1.5h0m-19 2.5h0m10 0h0m24.5-9.5h0m-1 10h0m-35.5-1h0m1 0h0m21-4.5h0m-21.5-5h0m-4 10.5h0m8.5-1.5h0m33.5-2h0m-1.5 0.5h0m3 0h0m-6 1.5h0m-17 0h0m13-1.5h0m-5 1.5h0m16.5 1.5h0m-32-3h0m10 3h0m-18-7.5h0m14.5 7h0m1 0h0m4.5-0.5h0m16-0.5h0m-11-2.5h0m-10 3.5h0m4.5-5h0m-13 5h0m18.5-1h0m9 1.5h0m-1-0.5h0m-8.5-0.5h0m-2-3.5h0m13 3.5h0m-31 0h0m2.5-1h0m-10 1h0m12 0.5h0m26.5-2h0m-40 2h0m27-2h0m2.5-6h0m-11 7.5h0m-23.5-8.5h0m41.5 9.5h0m-27.5-3h0m-14 3h0m31-1h0m12-0.5h0m-40-3h0m14.5 4h0m4 0.5h0m11.5 0h0m-19-8.5h0m13.5 8h0m-1.5-3h0m10.5-1h0m-23 2.5h0m13.5 0h0m16 1h0m-5.5 1h0m-12.5-1h0m10 1h0m-1.5 0h0m15-2.5h0m-43.5-4h0m-3.5 4.5h0m14 1h0m-20 1h0m27-1.5h0m-14.5 0h0m4.5-3h0m16.5 1.5h0m-1.5 2.5h0m-29.5-1.5h0m8.5 1.5h0m20.5-1.5h0m1.5 1h0m-1 1h0m-15-0.5h0m11.5-3h0m-3-1h0m-5.5 2h0m5.5 0.5h0m-12.5-2h0m-10 0.5h0m35.5 3.5h0m-1-0.5h0m10.5 0.5h0m-32-1h0m3 0h0m-3.5-1.5h0m37-4h0m-4 5h0m-30.5 0h0m-5 0h0m37-3h0m-19.5-7h0m-5 9.5h0m11.5-0.5h0m1-1.5h0m3-0.5h0m5.5 3.5h0m-37.5 0.5h0m2-2.5h0m25.5 3h0m1.5 0h0m-2.5-5h0m13 3h0m-46.5-2.5h0m46 2h0m-14.5-2h0m9.5 0.5h0m10.5-0.5h0m-22-13h0m-4.5 16h0m20 0.5h0m-43.5-6h0m-1 4.5h0m29.5 2h0m18.5-5.5h0m-28 3.5h0m11.5 1h0m-23 1h0m18.5 0h0m20-1.5h0m-39-2h0m15.5 4h0m-17-2.5h0m38.5 1.5h0m4-0.5h0m-38-0.5h0m21.5-11.5h0m-29.5 8.5h0m40.5 3h0m-34 2h0m20-1.5h0m6-2h0m-32-10h0m43 13h0m-7.5 0.5h0m-36 0h0m20.5-7.5h0m27 7h0m-20.5-0.5h0m10.5 0h0m10.5-2.5h0m-40.5-2h0m32-6.5h0m3 9h0m0.5 1h0m-26.5 1h0m24-5h0m-6.5 4.5h0m-24 0h0m28 0h0m-3.5 1.5h0m12-12h0m-50 10h0m36 2h0m-3.5 0h0m9.5-2h0m-14 2h0m-15-3h0m-1 2h0m24 1h0m-16-1.5h0m3.5 1.5h0m15.5-5.5h0m0 4.5h0m-27.5 1h0m30-3h0m9 2h0m-19-3h0m-19 3h0m33.5 0h0m5-2h0m-18.5-6.5h0m-22 9.5h0m20-7h0m-2.5 5.5h0m18-5h0m-8 0h0m6.5 6h0m-41.5-1h0m26-3.5h0m21.5 0h0m1.5 2.5h0m-9.5 1h0m-39 1.5h0m0.5-2.5h0m43 2.5h0m-29-0.5h0m-8.5-0.5h0m32-15h0m-0.5 15.5h0m-13.5-1h0m11.5 0.5h0m2 1h0m-1-4h0m9 1h0m-8 2h0m0.5-3.5h0m-3 1.5h0m-15.5 0h0m-12.5 3h0m21.5-1h0m-23-0.5h0m17.5 0h0m1-1.5h0m20.5 1.5h0m1 1.5h0m-6.5-1h0m-4.5-2.5h0m-19.5 1.5h0m7 1h0m18.5-2h0m-14.5 1.5h0m11.5-17.5h0m-1.5 18.5h0m4-1h0m-6.5-3.5h0m-11 1h0m-2 3h0m5.5-3h0m-6-8h0m28.5 8h0m-34.5 4h0m14.5-1h0m-1.5-0.5h0m-7 1h0m11.5-4.5h0m-0.5 5h0m-47 0h0m19.5-3.5h0m-1 2.5h0m18-2h0m-3.5 3h0m18-1h0m2.5 0h0m-7-3.5h0m-8.5 3h0m4.5 1.5h0m10.5-2h0m-6.5 0.5h0m2.5 1h0m-2-3h0m-6 2h0m-2.5 1.5h0m-16-10h0m39.5 9.5h0m-22-3.5h0m14.5 2h0m4.5-4.5h0m-42 6h0m40-1h0m-21 1h0m-13 0.5h0m-3-1h0m24.5 1h0m-19-0.5h0m33-2h0m-25.5 0h0m-10.5 2h0m26.5 0h0m10.5-1.5h0m-17 1h0m-30.5-2h0m34.5 0.5h0m-11-2.5h0m21 4.5h0m-35.5-3.5h0m28.5 1.5h0m9.5 2.5h0m-27.5-1h0m-14.5-10h0m15.5 7.5h0m18 0.5h0m4 2h0m-42.5 0.5h0m16.5-2h0m-3 1.5h0m25.5-5.5h0m-28 3.5h0m26-13h0m-11 9.5h0m-3.5 5.5h0m-15-4h0m31-6h0m-3.5 8h0m-10.5-5.5h0m20.5 6h0m-37.5 1.5h0m-5 0.5h0m34 0.5h0m-19 0h0m30-7h0m4.5-0.5h0m-10 3.5h0m-0.5-1.5h0m-10 1h0m15.5 3.5h0m-21.5 0h0m13 1h0m-2.5-1h0m7.5-3h0m-9 4h0m-11-0.5h0m-7-2.5h0m-10.5 3h0m41-1h0m-24.5 0h0m-11-6h0m10 6.5h0m-18.5 0.5h0m35.5-0.5h0m-23.5-0.5h0m-8.5 0.5h0m0 0h0m32.5-0.5h0m5.5 0.5h0m-0.5-6h0m-33.5 5.5h0m35.5-0.5h0m-18-9.5h0m20.5 6h0m-38.5 2h0m32-2h0m-25.5 5h0m21 0h0m-7.5-0.5h0m7-1.5h0m-24-13h0m0 14h0m11.5 0h0m-16.5-0.5h0m12-0.5h0m19.5 1.5h0m-43-1h0m48.5 0.5h0m-22-1h0m4.5 1.5h0m-25 0h0m31.5 0.5h0m-30.5-0.5h0m47.5-8h0m-3.5 5h0m-46-6.5h0m2.5 10h0m17.5-4h0m13 0.5h0m-4-9.5h0m19.5 12h0m-35.5-0.5h0m20.5 1.5h0m-3-2h0m10 0h0m-9 2h0m4-0.5h0m15.5 0.5h0m-18-2h0m8.5-1h0m-5.5-1h0m14-2h0m-13 3h0m2.5 0h0m-31.5 2h0m7-1h0m22.5 2h0m5.5 0h0m-10-5h0m6 4.5h0m-19.5-13h0m25 13.5h0m-27-3h0m24-4.5h0m9 1.5h0m-50.5 4.5h0m29.5-11.5h0m-10 11.5h0m15 0.5h0m-14.5-1.5h0m26.5 2.5h0m-35-2.5h0m-8-2h0m41 3h0m-34.5-1h0m1.5 2.5h0m29.5-2.5h0m-10-1h0m-14-2h0m5 4h0m11-10h0m13 11.5h0m-47 0h0m47-3.5h0m4 3.5h0m1-10h0m-12.5 5h0m-16 5h0m14-3h0m-37 3h0m28-3h0m-19.5-0.5h0m31.5 2.5h0m-11.5-1h0m-8.5 1.5h0m9-7h0m14 7.5h0m3-11h0m3 9h0m-16 1.5h0m-7.5-1h0m23 1h0m-23-3.5h0m-20.5 1.5h0m16.5 1.5h0m11-1h0m-6 1.5h0m24.5-5.5h0m-3 5.5h0m-31-1.5h0m23.5 2h0m-9-5.5h0m7 3h0m-9-3h0m7 2.5h0m-27.5 1.5h0m15 1h0m16-1h0m5.5-1h0m-35.5-0.5h0m32.5 1h0m-38.5 1h0m43 0h0m-46.5-0.5h0m42.5-1.5h0m-29 2.5h0m21 0h0m-33 0.5h0m37.5-9h0m-6 4.5h0m16.5 1h0m-34 3.5h0m5-0.5h0m8-0.5h0m-5-6.5h0m2 6h0m18 0h0m-34.5 1.5h0m11.5-2.5h0m-6-1h0m-3 3.5h0m18-4.5h0m-2 4h0m16.5-0.5h0m-42-1.5h0m21 1h0m25.5-3h0m-11-8h0m3 3.5h0m-14.5 8.5h0m-9-2.5h0m17.5 3h0m5-4h0m-14 0.5h0m2-3h0m3 5h0m-13.5 0h0m-4.5-2h0m24 2.5h0m-18.5-0.5h0m5-1.5h0m5.5-0.5h0m-5 3.5h0m21.5-1.5h0m-25 1.5h0m5-4.5h0m21.5 3.5h0m4.5-1.5h0m-23 1h0m-27.5-11.5h0m39 11.5h0m-16-0.5h0m-1.5-3.5h0m27 3h0m-24-13.5h0m-20.5 15h0m37-1.5h0m-31.5 2.5h0m17-2.5h0m7.5-2.5h0m-31.5 2.5h0m-2.5 0.5h0m45-4.5h0m-20 6.5h0m-4.5-1h0m1-10h0m-11.5 4.5h0m7.5 5.5h0m-2-0.5h0m-10.5-2h0m31 3.5h0m-34.5 0h0m10-3h0m-2.5 2h0m-13.5 1h0m31.5-0.5h0m-27.5 0h0m1 0h0m26-0.5h0m15-1h0m-35.5-2h0m28 3h0m-5.5-2.5h0m9 1.5h0m-24.5 0.5h0m-10 1.5h0m15.5-1h0m-6.5 0h0m25 0.5h0m-8-1.5h0m19.5 0h0m1.5-10h0m-40.5 10h0m-0.5-1.5h0m41.5 2.5h0m-4-1.5h0m-9-2.5h0m-32.5 0h0m-1 4h0m-1-11h0m24 8.5h0m-12 3.5h0m13-2.5h0m1.5 1.5h0m-5-9h0m-28.5 10h0m49-2.5h0m-36.5-0.5h0m1.5 3h0m-0.5-2h0m36.5 2h0m0.5-2.5h0m-6 2h0m-10 0.5h0m-20.5 0h0m12-0.5h0m-19.5-2h0m28.5 0.5h0m9.5-1h0m8.5-2.5h0m-6 5h0m-15-3.5h0m13.5 3.5h0m-5 0h0m-5.5-0.5h0m-8.5 0h0m11.5-3.5h0m9.5 2.5h0m-2-5.5h0m-36.5 5h0m40 2h0m-45 0h0m30-1.5h0m-10.5 1h0m11.5 0h0m5-3h0m-2.5-3.5h0m-13 7.5h0m12.5-1h0m-5-3h0m22 4h0m-31.5 0h0m0-0.5h0m27.5 0h0m-26-0.5h0m10-3h0m-23 0h0m24 3.5h0m7-2h0m9-1.5h0m-20 4h0m0-0.5h0m23.5-3h0m-20.5-1h0m-25-0.5h0m6.5 4.5h0m-3.5 0h0m31-6h0m-25.5 6h0m5-4.5h0m-16.5 3h0m-2.5 2h0m9-0.5h0m33 0h0m-28.5 0h0m-13-0.5h0m9-4.5h0m25 2h0m-2.5 1h0m0-1h0m-21 2h0m-23 1.5h0m26 0h0m19-2h0m-12.5-6.5h0m2 5.5h0m7.5 3h0m1.5-2.5h0m0 2h0m-6 0.5h0m2.5-0.5h0m19.5 0h0m-7.5-1h0m-2.5-1.5h0m3 2h0m8-0.5h0m-22.5 1.5h0m22-10.5h0m-4-4.5h0m-14.5 14.5h0m15.5-2.5h0m1.5 0h0m3.5-1h0m-17.5 2h0m-1 0h0m9 1h0m3.5-1.5h0m-4-2.5h0m-43 2h0m39 3h0m-29-1.5h0m39.5-1h0m-6-9.5h0m7.5 9.5h0m-16.5 1h0m-0.5-2h0m5.5 0h0m-8 3.5h0m19-2.5h0m-6.5-16h0m-3 16.5h0m4-2h0m-33.5 0h0m20.5-20h0m15.5 22h0m-21 1h0m4.5-2.5h0m-6.5 3h0m-4.5-4.5h0m23 3h0m-2.5 1.5h0m8.5-3h0m-44.5 1.5h0m5-2.5h0m8.5-1.5h0m16.5 1.5h0m-36 2.5h0m38 2h0m13-5.5h0m-7.5 4h0m-10-1h0m-3.5 2h0m1-1.5h0m19.5 2h0m-4 0h0m-3-0.5h0m1-7.5h0m-3 6h0m7-3.5h0m-21.5 5.5h0m17-2.5h0m-3.5-0.5h0m2.5 2h0m-3.5 1h0m-29 0h0m36 0h0m-34-2.5h0m35.5 1.5h0m-13.5-7h0m-7 2h0m4.5 4h0m11-2h0m-38.5 3.5h0m15-5h0m26 5h0m-44.5-8.5h0m12.5 9h0m27.5-0.5h0m-1-2.5h0m-46 3h0m39 0h0m-29-0.5h0m45-15.5h0m-16.5 14.5h0m16.5-9h0m-4.5 8.5h0m-33-4h0m28 1h0m-21 4.5h0m-12 0.5h0m41.5 0h0m6.5-2h0m-18 1h0m3-2.5h0m12.5-0.5h0m-5-5.5h0m-25.5 9.5h0m20.5-0.5h0m-39 0h0m51.5-8.5h0m-7.5-10h0m-33.5 18.5h0m23-1h0m18 1.5h0m0-2.5h0m-3.5 1.5h0m-12-5h0m-24 3.5h0m27.5-4h0m-30.5 2.5h0m34.5-1h0m-42.5 5h0m48.5-2.5h0m-4 2h0m2-1.5h0m-44 2h0m28.5-1.5h0m6-1.5h0m0 2.5h0m3 0h0m-24.5 0.5h0m30-0.5h0m2-23h0m-29.5 23h0m0.5-3h0m20.5 3.5h0m-2.5-1.5h0m13.5-16h0m-2.5 16.5h0m-24 1h0m6.5-3.5h0m-26.5 2.5h0m-3-1.5h0m35.5-2.5h0m-33.5 1h0m35.5 1.5h0m-3.5-1.5h0m-2 2h0m-16 0h0m19-3.5h0m-1.5 0h0m-5-1h0m2 3h0m12.5 1.5h0m-30.5 1.5h0m3-3h0m-14.5 2.5h0m45-0.5h0m-17.5 1h0m13.5-0.5h0m-29 0h0m-7.5-5.5h0m-7 5h0m9 1h0m-10.5 0.5h0m20.5-12h0m-13.5 5h0m-4 3.5h0m22.5 3h0m-16 0.5h0m40.5-2.5h0m-25 2.5h0m15-3h0m-34 3h0m5.5-2.5h0m18-4.5h0m15 6h0m-11-3.5h0m-10 0.5h0m-20.5 4h0m46.5-0.5h0m-35.5-1.5h0m-5-2.5h0m38.5 2.5h0m0 2h0m4.5 0h0m-16.5-1h0m15-2h0m-28.5-19h0m4 20.5h0m23.5-7h0m-39 7.5h0m39 0h0m0.5-4h0m-11 5h0m5 0h0m0-1h0m-19.5-1h0m12.5 0.5h0m-12-1.5h0m-16 3h0m10.5-2.5h0m11 1.5h0m11.5 1h0m-8-1h0m4.5-1h0m-35 1.5h0m12.5 0.5h0m4-8h0m-7.5-13h0m1 19h0m17 0.5h0m-3-1h0m-20.5 1.5h0m23.5-2h0m-16-0.5h0m25 3h0m-19.5-2h0m30.5 0.5h0m-3 0h0m4-1h0m-30 3h0m26.5-0.5h0m0.5-3h0m-17-8h0m-15 11h0m31.5 0h0m-19-2h0m23.5 1.5h0m-14-4h0m6.5-1h0m-28.5-3h0m9 6h0m12.5 0.5h0m-5.5 0h0m10 1h0m-1.5-1.5h0m-24.5 3h0m37-0.5h0m-47-0.5h0m29.5-0.5h0m-27.5 1.5h0m23-4.5h0m-27 4.5h0m29.5-3h0m-4 2.5h0m-2.5 0.5h0m-5.5-0.5h0m2-1.5h0m-7.5 0.5h0m-5-1h0m27-3.5h0m-26 4.5h0m5 1h0m28-2.5h0m-18.5 2.5h0m-12.5-2.5h0m26-6.5h0m-15 7.5h0m-23-0.5h0m0.5 2.5h0m42 0h0m9-8.5h0m-26 1.5h0m10 4h0m-27.5 2.5h0m-2.5-2.5h0m16 2.5h0m4 0h0m13 0.5h0m2.5-4h0m-2 2h0m0 1.5h0m-41-1h0m1.5 0.5h0m1-1.5h0m41 1h0m-3-6.5h0m-11.5 8h0m-25-4h0m19-20.5h0m17 20h0m-6-15.5h0m8.5 19h0m-11-22h0m11.5 12h0m-16 7h0m10 3h0m-12.5-1.5h0m12 2h0m-13.5-6h0m-1.5 6.5h0m31-4h0m-8-5h0m-14 7.5h0m-10 1h0m-1.5-0.5h0m8-1h0m-15 1h0m30-2.5h0m10.5 2h0m-8.5 1.5h0m-19.5 0h0m-13-0.5h0m-10.5-10h0m11 9.5h0m26.5-3.5h0m-20.5-1h0m2 5h0m6.5-1h0m21.5 0h0m-1-2h0m-30.5-0.5h0m31.5 2h0m-12 2h0m2.5-1h0m0-7h0m-9 8h0m3-1h0m6.5 1h0m-20.5-0.5h0m28.5-3.5h0m-39.5-0.5h0m3 3.5h0m37.5-2.5h0m-13 3.5h0m3.5-1.5h0m-8.5-2.5h0m9.5 2h0m-23-21h0m32.5 22h0m-22.5 0.5h0m-12-1h0m12.5-2.5h0m10.5 3h0m-21-1.5h0m32.5-1.5h0m3 4h0m-35-2h0m14.5 1h0m-16 0.5h0m22.5-19.5h0m2-7.5h0m-20.5 27h0m-16.5 0.5h0m37-2h0m-19 0.5h0m-9.5 0.5h0m4.5 0.5h0m32-4.5h0m-14.5 4h0m-23-6.5h0m36.5 3.5h0m-3 3h0m2-6h0m-23 6h0m-13-19h0m24.5 19.5h0m9 0h0m-26.5 0h0m34.5-0.5h0m-18.5-5h0m8 5.5h0m-30-1.5h0m13.5-5h0m-1 3.5h0m10 0.5h0m-7.5 2.5h0m-9-4h0m13.5 4h0m-28-3h0m33-4.5h0m-18 5h0m10 0.5h0m-20-0.5h0m38.5-1h0m-11.5-10h0m-4 12.5h0m-12.5 1.5h0m32.5-1h0m-34-2.5h0m29.5 3h0m-28-2.5h0m-9.5-7.5h0m31 2.5h0m-22.5 7h0m5.5-0.5h0m2-1.5h0m7-4.5h0m-5.5 6h0m12.5-9.5h0m-5.5-2h0m-12.5 12.5h0m1 0.5h0m24-2h0m-42.5 1.5h0m5 0h0m41.5 0h0m-7.5-1.5h0m-21 2h0m31-1h0m-1 0h0m-3-12h0m3 1h0m-7 9.5h0m1 2.5h0m-26.5-3.5h0m10.5 1h0m20.5 2h0m-44.5 0.5h0m41-7.5h0m-47.5 7.5h0m20-1h0m26.5-1.5h0m-2 2.5h0m6.5-5h0m2 5h0m-28.5-8.5h0m10.5 4h0m13.5 1h0m-21.5 2h0m0.5 0.5h0m-18 1h0m14.5-3.5h0m18.5 2h0m-33.5 0.5h0m42-1h0m-6.5 1.5h0m-2.5-0.5h0m-17 0h0m-1-5h0m16.5-1h0m-39 3h0m32 0h0m-8.5-4.5h0m14.5 2h0m-0.5 5.5h0m0.5 0.5h0m-27.5 0.5h0m38-0.5h0m-42.5 0h0m34-1.5h0m3.5-1h0m1.5 1.5h0m-12-0.5h0m-9.5 1h0m30 1h0m-45.5-0.5h0m19 0.5h0m-9-0.5h0m29 0h0m-13.5-0.5h0m8.5 0.5h0m-20.5 0.5h0m-10.5-2h0m7 2h0m30 0h0m-27.5-1h0m28.5-7h0m-18.5-5h0m-24 12.5h0m37-0.5h0m-26 0.5h0m4-7.5h0m29.5 7.5h0m-17 0.5h0m-21-3h0m31-1h0m-2.5 1.5h0m-1-1.5h0m-16 3.5h0m28-2.5h0m-6-1.5h0m-37 4.5h0m22-2h0m8-1h0m-14.5-0.5h0m8.5-0.5h0m-25.5-9h0m31 12.5h0m9.5-3.5h0m-14 4h0m10.5-4.5h0m7 3.5h0m-18.5 0.5h0m-0.5 0.5h0m6 0h0m14-3.5h0m-1.5 3.5h0m-7.5-0.5h0m-11-0.5h0m17-1.5h0m-35.5 0.5h0m-14 0h0m48-0.5h0m5-1.5h0m-47.5 3h0m37.5 1h0m-17-1h0m-6 0.5h0m24.5 0h0m-22-2h0m18.5 2h0m-6-2h0m15.5 0.5h0m1.5 1h0m-7-3h0m-26 2h0m23.5 2h0m-8.5 0h0m-10-1.5h0m27-3.5h0m-8.5 5h0m5-1.5h0m3.5-11h0m-28 8.5h0m-15.5 2.5h0m27.5-5.5h0m-2-7.5h0m1 14h0m-28.5-0.5h0m33.5 0.5h0m-30-0.5h0m33.5 0.5h0m-37.5 0.5h0m11.5-2.5h0m22 2h0m-4.5 0h0m-29.5-0.5h0m1.5 1h0m39.5-0.5h0m-20-4.5h0m-24.5 3.5h0m25.5-1.5h0m-24 3h0m44-3h0m-5 1h0m-4.5-3.5h0m-17 5h0m9.5-4h0m16.5 3h0m-33.5 0.5h0m12-17.5h0m2.5 18.5h0m14-2.5h0m-31 2.5h0m14-7h0m10.5 5.5h0m11-5.5h0m-23.5-5h0m13 9h0m-14.5 2.5h0m-2-0.5h0m15.5-1.5h0m-30.5-1h0m36 2.5h0m-7-4.5h0m7.5 4.5h0m-19-2.5h0m21.5 0h0m-18-0.5h0m1 2h0m11 1.5h0m-17.5-1h0m25.5 0h0m-31.5 1.5h0m-0.5-1.5h0m38 1h0m-0.5 0h0m-32.5-2h0m25-1.5h0m-26 0h0m2 3.5h0m7.5-10h0m-9 10h0m3.5 0.5h0m-1.5-4h0m-4.5 4h0m3.5-3h0m8 2.5h0m-1.5 0.5h0m-23 0h0m16.5-1.5h0m-4 1.5h0m24-4h0m1.5 0h0m-10 3.5h0m20.5-3.5h0m-12.5 3.5h0m-3 0h0m13.5-1.5h0m-10-1.5h0m-34 2.5h0m26-6.5h0m-18.5 6.5h0m38-3h0m-6-2.5h0m-44 6.5h0m19.5-0.5h0m-3.5 0.5h0m-2.5 0h0m15-7h0m2.5 7h0m16-4.5h0m-45.5 4h0m32.5 0.5h0m11.5 0h0m0-4.5h0m-16.5 1h0m-3.5 3h0m16 0h0m-6 0.5h0m12.5-8h0m-4.5 5.5h0m-28 2h0m2.5 0h0m27-3h0m7.5-2h0m-16.5 5.5h0m-13-2.5h0m-5.5 2h0m-7.5 0h0m41.5-3.5h0m-8.5 2.5h0m-20-0.5h0m2-1h0m0 2.5h0m-15 0.5h0m23-2h0m-5.5 1.5h0m12.5-2.5h0m-28.5-1.5h0m17 3h0m-6.5 0h0m12.5-22h0m-19.5 22h0m-4.5 1h0m41.5 0.5h0m-42.5-0.5h0m18.5 0.5h0m-8.5-1.5h0m-16.5 1.5h0m34-1h0m-19 1h0m-15 0h0m34-4h0m2.5 3h0m-27-0.5h0m-6 0.5h0m-1 1h0m31-2.5h0m-32.5 1h0m48-2h0m-39 1.5h0m-4 2h0m11-2h0m22 2h0m-5-2.5h0m9.5 0.5h0m-11.5-2h0m-13 2.5h0m25 1h0m-20-1.5h0m-6 2h0m15.5 0h0m-2.5-4.5h0m5.5 3.5h0m-10 0h0m13.5 0h0m6.5 0h0m-39.5 0h0m4 1h0m30-1h0m-10.5 0.5h0m-24-8.5h0m35.5 8.5h0m4-6.5h0m-32.5 2.5h0m8 3h0m10 1.5h0m-29 0h0m-5-6.5h0m14 5.5h0m21.5-2h0m-21 2.5h0m33 0h0m3.5-1.5h0m-32.5-3.5h0m32-31.5h0m0 30h0m-25 7h0m17.5-5h0m-4 1.5h0m-8.5 2h0m-22.5 1h0m6.5-0.5h0m14.5-2h0m-20 2h0m-2.5-3.5h0m46.5 2.5h0m-26 1h0m18 1h0m-6.5-2h0m-15-1h0m-17-7.5h0m15.5 8.5h0m31 0h0m-6-4h0m3-38.5h0m-39 40h0m18.5 3h0m20.5-0.5h0m-26 1h0m-9 1h0m3.5-2h0m23.5 2h0m-41.5-0.5h0m51.5 0h0m-27 0h0m2-0.5h0m15.5-0.5h0m-10 1.5h0m18-5h0m0.5 1h0m-16 1h0m-12 2h0m-21 0.5h0m12.5 0.5h0m13-2h0m-23.5 2h0m40.5-3h0m-10-1.5h0m-7 3.5h0m25.5-7.5h0m-1 5h0m-42.5-2h0m23.5 3h0m-18 1.5h0m20 1h0m-24-1h0m14.5 0h0m27.5-0.5h0m-22 1h0m-1-2h0m13.5-1h0m2.5 3h0m-40-0.5h0m12-4.5h0m1 4.5h0m4.5-1h0m16.5-10h0m-10.5 9.5h0m-28 1.5h0m38.5 0h0m-20.5-5.5h0m-16 6h0m16-3h0m13.5 2.5h0m5.5-1.5h0m-31.5-3.5h0m45.5 5h0m-17.5 0h0m15.5-0.5h0m-19.5 1h0m10 0.5h0m-9.5-1.5h0m1 0h0m2.5 1h0m-10.5-2h0m11 1.5h0m-26.5-2h0m23 2h0m-25-3.5h0m41 4.5h0m-13.5-5h0m11.5 4.5h0m-4.5-3.5h0m-35.5 3.5h0m-4-1.5h0m7-2h0m2.5 1.5h0m9 1.5h0m22-2.5h0m-9.5 3.5h0m-20-2.5h0m21.5 2h0m9 0.5h0m3.5 0h0m-25-2h0m-9-0.5h0m-11.5 1.5h0m22.5 1h0m-2.5-3h0m-15 0.5h0m22-2h0m17.5 3.5h0m7-3.5h0m-8.5 1.5h0m-3.5 2.5h0m-32.5-3h0m5.5 2.5h0m30.5-1h0m-30.5 1.5h0m-15.5-2h0m18 1h0m10.5 1.5h0m-4-0.5h0m20-1.5h0m-20.5-1h0m-11 0h0m20 1h0m-2 2h0m-6-0.5h0m-15-1h0m-6.5 1h0m38.5 0.5h0m-4.5-27.5h0m-24 27.5h0m21.5-4.5h0m-19.5 3.5h0m-9.5-2.5h0m10.5-2h0m2 4.5h0m-4-3.5h0m39.5 3h0m-7.5 0.5h0m-31.5 0h0m39.5-2.5h0m-19.5-7.5h0m-10.5 10h0m-6.5 0.5h0m3.5 0.5h0m23-0.5h0m-5-5h0m0 4h0m3.5-7.5h0m-29.5 5.5h0m-5.5 3.5h0m42-14.5h0m-21 11h0m-4 3h0m20.5 0.5h0m-20.5-11h0m4.5 11h0m9-1h0m-5.5-6h0m20.5 2.5h0m-2 3h0m-42.5-4.5h0m15 4h0m-9 0.5h0m-6.5 1h0m-6-0.5h0m19.5 0h0m-10-2.5h0m35-7.5h0m-44 8.5h0m3.5 0h0m37 2.5h0m-6-2.5h0m1.5 1.5h0m-3-1h0m16.5 0.5h0m-5-9h0m2.5 8h0m-44.5 2.5h0m8 0h0m5-8h0m-6.5-8.5h0m16 16h0m-8.5-1.5h0m25-1h0m-31 3h0m36.5 0h0m-19-7h0m-16.5 7h0m-11 0h0m40.5 0h0m-19 0h0m-4-1.5h0m-16-1h0m19.5 2h0m17.5 0.5h0m-19.5-2h0m10 1.5h0m21.5-4h0m-36 2.5h0m-4.5 1.5h0m38 0h0m-40 0h0m42.5-8.5h0m-51.5 7.5h0m41-2.5h0m-27.5 2.5h0m2-2.5h0m15.5-4h0m9 8h0m-15.5 0h0m10.5-1.5h0m-18 1h0m8 0h0m7.5 0h0m-32.5-1.5h0m1 0h0m37.5 0.5h0m5-8.5h0m-14.5 5.5h0m13 4h0m-14.5-5h0m10.5 3.5h0m-33 0.5h0m47-0.5h0m-11-3.5h0m2.5 4.5h0m6-2.5h0m-31.5 3h0m2.5-4h0m-2.5 3h0m-17 0.5h0m20.5 1h0m16-2.5h0m-8 0.5h0m4-0.5h0m-17.5 2.5h0m23-6h0m-18.5 6h0m6-3.5h0m-19 2h0m-9 0h0m42.5 0.5h0m-20-5.5h0m2.5 4.5h0m23-15.5h0m-31.5 17.5h0m16.5 0h0m-9.5-3h0m23.5 2h0m-0.5-3h0m-7.5 4h0m-11-1.5h0m6 1h0m-8.5-3h0m16.5 1.5h0m-22 1.5h0m-3.5-4h0m29-7h0m-46 11.5h0m10 0h0m38.5-26.5h0m-7 20.5h0m9 4.5h0m-13.5 0h0m3.5-2h0m-39.5 2.5h0m12-3h0m2 4h0m-2.5 0h0m24-8h0m0.5 6.5h0m-10.5-5h0m11.5-0.5h0m-7 3.5h0m6 3.5h0m13-1.5h0m-43 1h0m40.5-3.5h0m-8.5 4h0m7.5-3h0m-30 3h0m-12-1h0m12.5 0h0m25-1h0m-23.5-0.5h0m-7.5 2h0m5 0.5h0m-7-2h0m1.5 0h0m10 1h0m21.5-21h0m-27 18.5h0m11-3h0m-2.5 5h0m15.5-8h0m3.5 5.5h0m8 3h0m-13.5 1h0m-24.5-0.5h0m8-6h0m-16 6.5h0m19-2h0m23.5 0.5h0m-0.5-1h0m-9 0h0m-7-1.5h0m9.5 3.5h0m2-0.5h0m-9.5-3h0m-5.5 2.5h0m-11-0.5h0m10-2.5h0m16.5 3h0m-14 0h0m0 0h0m23.5 0h0m-6 0h0m-7.5 0.5h0m-5 0.5h0m9 0h0m-9-0.5h0m4.5-6h0m-17 5.5h0m18.5-2.5h0m9.5-0.5h0m-33 2.5h0m7 1.5h0m6.5-1h0m-9-2.5h0m9 4h0m-20-3h0m-5 2h0m26.5 0h0m-27.5-0.5h0m47.5 0.5h0m0.5 0h0m-24.5-3.5h0m17 4.5h0m-40-11.5h0m36 10h0m1.5 0.5h0m9-0.5h0m-13.5 0h0m-10-4.5h0m-24 6h0m40-5h0m-18.5 5h0m13-17.5h0m-10 16h0m11-2h0m-17 1.5h0m19 0.5h0m-26 0.5h0m25.5-3.5h0m3.5 4.5h0m-18.5-0.5h0m13-1h0m-1-4.5h0m-8.5 4h0m3.5 1.5h0m6.5 0.5h0m-5.5 0h0m-31-2.5h0m33.5-3h0m7.5 3.5h0m-24.5-1h0m22.5 0.5h0m-3 1.5h0m-20-1h0m6-0.5h0m-0.5 2h0m8.5-0.5h0m-9 1h0m17.5-2h0m-3.5-5h0m-10.5 4.5h0m0 0h0m2.5 0.5h0m23 0h0m-2.5-0.5h0m-11 2.5h0m6.5-1.5h0m-17-0.5h0m9 2h0m-21.5-6.5h0m29.5 6h0m-42.5 0h0m12.5-3.5h0m-3.5 4h0m29.5-10h0m-24.5 6h0m4-21.5h0m33.5 23h0m-43.5 2.5h0m21-4h0m3.5 4h0m16-3.5h0m-5-9.5h0m-9 12h0m5-4h0m3 4h0m-7 1h0m7.5-7.5h0m0.5 6h0m-21-17.5h0m14.5 13.5h0m-3.5-2h0m10-5h0m2.5 12h0m-47.5-7h0m19.5-21h0m-10 27.5h0m15 0.5h0m26-4h0m1-7.5h0m-4.5-5.5h0m-16 17.5h0m21.5-3.5h0m-20.5 2.5h0m-15 0.5h0m33.5 0h0m-47 0h0m36-0.5h0m0-16.5h0m-2 17.5h0m-0.5-4.5h0m13.5 1h0m-4 3.5h0m-45-2h0m35.5 2h0m11-1.5h0m2-1h0m-26-4h0m2 6.5h0m-27 0h0m38 0h0m5.5-1h0m-12 0h0m-26 0.5h0m38.5-3.5h0m8-9.5h0m-35.5 13.5h0m16-3.5h0m-16-1h0m14 3h0m8.5-1.5h0m-7 0.5h0m-5.5 2h0m4.5-1.5h0m21.5 1h0m-19 0.5h0m17-2h0m1.5-17.5h0m-3.5 17.5h0m-38.5 1.5h0m35 1h0m0-0.5h0m-38.5-1h0m33 0h0m-16.5-1h0m17 2.5h0m-12-2h0m0 2h0m-3.5-0.5h0m22.5 0.5h0m-25.5-0.5h0m-13.5-6h0m23 5.5h0m21.5-1h0m-6-9.5h0m-31 9.5h0m4.5 1.5h0m27-1.5h0m-14 1.5h0m-5-2h0m-24.5 1h0m25.5-0.5h0m15-1h0m9-12.5h0m-54 15.5h0m51-3.5h0m-21-1.5h0m-17.5 4h0m-6.5 0h0m18 0.5h0m-18 0h0m31-1.5h0m-14 2h0m-14.5 0h0m15.5-11.5h0m26 10.5h0m-5 0.5h0m-2-9.5h0m-22 10h0m26.5-7.5h0m-19-2h0m-10 1h0m21 6h0m-11 2h0m16 0.5h0m4.5 0h0m-4.5-0.5h0m-42.5 0h0m52-0.5h0m-42.5-1h0m16 0h0m-18-16h0m-16.5 18h0m31.5-4.5h0m24 3h0m-30.5 0.5h0m17-0.5h0m5 0h0m13.5-3h0m-51 3.5h0m51.5 0.5h0m-25-29h0m24 27.5h0m-2 0h0m0 0h0m-10.5-7h0m1.5 8.5h0m-7 0.5h0m-27.5-12h0m5.5 12h0m30.5-4.5h0m-8.5-1h0m-3 5.5h0m-1.5-3h0m-15 0h0m26 3h0m-8-16h0m12 14h0m4-1.5h0m0-10h0m-6 13.5h0m-19-3h0m-12.5 3h0m-4-2h0m41-0.5h0m-27.5-1.5h0m28.5 3.5h0m-33-8h0m31 8h0m-15-3.5h0m9-8.5h0m-22 12.5h0m8.5-1h0m3.5 0h0m3.5 0.5h0m13 0.5h0m2-2h0m-36.5 2h0m7.5-0.5h0m2.5-3.5h0m16.5 3.5h0m-28-0.5h0m1-0.5h0m13.5-0.5h0m-10-0.5h0m27-3.5h0m-41 6h0m3.5 0h0m9-1.5h0m38.5-9.5h0m-19.5 9.5h0m-6.5-1h0m-4 0h0m28.5-2h0m-17.5 0.5h0m-6.5 4h0m6-1.5h0m6.5 0.5h0m0.5-2h0m-20.5 2.5h0m14.5-10.5h0m10 11h0m4.5-4.5h0m-17 2.5h0m20-0.5h0m-9.5 1.5h0m2 0.5h0m-38.5 0.5h0m30.5 0h0m-7.5-2.5h0m22.5 1h0m-30-20.5h0m-19.5 22h0m19-7.5h0m-6 7h0m5.5 0h0m-3 0.5h0m18-4h0m12.5 1.5h0m-8 0h0m-13.5 2.5h0m-7.5-2h0m-1-12h0m31 10.5h0m-11.5 2.5h0m-28.5-5h0m38-4h0m-20 3h0m0.5 7h0m24.5-5.5h0m-26 3.5h0m-4.5-2.5h0m-10 4h0m13.5-0.5h0m25-0.5h0m-6 1.5h0m-9-3h0m-34 2.5h0m28.5-0.5h0m-16-2h0m-4.5 2.5h0m-5-0.5h0m22.5 1h0m-2-0.5h0m27.5 0h0m-49 0h0m26 0.5h0m-18.5-8h0m25.5 5.5h0m0 0.5h0m8 1h0m8-1.5h0m-50 1.5h0m23.5 0.5h0m5.5-1.5h0m-1.5 0.5h0m18.5 1.5h0m3-0.5h0m-25 0h0m-10 0h0m3.5-1h0m12 1.5h0m17.5-3h0m-1 0.5h0m-12.5 2h0m18.5 0h0m-52-0.5h0m6.5-0.5h0m18-1h0m5.5-1h0m-1 3h0m-3-0.5h0m-1.5-1h0m19 1.5h0m3-1.5h0m-2.5 2h0m-16.5-4.5h0m23-21h0m-30.5 19.5h0m28.5 3.5h0m-60 2h0m31.5-0.5h0m-24 1h0m54-8h0m-2 6.5h0m1.5 0h0m-9 1.5h0m11 0h0m-25.5-4h0m-21.5-0.5h0m6.5 4.5h0m27-1h0m-17.5-5h0m3.5 5.5h0m4-2.5h0m8.5 3h0m-2-8.5h0m16 6h0m1 2h0m-15-0.5h0m-28-4h0m23-6.5h0m6.5 8.5h0m-5 3h0m-36.5-2h0m14.5-4.5h0m16.5 6h0m-9.5-4.5h0m-11 4h0m4.5-3h0m38-4.5h0m-12 7h0m-25-3h0m0.5 4.5h0m30.5-0.5h0m-42 0.5h0m48-2.5h0m-24.5-2h0m9.5 1.5h0m9 1h0m-40.5-1.5h0m10.5-2.5h0m37 0.5h0m-8 5h0m-9-0.5h0m-21 1h0m-1-2h0m17-1h0m23.5 0.5h0m-18.5-2h0m-30.5 4.5h0m21.5-20.5h0m5.5 18h0m-31-4.5h0m35.5 3h0m14-2.5h0m0.5 4h0m-27.5 2.5h0m24.5-1.5h0m-36.5-2.5h0m5.5 3h0m27.5-4h0m-34 5h0m16-0.5h0m26.5-15.5h0m-43.5 10.5h0m43.5 0.5h0m-2.5 5h0m-27.5 0h0m30-3.5h0m-6 2.5h0m4.5-1h0m-51.5 0.5h0m50.5-2.5h0m-33.5 3.5h0m14.5 0.5h0m-2-5.5h0m22.5 3.5h0m-25-0.5h0m19.5 0h0m-5 2h0m-8.5-1.5h0m-18.5 1h0m6.5 0.5h0m29-1h0m-27 1h0m-17.5-1.5h0m28-0.5h0m11 1h0m1-2h0m2 3h0m-30-0.5h0m5.5 0h0m23-0.5h0m-5-11.5h0m-29.5 13h0m31.5-1.5h0m-21 1.5h0m6-2.5h0m1.5-1h0m-17 2.5h0m17 0h0m-23 0h0m19-2h0m10 0h0m-31-0.5h0m44 3h0m-29-20h0m16 18.5h0m-1.5-30h0m12.5 31.5h0m-31.5-0.5h0m26.5-8.5h0m-5 7h0m9 1.5h0m-5.5-0.5h0m-8 0.5h0m12.5-2h0m-25 2.5h0m27.5-13h0m5 11.5h0m-31.5 1.5h0m19.5-3h0m-16.5 1h0m-36.5 1.5h0m61.5 1h0m-18-0.5h0m1 0h0m-13-3.5h0m6-17.5h0m4.5 21h0m-6-1h0m22.5-7h0m-28.5 8h0m9-13h0m23 12h0m-10 0.5h0m-31-1h0m41.5-0.5h0m-36 0h0m34.5-4.5h0m-33.5 7h0m-4.5-0.5h0m7.5 0.5h0m-31-0.5h0m61.5-2.5h0m-33 2.5h0m22-1.5h0m-16.5-2h0m2.5 1h0m-15.5 3h0m25.5-1.5h0m13-8.5h0m-5 6.5h0m-1.5-0.5h0m-22.5 3.5h0m25-2.5h0m-40 1h0m46-2.5h0m-9.5-13h0m-9 16.5h0m23 0h0m-7 0.5h0m-6.5-4.5h0m-14.5 5h0m24.5-1.5h0m-47 1h0m18.5-3h0m23-0.5h0m-28-0.5h0m34.5 3.5h0m-48-1.5h0m26.5 2h0m3.5-1.5h0m-13.5-0.5h0m24.5 1.5h0m-29.5-1.5h0m32.5 2.5h0m-34.5-1.5h0m26.5 1.5h0m-3.5-0.5h0m4.5-3h0m-1.5 1.5h0m-2.5-3.5h0m-11.5 5h0m29-1h0m-51-0.5h0m43.5 2h0m9 0h0m-16-6h0m-33 3h0m9 3h0m17 0h0m-9-1h0m9 1h0m5-0.5h0m-23.5-2.5h0m39 2.5h0m-4-1.5h0m3-2h0m-34 3.5h0m23-2.5h0m11.5 1.5h0m-2.5 1.5h0m-19-3h0m1.5 3h0m-22-1h0m41-3h0m-43 3.5h0m41.5 0.5h0m-3-6.5h0m-14.5 4h0m9 1h0m-19 0.5h0m4 1h0m21 0h0m-3.5-0.5h0m10.5-7.5h0m-24 8h0m24.5-0.5h0m-3 0h0m-22 0.5h0m22-4.5h0m-25 4.5h0m17.5-1h0m-19 1h0m-8.5-0.5h0m-4 0.5h0m0-0.5h0m12-2.5h0m30.5 1.5h0m-6.5 1.5h0m2-0.5h0m-9.5 0.5h0m-29.5-0.5h0m21-6h0m4.5 5.5h0m-14-0.5h0m29 1h0m-14.5 0.5h0m-15-3.5h0m-19 0h0m46.5-1.5h0m-31.5 2h0m20-9.5h0m8 10.5h0m-17 2h0m9.5 0h0m15-1.5h0m-5 0.5h0m-21.5 0h0m-12.5 0h0m9-0.5h0m24-1.5h0m-16.5 0.5h0m0 0.5h0m-11 2h0m-4-7h0m33.5 6h0m-17-5.5h0m2.5 6h0m-22.5-1h0m39.5 0h0m-37-2h0m30.5 1h0m-3.5-2h0m-41.5 0h0m22 4h0m-2.5-2h0m-8 2.5h0m2.5-9h0m-8 6.5h0m40.5-1.5h0m-7.5 3h0m10-0.5h0m0.5 1.5h0m-32-6h0m17 5h0m1.5 0.5h0m4 0h0m-31 0.5h0m30.5-1h0m-24-3.5h0m23.5 3.5h0m-7.5 1h0m21.5-2.5h0m-34 2h0m16.5-0.5h0m5.5-3h0m-38 3.5h0m14.5-0.5h0m14-6h0m18 4.5h0m-25 2.5h0m24.5-0.5h0m1-9h0m-8.5 7h0m4.5 2.5h0m-39-11h0m28.5 10.5h0m11-3h0m-10 1h0m-12.5 0.5h0m13.5-1.5h0m-25 1.5h0m-3-0.5h0m-2.5 1.5h0m30-4h0m-13.5-6.5h0m27.5 9h0m-20.5 2.5h0m4-2.5h0m-16-0.5h0m8 0h0m-5 2h0m-21.5 0.5h0m15-5h0m32 5h0m-22-21h0m21.5 20h0m-7.5-0.5h0m-2 2h0m-20-0.5h0m12-2h0m-22.5-1h0m19 3.5h0m28.5-0.5h0m-2-9.5h0m-39.5 9h0m31 0h0m1 0h0m-17.5 0.5h0m-17.5-2.5h0m30 3h0m-5.5-11h0m5.5 10h0m-16-3h0m7.5 4h0m-14-0.5h0m10.5 0h0m9.5-0.5h0m14-1.5h0m-36 2.5h0m2.5-1h0m9.5-0.5h0m0 0h0m20-1.5h0m-35 2h0m32.5-0.5h0m-4.5-2.5h0m-14.5 1.5h0m8 0h0m17.5-2h0m-32.5-6h0m0 10h0m-6.5 0.5h0m9.5-9h0m7 9h0m-27.5-1h0m5 0h0m31-1.5h0m-18.5 2.5h0m22.5-0.5h0m4-8.5h0m-43 9h0m46.5-3h0m-0.5 2.5h0m4-0.5h0m-11.5-3h0m-20.5 1.5h0m-14 1h0m-7.5 1.5h0m45.5-4h0m-18.5 2.5h0m7-0.5h0m-15.5-5h0m26 3.5h0m-26 2.5h0m18-12.5h0m-2.5 13h0m5.5 0.5h0m-29.5 0h0m41-0.5h0m-33.5 0h0m-8.5-2h0m4 0h0m20 1h0m-25.5-1h0m43 1h0m-15-2h0m-31.5 0h0m38.5 1h0m-2.5 2.5h0m-12-2h0m26 1.5h0m-26-0.5h0m23.5 0h0m-41-1h0m-10 0.5h0m53-3.5h0m-43 4.5h0m15.5-1.5h0m1.5-4.5h0m-22.5 5.5h0m46-0.5h0m-10.5-2h0m5.5 3.5h0m-4-6.5h0m-0.5 4.5h0m-15 2h0m-25 0h0m18.5-3h0m35.5 2.5h0m-28.5 0h0m-3 0h0m-0.5 0h0m2.5-1.5h0m-4 2h0m-4 0h0m-9-1.5h0m15-1.5h0m29.5 3h0m-42.5-1h0m5 1h0m27.5-3.5h0m-6.5-9h0m-5.5 12.5h0m15-5.5h0m-6.5 4.5h0m-34.5 0.5h0m20-7.5h0m28 4.5h0m-21.5-5.5h0m-11.5 9h0m-20.5-1.5h0m40-12.5h0m13.5 13.5h0m-24.5-0.5h0m-24-6.5h0m20.5 6.5h0m-12.5-2.5h0m-1 3.5h0m11.5-3h0m-9-1.5h0m6 3.5h0m5.5-6h0m-15 6.5h0m21.5-0.5h0m1.5-2.5h0m5.5 3h0m14-2.5h0m-24.5 0.5h0m1 2.5h0m6-0.5h0m-27 0h0m22.5 0.5h0m21.5 0h0m-24-2h0m3 2h0m-28-1.5h0m22-2h0m24 3h0m-10.5-4.5h0m-22 4.5h0m29.5-5.5h0m-2.5-10h0m9 15.5h0m-33.5-1h0m11.5 1h0m-23.5-2h0m-7-8.5h0m45 10h0m-41-7h0m32.5 7.5h0m-20.5-1h0m19 1h0m-7.5-1h0m24-0.5h0m-46-2.5h0m13.5 3.5h0m24.5-2.5h0m-19 3.5h0m24-10.5h0m-13.5 10.5h0m-14-3.5h0m15 0.5h0m2 1.5h0m-21 1h0m19.5 0h0m11-2h0m0.5-5.5h0m5.5 4.5h0m-8.5-9.5h0m-30 7h0m31 4h0m-23 2h0m-2-2.5h0m30 2.5h0m-12.5-2h0m-25.5 0h0m-10.5-9h0m16 9.5h0m1-2.5h0m5 3.5h0m5-7h0m-5.5 6h0m8.5 0.5h0m-0.5-1h0m14.5 1.5h0m-35 0h0m14.5-1.5h0m13 1h0m-8.5-2h0m-26 3h0m40-1h0m-27 1h0m-5-0.5h0m39-1h0m-45.5 1h0m24.5 0.5h0m6.5-2h0m-9-2h0m-10 3h0m-17 0h0m34-0.5h0m6.5-1h0m-4.5 2h0m-6-1.5h0m-27.5 0h0m39.5 1h0m-19.5 1h0m30-2h0m-51 0h0m32.5 1h0m15.5-2.5h0m-27 3h0m3.5-5h0m-8.5 3h0m12.5 0h0m-12.5-3h0m30.5 5h0m2 0h0m-19.5 0h0m0.5-1h0m16.5-4.5h0m-1.5 4.5h0m-42 0.5h0m0.5 0.5h0m44.5 0h0m-16.5 0h0m-21-0.5h0m29.5 1h0m6.5-0.5h0m1.5 0h0m-49-2h0m21-5h0m29.5 4h0m-31-2h0m6.5-3h0m5.5 8h0m-16 0h0m9-0.5h0m-17-9h0m41 7.5h0m-40.5 2h0m14.5-1.5h0m-19 1h0m16 1h0m22.5 0h0m-6-5.5h0m8-2h0m-21.5 7h0m10-6.5h0m8.5 5.5h0m0.5 1.5h0m-6-7.5h0m-12.5 5.5h0m11.5-0.5h0m-5.5 2.5h0m-8 0h0m19-2h0m-20 2h0m11.5-0.5h0m20-6h0m-41 6.5h0m18-1.5h0m17-0.5h0m-7-1.5h0m-29.5 3h0m33.5-1h0m2-1h0m-5.5 1h0m-32.5 0.5h0m17.5-1h0m23.5-5h0m-39.5 5.5h0m1.5-2h0m6.5 3.5h0m25.5-2h0m-39 0.5h0m-1 1.5h0m12.5-2h0m-14 0.5h0m49 1h0m-33 0.5h0m4 0h0m10.5-3.5h0m14-1.5h0m-27.5 5h0m3.5-1.5h0m25 1.5h0m-22.5 0h0m6.5-0.5h0m7-20h0m14.5 1h0m-59 18.5h0m30 0h0m1-1h0m-19 1h0m40.5-0.5h0m-7 1.5h0m-45.5 0h0m26.5-6h0m28 5.5h0m5.5-10h0m-52.5 10.5h0m22 0h0m12.5-1.5h0m-19 0.5h0m31.5-0.5h0m-3 1h0m-35.5-0.5h0m23-1h0m3.5-1.5h0m-3 3.5h0m-11.5-25.5h0m25 24.5h0m-10-2h0m-0.5-1h0m3.5 3.5h0m3-12.5h0m-6.5 3.5h0m-15.5 7.5h0m29-3.5h0m-46.5 5.5h0m20-4h0m28-1.5h0m-25-0.5h0m13 6h0m-1-3h0m-21.5 3h0m20-2.5h0m-23.5-2.5h0m22.5-0.5h0m-13.5 5h0m27 0.5h0m-38 0h0m38.5-6.5h0m3 5h0m-50.5 1.5h0m28.5 0h0m7.5-2h0m0.5 1.5h0m6-1.5h0m-17.5-0.5h0m20 2h0m6 0h0m-0.5-10h0m-26.5 9h0m17.5 1h0m-9.5-0.5h0m-2-0.5h0m6.5 0h0m-5.5-1h0m-6 2.5h0m6-0.5h0m5.5-1.5h0m-1.5-3.5h0m-35 5.5h0m37.5-7.5h0m0.5 7h0m-15.5-1h0m21.5 0.5h0m-38.5 0.5h0m6.5 0h0m-11-3h0m26.5 2h0m3.5 1h0m-27-2h0m44 2.5h0m1 0h0m0-3h0m-1 2h0m-32 0h0m13 0h0m10 0h0m-30.5 0h0m16.5 1h0m6-0.5h0m16.5-2.5h0m-46.5-5.5h0m44 8h0m-11 0h0m-14-9h0m31.5 9.5h0m-47 0h0m43-3h0m-1.5 0h0m-16 0.5h0m15 0h0m7-12h0m-2 13.5h0m-31.5 0.5h0m14-0.5h0m-25.5 0h0m29.5-3.5h0m-39.5-0.5h0m6 0h0m22.5 5h0m25.5-1h0m-29.5-0.5h0m22-4h0m-11 4.5h0m2.5-1.5h0m-28 1.5h0m37 0.5h0m-28 0.5h0m6.5-8.5h0m0 2.5h0m-13 5.5h0m-23 0.5h0m38 0h0m-19-4h0m37 2.5h0m-20 0.5h0m16.5-13h0m-5 14h0m-9.5 0h0m-18.5-2h0m9 2h0m8.5-1.5h0m9 1.5h0m-6.5-1.5h0m-4.5-0.5h0m7 1.5h0m1-1h0m-30.5-1.5h0m48 3h0m-36-4.5h0m5.5 4h0m16.5-3h0m6.5 2.5h0m-16.5-19h0m-20 17.5h0m11-5h0m12 6.5h0m16.5-3h0m7 4h0m-6.5-1h0m-8.5-0.5h0m-8.5-2.5h0m-17.5 3h0m18.5-4.5h0m-4 2.5h0m0.5-1.5h0m9-3h0m-2 6.5h0m19.5-4h0m-31-2.5h0m14 2.5h0m6.5 3h0m-15-3.5h0m12 1.5h0m-4-3.5h0m-8 7h0m2-0.5h0m-7.5-4h0m25 5h0m-18.5 0h0m8-1.5h0m-22-0.5h0m7 1.5h0m-8 0.5h0m2.5-27.5h0m21.5 7.5h0m-6.5 18.5h0m-7 1h0m16.5-3.5h0m-6 2.5h0m21 1.5h0m-14.5-2h0m-37 2h0m35.5-1.5h0m-17.5-11h0m-13.5 12h0m20.5-1h0m-19.5 0.5h0m17.5 1h0m22.5-4.5h0m-5.5 2h0m-6-1h0m-2.5 3h0m16-3h0m-2 2h0m-39-0.5h0m13-2h0m12.5 2h0m18 0h0m-46.5 2h0m26.5-2.5h0m-14.5 1h0m-29.5 1h0m40.5-2.5h0m9-10.5h0m-10.5 8h0m4.5 5.5h0m19.5-2.5h0m2-4h0m-28 4h0m8.5 2.5h0m11-11.5h0m8.5 9.5h0m-1-13.5h0m-61.5 14h0m28 0.5h0m-3-0.5h0m27 1h0m-8.5 0h0m9.5-5.5h0m-23.5 3.5h0m15 1.5h0m16.5-3.5h0m-16 4h0m-19.5 0.5h0m13.5-1.5h0m12.5 1.5h0m-38.5-0.5h0m50-1.5h0m-12.5-1h0m-26.5 0.5h0m27.5-0.5h0m-38.5 1.5h0m21.5-2.5h0m-15 4h0m38 0h0m-17.5-0.5h0m-11-7h0m-15 7.5h0m30-7.5h0m10.5 6.5h0m-5-1h0m-7 1.5h0m-33-0.5h0m43.5-0.5h0m3.5 1.5h0m-39.5-3.5h0m19 3h0m-1.5 0h0m-17.5 0.5h0m44 0h0m-37-12.5h0m35 12.5h0m-7-7h0m-12.5 7h0m21.5-0.5h0m-29-4h0m28 2h0m1.5 2h0m-21-0.5h0m18.5-2h0m2 1h0m-44.5 1.5h0m10 0h0m15-5h0m6 4h0m-20 0.5h0m18.5 0.5h0m17-0.5h0m-10-0.5h0m2.5 0.5h0m-30-1h0m19.5 2h0m-23-1.5h0m41.5 1h0m-4 0.5h0m-48.5-0.5h0m44.5-1h0m-13.5 0.5h0m-25-4.5h0m38.5 3.5h0m6.5 1h0m-1-2h0m-29.5 3h0m-23-0.5h0m8.5 0h0m18.5 0.5h0m-13.5 0h0m-4.5-1.5h0m24.5-2.5h0m-8-1.5h0m-19 5.5h0m38.5-2h0m-31 0h0m8.5 0h0m29.5 2h0m-14 0h0m10-0.5h0m-24 0h0m-3.5 0h0m15-6.5h0m-9.5 3h0m10 3h0m-2.5 0h0m-29.5 0.5h0m48-1h0m-7 0.5h0m-39 1h0m-2-0.5h0m24.5-9.5h0m-5.5 10h0m-10-5h0m-1 1.5h0m18 3h0m2-8h0m13 7.5h0m-4.5 1h0m-33.5-2h0m17-4.5h0m3.5 6h0m2.5-3h0m22.5 1h0m-12 1h0m11-14.5h0m-36 14.5h0m36 1h0m-7.5-1.5h0m-18-3h0m-10.5 2.5h0m24.5 1.5h0m-9.5-8.5h0m0 9.5h0m-25.5-4h0m21.5 0.5h0m1 3.5h0m2 0h0m-11-1h0m-11.5 1h0m6.5-0.5h0m27.5-1.5h0m4 1.5h0m10-26h0m-36 25h0m22 1h0m-34.5-1h0m42-10h0m-11 8.5h0m-33 2.5h0m13-5h0m-8 4.5h0m14-1h0m19.5 1.5h0m-12.5-1.5h0m4-3.5h0m-5.5 3.5h0m16 1h0m-10 1h0m12-1.5h0m-2 1h0m-28-2h0m14-1.5h0m-28 0.5h0m10.5 2h0m35.5-3h0m-7.5-2h0m-25-4.5h0m18 10.5h0m-1-12.5h0m-23.5 13h0m20-2h0m21.5-1h0m-31 2.5h0m-3.5-15.5h0m36.5 9h0m-48 4h0m33.5-5.5h0m13.5 6h0m-48 1.5h0m13.5 1h0m25.5 0h0m9.5-4.5h0m-10 1h0m-1.5-1.5h0m-10 4.5h0m6.5-0.5h0m11-3.5h0m-18.5 4h0m19 0h0m-14.5 0.5h0m9.5-2h0m-14-5h0m-1.5 6.5h0m1.5-0.5h0m20-0.5h0m-35.5-4h0m16.5-9h0m0.5 13.5h0m-11.5 0h0m27.5-1.5h0m-44.5-21h0m9 23.5h0m36.5 0h0m-13.5-7h0m-16.5 0.5h0m14.5 6h0m7-3h0m-12.5-3.5h0m-11 6h0m37 0.5h0m-35.5 0.5h0m31 0h0m-0.5-1h0m3.5-1h0m-12.5-8.5h0m14 6.5h0m-17.5-3h0m2.5-29h0m-20.5 34h0m21.5-2h0m9 3h0m-18.5 1h0m6.5-3h0m1 2h0m-35.5 1h0m14-1h0m37-4.5h0m-10 4h0m5-7.5h0m-9.5 8h0m-13 0.5h0m-7-1.5h0m18-15.5h0m2 4.5h0m7 12.5h0m-15.5-0.5h0m18.5 0.5h0m-3 0.5h0m-10-0.5h0m-3-3h0m-6 3.5h0m-14-12.5h0m1 10h0m23.5 1h0m5 1h0m-3-1h0m-19.5-1.5h0m-3 1.5h0m13-7.5h0m16 6.5h0m-7.5-2h0m-16 2h0m5.5-1h0m-18 2h0m24.5-2h0m-1.5 3.5h0m4.5-0.5h0m-8.5-7h0m-30 6.5h0m34.5-4.5h0m-0.5 2.5h0m5.5 3h0m7-1h0m-26 1h0m16-2.5h0m5 0h0m-21 2.5h0m-3.5 0h0m29.5-4.5h0m-23.5 4h0m22.5 0.5h0m-44 0h0m11 0h0m24-0.5h0m3 0.5h0m-8.5 0h0m8.5-0.5h0m-50.5-1h0m61.5 1h0m-21.5-5h0m-18.5 2h0m24 2h0m21.5-0.5h0m-34.5 1.5h0m17.5-1h0m16.5 0.5h0m-37.5-4h0m35.5 5h0m-39-4h0m29.5 1h0m-0.5 0.5h0m-5.5 2.5h0m11-3h0m-48 1.5h0m29 0h0m6.5 0h0m6 0h0m-24.5 0h0m8.5 1.5h0m25.5-6h0m-11-2.5h0m-20.5 8h0m-28.5 0.5h0m28-0.5h0m-8 0.5h0m-20.5-69h0m14 9h0m43.5 2.5h0m2.5 0.5h0m-52 15h0m4 4.5h0m23-8h0m2 3h0m11.5 15h0m2-1.5h0m1 2.5h0m8.5-13h0m-32.5-0.5h0m3.5-0.5h0m13.5 2h0m17.5 1h0m-44 3h0m31.5 6h0m3-12h0m2 4h0" stroke="#2641fb" stroke-width="1.6" stroke-linecap="square" fill="none"/><path d="M389.5 148.9h1.2" stroke="#444" stroke-width="0.8"/><text x="387.1" y="151.9" font-size="7.6" text-anchor="end" fill="#000">0</text><path d="M389.5 128.5h1.2" stroke="#444" stroke-width="0.8"/><text x="387.1" y="131.5" font-size="7.6" text-anchor="end" fill="#000">0.05</text><path d="M389.5 108.1h1.2" stroke="#444" stroke-width="0.8"/><text x="387.1" y="111.1" font-size="7.6" text-anchor="end" fill="#000">0.10</text><path d="M389.5 87.7h1.2" stroke="#444" stroke-width="0.8"/><text x="387.1" y="90.7" font-size="7.6" text-anchor="end" fill="#000">0.15</text><path d="M389.5 67.3h1.2" stroke="#444" stroke-width="0.8"/><text x="387.1" y="70.3" font-size="7.6" text-anchor="end" fill="#000">0.20</text><text x="390.5" y="157.9" font-size="7.6" text-anchor="end" fill="#000">−1</text><text x="427.9" y="157.9" font-size="7.6" text-anchor="middle" fill="#000">0</text><text x="466.3" y="157.9" font-size="7.6" text-anchor="middle" fill="#000">1</text><text x="429.7" y="61.4" font-size="7.6" text-anchor="middle" fill="#000">Spearman:0.065</text><text x="427.9" y="167" font-size="7.6" text-anchor="middle" fill="#000">Human−frog Pearson <tspan font-style="italic">r</tspan></text><text transform="translate(366.2,108.1) rotate(-90)" font-size="7.6" text-anchor="middle" fill="#000">Proportion of frog bases conserved</text><path d="M503.6 149H581.2" stroke="#7a7a7a" stroke-width="1.7" fill="none"/><path d="M503.6 67.3V149.5" stroke="#4d4d4d" stroke-width="1" fill="none"/><path d="M560.5 148.5h0m-3.5-15h0m3.5 15h0m-24 0h0m29-10.5h0m-32.5 7.5h0m-8 0h0m51.5 3h0m-10.5-1h0m-2-4h0m-51.5 4h0m31-5h0m32 5h0m-40 1h0m38.5 0h0m-53.5 0h0m43.5-0.5h0m-3-0.5h0m1-8h0m-21 8.5h0m4-0.5h0m21 1h0m-4-5h0m-45 4.5h0m28.5 0.5h0m-22-2h0m51 1.5h0m-15 0.5h0m-8.5-3h0m14.5-1h0m-13 1.5h0m1-3h0m16.5 5h0m-4.5-1h0m-7-1h0m-20.5 2.5h0m17.5-2h0m-10 2h0m-6-0.5h0m-1.5-0.5h0m38.5-1.5h0m-4.5-0.5h0m-28 2.5h0m13-0.5h0m-30.5 0.5h0m25.5-5h0m-9.5 2.5h0m-8 1h0m14.5 2h0m20-1h0m-10.5 1h0m9.5 0h0m9 0h0m-30.5-12h0m-24 10.5h0m39.5 0.5h0m-45.5 0.5h0m18-7h0m5.5 6h0m21.5 0.5h0m-8.5-8h0m22 9h0m-16-2.5h0m4.5-3h0m-28-3.5h0m5 2.5h0m13.5 6.5h0m4-3h0m-37.5 3h0m59 0h0m-31-5h0m-21.5 3.5h0m8 1h0m44.5 0.5h0m-23.5-17.5h0m23.5 17h0m-22.5-2h0m-19.5 2.5h0m33-5h0m-38.5 3.5h0m23.5-2h0m-7 3.5h0m-18-3.5h0m10.5 0h0m21.5-1.5h0m-18 2h0m12.5-1.5h0m-14 4h0m-12-1.5h0m16 0h0m25.5 2h0m-4-1.5h0m-28 0h0m-10.5-0.5h0m3 0.5h0m21 1.5h0m-27-3h0m24.5 2h0m-38-2h0m30.5-0.5h0m15.5 3.5h0m-29.5-10.5h0m0 5h0m11-7h0m13 7.5h0m-20 5h0m11.5-2h0m-2 0h0m-4 0.5h0m9 1h0m-26-1h0m15.5 0.5h0m28.5 1h0m-18-2.5h0m15.5 2h0m-4-2h0m8.5 2h0m-12 0.5h0m-24-1.5h0m22-1.5h0m11 3h0m-40-0.5h0m16-2.5h0m-24.5 0.5h0m17.5-1h0m-14 0.5h0m28-0.5h0m7.5 3.5h0m-37.5-0.5h0m51 0.5h0m-27.5 0h0m-20-7.5h0m37.5 5h0m-3.5 0.5h0m-3.5 2h0m-8.5-2h0m-6.5-6h0m29.5 6.5h0m-8.5-8.5h0m-18.5 7h0m14.5-1h0m-14 0.5h0m-14-2.5h0m27.5 5h0m6.5 0h0m-38-5h0m47 6h0m-19-6h0m-26.5 6h0m3-3h0m45 3h0m-43-2.5h0m23 2.5h0m-10 0h0m13.5-1h0m-8.5 1h0m27.5-1.5h0m-49 0.5h0m46 0h0m-5 0h0m-2-2h0m-4 0.5h0m7.5 2.5h0m-11-0.5h0m-33.5-1h0m-7-3.5h0m24.5 3h0m13 2h0m-6.5-2.5h0m8-3.5h0m13.5 5h0m5 0h0m-15.5-37.5h0m-33 38.5h0m12-6h0m13 5.5h0m10-1.5h0m8 1.5h0m-14.5 0.5h0m-1.5-2.5h0m-3.5-4h0m0.5 6.5h0m24 0h0m-5-2.5h0m-33.5 1h0m11.5 1.5h0m21-1.5h0m-49 1.5h0m54-0.5h0m-2-6.5h0m-15 5h0m5.5-2.5h0m-47 4h0m51.5 0.5h0m-14-4.5h0m2.5-3.5h0m20.5 6.5h0m-11-13.5h0m-21 10.5h0m-8 0h0m8.5 2.5h0m5.5 0.5h0m-31.5 1h0m50.5-2.5h0m-12.5 0h0m11.5 3h0m5-4h0m-9.5 4h0m-17-3.5h0m-30.5 2.5h0m36-7h0m-36 7.5h0m-5 0.5h0m66-4h0m1 3.5h0m-12-5h0m-2 0h0m-4.5-6h0m1 10h0m15.5 1.5h0m-28-0.5h0m32 0h0m-4.5-2h0m-26 1.5h0m-30-0.5h0m59 0.5h0m-19 0.5h0m8.5-1h0m-42 1h0m21.5-2.5h0m18 0.5h0m-40 2.5h0m7-0.5h0m14.5 0h0m-1.5-7h0m-13 7.5h0m1.5 0h0m39.5 0h0m-31.5-4h0m21.5 1h0m7.5 1h0m-41.5 0.5h0m21.5 1h0m-18-0.5h0m13.5 0h0m-25.5-2h0m0 2.5h0m55.5-9.5h0m-55 10h0m19.5-7h0m19 2h0m-7 0.5h0m-29 3h0m6.5-9.5h0m23 11h0m16 0h0m-11.5-12.5h0m5.5 7.5h0m-23.5 3.5h0m5.5-3.5h0m-16 5h0m44-1h0m-15.5 1h0m3-0.5h0m-48.5-1.5h0m11.5 2h0m54.5-1.5h0m-30-4.5h0m3 5.5h0m2.5-3h0m2.5-22.5h0m-10.5 23h0m-10-5.5h0m13.5 6h0m-4.5 0h0m31 0.5h0m-39.5 1.5h0m23-8h0m4 7.5h0m-4.5-14.5h0m-32 14.5h0m3.5-1h0m10-3h0m10.5 5h0m20 0h0m-51-2h0m3.5 1.5h0m49.5 0.5h0m-16.5 0h0m18.5-10h0m-17.5 8h0m-2.5 2h0m1.5-21h0m-23 5h0m16 16h0m-13 0h0m-12 0h0m25.5-1h0m-26 0.5h0m46.5-1h0m-2.5-2.5h0m-4.5-3h0m-1 0h0m11 2.5h0m-14.5 1.5h0m-19.5 3h0m-14.5 0h0m53-7.5h0m-14 6h0m0 0.5h0m-4.5-0.5h0m-44 0.5h0m41.5 1h0m-8-4.5h0m27 3h0m-53.5 1.5h0m30-14h0m-1.5 14h0m-30 0h0m57-0.5h0m-28.5-1.5h0m-12.5-0.5h0m40.5-4h0m-28.5 3h0m12-2h0m2 2.5h0m11.5 0h0m-17 2.5h0m-16.5 0.5h0m-11.5-1.5h0m11 1h0m34-1.5h0m-1.5 1.5h0m-59 0h0m52 0.5h0m0.5-1h0m-11.5 0h0m-5-3.5h0m10 4.5h0m-2.5-7.5h0m5.5 7h0m-39-0.5h0m42-6h0m-41 7h0m50.5-1.5h0m-18-3.5h0m-1.5-11h0m-9 14.5h0m28.5 0.5h0m-2 0h0m-26.5 1h0m2-5.5h0m17.5 5.5h0m-9.5-20h0m4.5 19.5h0m-11.5-1h0m17-1.5h0m-5 0.5h0m5-2h0m-21.5 4.5h0m-6-1.5h0m-26 1h0m41.5-5h0m24 4h0m0 1.5h0m-23-8h0m-8 6h0m-4-6h0m-1.5 4h0m33 1.5h0m-35.5-4.5h0m-13-3h0m51 7h0m-6 3h0m-36-0.5h0m33-5.5h0m-29 2.5h0m20 3.5h0m-20-2h0m19-1.5h0m10.5-2h0m-42.5 5.5h0m31.5 0h0m-11-0.5h0m17-4h0m3 4.5h0m-24.5-3h0m36 3h0m-33.5 0h0m33-2h0m-7-2h0m-30.5 4h0m7.5-5.5h0m10 3.5h0m21.5 0.5h0m-37.5 1.5h0m-2-3h0m-10 1.5h0m43-5h0m5.5 5.5h0m-5-1h0m-7.5-2h0m-19.5-1.5h0m-2 3h0m-25.5 1h0m-2.5 1.5h0m48-1h0m2 0h0m0-1.5h0m-17.5-3h0m4 5.5h0m8.5 0h0m-29 0h0m-14 0h0m46-2.5h0m-51 2h0m66 0.5h0m-16.5-0.5h0m-34-0.5h0m17 1h0m-3.5-2h0m-3.5-1h0m-8.5-3h0m50 3.5h0m-35.5 1h0m5 1.5h0m9.5-3.5h0m-21 1.5h0m14.5-0.5h0m25 1.5h0m-32.5 1h0m22.5-0.5h0m-14-4h0m11.5 2h0m-6 2h0m-30 0h0m37.5-8h0m-13 6.5h0m-16-1h0m40-1.5h0m2.5-3.5h0m-58 8h0m21.5-14.5h0m-26 13h0m18 1.5h0m-7.5-3h0m47 3h0m-37-0.5h0m16.5-0.5h0m6.5-5h0m7 6h0m-22-0.5h0m2.5-1.5h0m-9-5h0m17 6h0m-20-0.5h0m1.5-6.5h0m27.5 7h0m-10.5 0.5h0m15 0.5h0m-7.5-6h0m16.5 5.5h0m-21-3.5h0m-8-2.5h0m15.5 5h0m-9 1h0m-7-1.5h0m3.5-1.5h0m-15-2h0m-12 3.5h0m23.5-2.5h0m-29 1.5h0m32-1h0m-36 3.5h0m2-1h0m11 1.5h0m45-1h0m-14.5 0h0m12 1h0m-14-0.5h0m-15.5-0.5h0m29.5 1h0m-22-0.5h0m-20-5h0m35 5.5h0m-32 0h0m41-11.5h0m3.5 11.5h0m-47 0h0m21.5-5h0m12.5-1h0m-15 6h0m6.5-3.5h0m-21 2.5h0m5.5 1h0m-21.5-2h0m44.5 0h0m-28.5 1h0m40.5 1h0m-53-0.5h0m26 0h0m29 0.5h0m-17.5 0h0m-16 0h0m-14-0.5h0m32.5-0.5h0m-23 0h0m24.5 1h0m5-1h0m-7-4.5h0m-4.5 4.5h0m-4-10.5h0m-21.5 10.5h0m11-1.5h0m3.5 1.5h0m-15 0h0m-3 0.5h0m43-7.5h0m-13 4h0m15 2h0m-20.5-1h0m-6.5 3h0m24-6.5h0m-48.5 3.5h0m19.5 0.5h0m16.5 2.5h0m-14-8h0m24 7h0m-44-1h0m41-0.5h0m-29.5 2h0m-9.5-3.5h0m23.5 3h0m-6.5-2h0m21.5 2h0m-1.5-4.5h0m-7 4.5h0m-44 1h0m45-5h0m-31 5h0m11-1.5h0m21 1.5h0m-30-1h0m23.5-1h0m-37 2h0m-1 0h0m23.5-0.5h0m-17-1h0m45 1h0m-15.5-2.5h0m-4.5-6h0m-20 8.5h0m37-3.5h0m-3 3.5h0m-7-9h0m3 6h0m-17-11h0m-20 10h0m21 0h0m14.5 0.5h0m-20 0h0m-21.5 4h0m42.5 0h0m-11.5-5.5h0m27 5h0m-9 0.5h0m-48.5-4.5h0m53.5 3.5h0m-33 1h0m21.5-8.5h0m-14 8.5h0m13.5-1.5h0m-0.5 0.5h0m-8-3.5h0m25.5 0h0m-21.5 3.5h0m-18 0h0m38.5 0h0m-3 0h0m-19.5 0.5h0m24.5-1h0m-14-6h0m-34.5 7.5h0m-9 0h0m17.5-2h0m17.5 1.5h0m-0.5 0.5h0m-10 0h0m26-0.5h0m-7-8.5h0m-5.5 9h0m-12.5-1h0m18-4.5h0m-14.5 5.5h0m25-2.5h0m-9-2h0m13 4.5h0m-8 0h0m5 0h0m-29-0.5h0m22.5 0.5h0m-6.5-8.5h0m-31 7h0m3 1.5h0m49-1h0m-47-1.5h0m26 1.5h0m-10-5.5h0m24.5 6h0m-0.5-3h0m-16.5-1h0m15.5 4.5h0m-42.5 0h0m28.5-23h0m13.5 16h0m-31 5.5h0m28-3h0m-1 3h0m-41.5 1.5h0m42-4.5h0m15 4h0m-51-4h0m31 4.5h0m4-0.5h0m-2-8h0m-34 7.5h0m28.5 0h0m-17.5-11h0m18.5 1.5h0m-15.5 10.5h0m-8-13h0m-4.5 13h0m-0.5-3h0m46 2.5h0m-46.5 0h0m38 0h0m-4.5 0h0m-2.5-7h0m10.5 7.5h0m-49.5-3.5h0m46.5 3h0m9.5 0h0m-14 0.5h0m-0.5-1h0m-13 0h0m-3.5-3h0m21 3h0m-11-6h0m-31 6.5h0m19-3h0m-4-2h0m18.5 4h0m14.5 0h0m-41.5 0.5h0m-19 0h0m51.5-3.5h0m-10.5 4.5h0m-26-2.5h0m35.5 2.5h0m-20.5-2.5h0m-4 2.5h0m24-0.5h0m-21.5 0h0m11-4h0m-36.5 4.5h0m28.5-3.5h0m-1-7h0m-16 8.5h0m18 2h0m26.5 0h0m0-0.5h0m-29.5-4h0m-18.5 0h0m49 0.5h0m-4 2.5h0m-12.5-4.5h0m6 6h0m-14-1h0m-21.5 1h0m41-4.5h0m-26 2.5h0m18-6h0m2 7.5h0m-32 0h0m27.5-2h0m-37 2h0m28 0h0m1-5.5h0m26 6h0m-28.5 0h0m-10.5 0h0m-8-9.5h0m9.5 5.5h0m-7.5 3.5h0m30-2h0m3.5 2h0m-10.5 0h0m5 0.5h0m-37 0h0m52.5 0h0m-7.5-2h0m-17 2h0m-7-3h0m0-3.5h0m-7.5 0.5h0m27 0h0m-33 0h0m28 4.5h0m-12 1h0m24 0h0m-6-0.5h0m6-1.5h0m-12 2h0m14-1.5h0m-18.5-1h0m12.5 3h0m6-4.5h0m-3.5 4h0m-15-5.5h0m-7 0h0m16-3h0m-39 9h0m21.5-2.5h0m-30.5 2h0m30.5 0h0m-25 0h0m12-0.5h0m30-0.5h0m-20.5 0h0m28.5 1.5h0m10.5-2.5h0m-54 1.5h0m12-2h0m29.5 0h0m13.5 2.5h0m-45 0.5h0m24.5-1h0m-32-1.5h0m41.5 1h0m-4.5 1h0m-29 0.5h0m31.5-2h0m-9 1h0m-3.5-3.5h0m12.5 4.5h0m-6.5 0h0m-6.5-0.5h0m-16.5-3h0m39 3h0m-28-3.5h0m-5 1.5h0m-12.5 1.5h0m16.5-1.5h0m22.5 2.5h0m-26.5-1.5h0m19.5 1h0m8.5 0.5h0m-32.5-2h0m21.5-3.5h0m8.5 2.5h0m-23.5 2.5h0m-33 0h0m0.5 0h0m47.5-0.5h0m1 1h0m-37 0h0m0.5-0.5h0m5-2h0m17.5 2.5h0m-15-3.5h0m35.5 3h0m-26.5-0.5h0m37-0.5h0m-37 1h0m9.5-0.5h0m15.5 1h0m6.5-2.5h0m-36-2h0m39 3.5h0m-30 0.5h0m-16.5 0h0m26-0.5h0m-29.5 1h0m45 0h0m-46-2h0m-4 0.5h0m36 1.5h0m-0.5-2h0m0-2h0m10.5 3.5h0m-22.5-4.5h0m23 3.5h0m-56 1.5h0m47-9h0m-4.5 4h0m10.5 5h0m-32-0.5h0m35-3h0m6.5 3h0m-22.5-4h0m14 4.5h0m-11.5-1h0m16.5-0.5h0m-18 0h0m-28.5-3h0m32 2h0m-10 2.5h0m-16-2h0m17.5 2h0m31.5-2.5h0m-22 2.5h0m8-1h0m-36-4h0m25.5 3.5h0m-39 0h0m28-13h0m-19 11.5h0m2.5-0.5h0m46 1.5h0m-53.5 2h0m43-1.5h0m-37.5 1h0m23.5 0.5h0m-33.5-1h0m46.5-3.5h0m-21 3h0m14 1.5h0m5.5-5.5h0m-5.5-2h0m20.5 7.5h0m-44-1h0m26.5-1.5h0m-15.5 0h0m1 1.5h0m-27.5-1h0m31-2.5h0m5 3.5h0m23-1.5h0m-22 2h0m16-5h0m8 5h0m-9.5 0.5h0m0.5-2.5h0m4.5 1h0m-50.5-1h0m33 2.5h0m8.5 0h0m-48.5 0h0m11 0h0m31-0.5h0m-20 0h0m5-2h0m3-10h0m9 12h0m-30.5 0.5h0m4-2h0m29.5-0.5h0m-9 0.5h0m32.5 2h0m-7-2.5h0m-15.5 2h0m12 0.5h0m-22.5-0.5h0m-21 0.5h0m22.5-7h0m22.5-3h0m-17.5 9.5h0m22-7.5h0m-6 5.5h0m0 2.5h0m-36-1h0m42.5 0.5h0m-35-9.5h0m3 8h0m17 2h0m-0.5 0h0m-7 0h0m-28-0.5h0m10-3h0m1.5 1.5h0m11 0h0m-31.5 2h0m18.5-1h0m2-3.5h0m26 3.5h0m-10.5-3h0m-15 4h0m25.5-5.5h0m2.5 5h0m-33-3h0m35.5 2h0m-19-5h0m-12.5 5h0m10.5 1h0m-0.5 0.5h0m8.5-3h0m18 3h0m-19-13h0m-17 12.5h0m-9.5-1.5h0m20 0.5h0m27 1h0m-12.5-1h0m-33-0.5h0m43 1h0m-13.5-1h0m-11 0h0m-15 0.5h0m18 0.5h0m-11-4.5h0m34.5 2h0m-12 3.5h0m-2-4h0m-43.5 4h0m28.5 0h0m9-3.5h0m18.5 3h0m-56.5-1h0m41.5-0.5h0m-27.5-2h0m44.5 4h0m-48.5-0.5h0m-11 0.5h0m21.5-3h0m-17 2.5h0m27 0h0m28-1h0m-46 1h0m16-2.5h0m-21.5-1h0m15 3.5h0m6-3h0m9-1h0m7.5 4h0m-11.5-3h0m-11 1.5h0m19.5 1.5h0m-5.5 0.5h0m-20-8h0m25.5 2h0m-2.5 5.5h0m-13 0.5h0m16.5-4h0m-9.5-1.5h0m-1.5-2h0m3 4.5h0m-12 1h0m15.5-9h0m-7 10.5h0m20.5-1h0m-32-2.5h0m29.5-7h0m5 9.5h0m-38 1h0m15 0.5h0m-13-1h0m-5.5 1h0m32-0.5h0m-30-1h0m22.5 0.5h0m-25.5-1h0m19-1.5h0m29 1.5h0m-31 1h0m-8-6h0m29 2h0m-2.5 4h0m-9 1h0m8.5-0.5h0m12 0.5h0m-22.5-2.5h0m6-2.5h0m2 4.5h0m-23-6h0m38 1.5h0m-32.5-1.5h0m7.5-5.5h0m-5.5 4.5h0m-0.5-10h0m14 16.5h0m2.5 1h0m-48-0.5h0m58.5 0h0m-10.5 0.5h0m4.5-2.5h0m-36 0h0m18 2.5h0m-10-2h0m24.5-1h0m-40.5 3h0m55 0h0m-62-0.5h0m58-2h0m-46 2h0m11 0.5h0m-2-1.5h0m23.5 1.5h0m12-2.5h0m-20-9.5h0m13.5 12h0m-13.5-1.5h0m-30.5 0h0m48-6h0m-19.5 7h0m23 0h0m-32-1h0m-19.5 1.5h0m39.5-2.5h0m7.5 1.5h0m-5.5 1h0m-19-1h0m20-1.5h0m-20-5h0m9 7.5h0m-3-1.5h0m18 1.5h0m3.5-7h0m-47 6.5h0m55-0.5h0m-1-2h0m-47 2.5h0m19 0h0m-29-1.5h0m10 0h0m12.5-3h0m17.5-5.5h0m-28-1.5h0m14.5 11h0m18.5-0.5h0m-0.5 0.5h0m-7.5-4h0m15.5 3.5h0m1.5 1.5h0m-20-7.5h0m2 5.5h0m8 1.5h0m-27.5-2.5h0m3.5 3h0m3-5.5h0m36.5 5h0m-49.5 0h0m20-5.5h0m22 4.5h0m-19-0.5h0m-10.5 2h0m-8-9.5h0m27 8h0m-0.5-1h0m-3 2.5h0m13-0.5h0m-7-4h0m-18-8.5h0m15.5 8h0m-15 4h0m-10.5 1h0m-15.5-1.5h0m22.5-0.5h0m24.5 0.5h0m-40.5-5h0m31 6.5h0m-24 0h0m-17 0h0m18 0h0m14.5-4.5h0m4.5 3.5h0m-5.5 0.5h0m17.5 0h0m-45 0.5h0m5-0.5h0m54.5-2.5h0m-27.5-1h0m5.5 3.5h0m2-4h0m-39.5 3.5h0m31 1h0m17-3h0m-7 0h0m8 1.5h0m3 1h0m-10-1h0m-5.5-0.5h0m-15.5 1h0m10 0.5h0m-31.5 0h0m39.5-1h0m-44 0h0m62-1.5h0m-10 3h0m-28-0.5h0m5.5 0.5h0m27-9h0m-38 2h0m14.5 0.5h0m14 4.5h0m-14-8h0m-6.5 9h0m4 0h0m28 1h0m-22.5-6h0m25 6h0m-41-0.5h0m-18.5 0.5h0m37-6.5h0m9-1.5h0m1.5 8h0m9.5 0h0m-37-1.5h0m37-1h0m-29 1.5h0m-8-1h0m21.5 1.5h0m14.5 0h0m2 0.5h0m-55-0.5h0m28 0.5h0m-9.5-6.5h0m22.5 6h0m-36.5 0.5h0m25.5 0h0m8.5 0h0m-32.5-0.5h0m5-6.5h0m-12 3.5h0m55.5 3.5h0m-5.5-1.5h0m4 1h0m-2.5-1h0m-6 1.5h0m2.5 0h0m-50-0.5h0m27-2h0m7.5-2.5h0m-13 5h0m33-1.5h0m-23.5 0h0m25.5-0.5h0m-28 2h0m9.5 0h0m2-2h0m3.5-6h0m-36.5 0.5h0m25 5.5h0m-27.5 1.5h0m41 0.5h0m-17.5 0h0m-6.5-4h0m29 4h0m-7-2h0m-3 0h0m-15.5 1h0m30 0.5h0m-3.5-6.5h0m-4-2.5h0m-42.5 9h0m2 0.5h0m52-5h0m-30.5 2.5h0m-9 2h0m8.5-4h0m10.5-0.5h0m6.5-0.5h0m-1 5h0m-9-10.5h0m12.5 9h0m-49.5 1.5h0m35.5-3.5h0m-8 1.5h0m19-2h0m-6.5 2.5h0m13.5-4.5h0m7 5h0m1 1h0m-24.5-1h0m-5-2.5h0m-16 0h0m-11 4h0m29-8.5h0m21.5-7.5h0m8.5 14.5h0m-23-0.5h0m-11-6h0m19 5.5h0m1 2.5h0m-31-1h0m21-5.5h0m15.5 6.5h0m-2.5-1h0m-30-11.5h0m22 10h0m-23 0h0m-10-2.5h0m45.5 2h0m-18-3h0m0 3.5h0m12-2.5h0m-31 4.5h0m7.5-1h0m-8.5 1.5h0m34.5-1h0m-25-3.5h0m15 4.5h0m21-0.5h0m-29.5-18h0m-40.5 18.5h0m58.5-1h0m9.5-1h0m-11 1h0m2.5 1h0m-4.5-1.5h0m-49.5 1h0m23-0.5h0m4.5-2.5h0m33 3h0m-26-7.5h0m6.5-2.5h0m-30 2.5h0m25.5 3h0m20.5 3h0m-20-0.5h0m-42.5 0.5h0m32 1.5h0m33.5 0.5h0m-5.5-9.5h0m-12.5 9h0m8-10h0m3.5 10.5h0m-2-2h0m8-3.5h0m-31.5 1h0m27 4.5h0m-9.5-0.5h0m-7.5-3h0m8-4h0m-44 7.5h0m46-3.5h0m-9.5 0h0m20.5 3.5h0m-37 0h0m5.5-11h0m27 5.5h0m-16-4h0m-15-11h0m12.5 19.5h0m-2.5-3h0m5.5 1h0m10.5 2h0m-10 0.5h0m3.5 0.5h0m8 0h0m-2.5-1.5h0m1.5 0.5h0m-24.5-1h0m16-4.5h0m-4 3.5h0m-9.5-5h0m-7.5 7.5h0m-16.5-0.5h0m33.5-2.5h0m14 2.5h0m-19.5 1h0m22.5-2.5h0m-40 2.5h0m13.5-9h0m-1.5 0.5h0m8 8.5h0m26.5-3h0m-35 3h0m-26.5 0h0m34-9h0m-11 1h0m32.5 0.5h0m0 5.5h0m-5.5 1.5h0m-12-0.5h0m6.5 0.5h0m-34.5 0h0m5 0.5h0m19-2h0m-19 2h0m47.5 0h0m-58-2h0m38-1.5h0m-26.5 2.5h0m21 0.5h0m2 0.5h0m-16.5-0.5h0m40 0.5h0m-16.5 0h0m-41-0.5h0m58.5-3.5h0m-9 3.5h0m-23.5-4h0m1 2h0m11.5 1h0m13.5 0.5h0m-21 1h0m-23.5-0.5h0m43.5 0h0m-22.5 0h0m-9.5-1.5h0m1 1h0m-20.5 0.5h0m43 0h0m-24-6.5h0m30.5 6.5h0m-24 0.5h0m-19.5-0.5h0m10-0.5h0m30-6.5h0m-3.5 7h0m-32.5-1.5h0m25-3h0m-16 5h0m13-6.5h0m-15.5 5.5h0m5 1h0m-18.5-0.5h0m28.5 0.5h0m-27 0h0m18-7.5h0m25.5 7.5h0m-34.5-1h0m35 0.5h0m-9.5 0.5h0m10.5-12h0m-43 12h0m53.5-3.5h0m-17-3.5h0m-42.5 5.5h0m-9.5 1.5h0m10.5 0h0m51 0h0m-9.5-6.5h0m-4.5-3.5h0m5 9h0m-18.5-1h0m-4.5-3h0m-5 5h0m-3.5-0.5h0m39.5 0.5h0m-20.5-0.5h0m-17 0h0m33.5-10h0m-6 9.5h0m-43.5-0.5h0m29 1h0m8.5-0.5h0m19.5-1.5h0m-55.5 2h0m-3.5 0.5h0m51.5-5h0m6.5 4h0m-23-0.5h0m-25 0.5h0m21.5 1h0m-9.5-1.5h0m-19.5-0.5h0m4 1.5h0m49.5-4h0m-4 3h0m-29.5-3h0m22 4h0m15 0h0m-62-4h0m23.5 0h0m6 4.5h0m35 0h0m-38.5-10h0m27 8.5h0m-38 1.5h0m33.5-1h0m-9 0.5h0m22.5-1h0m-32 1.5h0m7.5-1.5h0m-34.5 0h0m27-1.5h0m-31 3h0m12-0.5h0m30.5-11h0m7 0.5h0m-4.5 10.5h0m-0.5-6h0m1.5 6.5h0m-42.5 0h0m52-4.5h0m-9 1.5h0m-3-2.5h0m-7 5.5h0m3.5 0h0m16-8h0m-43 7h0m14.5 0.5h0m25 0h0m-7.5 0h0m-5.5-1h0m-7.5-3.5h0m5.5-3h0m-14 7.5h0m-6.5-2.5h0m8 3h0m34 0h0m-28 0h0m-12.5-0.5h0m15-1.5h0m-9 2h0m27-5.5h0m6-0.5h0m-0.5 6h0m-47 0h0m0-8.5h0m-12.5 8.5h0m50.5-3.5h0m-5.5 2h0m23-7h0m-1 8h0m-16-1h0m-20-1h0m25-4h0m-29 6.5h0m-4.5-3.5h0m29.5-1.5h0m-16.5 5h0m8.5 0h0m-22-6.5h0m29-12.5h0m2.5 16.5h0m-6.5 1h0m-32.5 1h0m45.5 0.5h0m-32-4h0m38 3.5h0m-38-0.5h0m-18.5 1h0m29.5-4.5h0m-7.5 2.5h0m20.5-1.5h0m-13.5-1h0m-15 4h0m10 0.5h0m14.5-1h0m-6-2.5h0m4-2.5h0m9.5 4h0m5.5 0h0m-35 1h0m23-3.5h0m-15 0h0m24.5 2.5h0m8 1.5h0m-10.5 0h0m-2.5 0.5h0m0-0.5h0m3-2.5h0m-50 2.5h0m19-2h0m15.5-5h0m-11 7.5h0m-10-1.5h0m24 1h0m2.5-1.5h0m-9.5 2h0m-33-6.5h0m20-2h0m6.5 7.5h0m-2.5 1h0m21-3.5h0m13 2.5h0m-35.5-2.5h0m2-4.5h0m19-2.5h0m21.5 4h0m-11 4h0m-26 1h0m-27.5 1h0m15.5-2.5h0m33 3h0m-39.5-0.5h0m29.5-13.5h0m15 6.5h0m-7 7.5h0m-24-4h0m14 3.5h0m5.5-0.5h0m6-0.5h0m-43.5 0.5h0m52.5-0.5h0m-15.5 0h0m3 0h0m16-4.5h0m-26.5 1h0m-8.5-2.5h0m22 6.5h0m-21.5 1h0m20 0h0m-6.5 0h0m18.5-10.5h0m-26.5 2h0m2 7h0m22.5 1.5h0m-23-0.5h0m5-3.5h0m16 1.5h0m0.5-1.5h0m1 3.5h0m4.5-1h0m3.5 0h0m-16.5 1.5h0m-30-4h0m13.5 3h0m29.5 1h0m-30-0.5h0m20-9h0m-36.5 8h0m21.5-3h0m19.5-7.5h0m8.5 10.5h0m-32 0h0m11-5.5h0m1 6h0m6-4h0m-12-1.5h0m10.5 4.5h0m4-7h0m-44.5 9h0m56.5-0.5h0m-9-1.5h0m-8 1.5h0m-19-1.5h0m11-7.5h0m-17.5 8.5h0m-7.5 0h0m-1.5-3.5h0m1.5 1.5h0m45 1.5h0m-1.5-14.5h0m-5 7.5h0m-52.5 8.5h0m60.5 0h0m-21-0.5h0m8-0.5h0m-45 0h0m40.5-0.5h0m-10 1h0m28.5 0.5h0m-4.5-0.5h0m-11 0.5h0m-14-0.5h0m-1 0.5h0m15 0h0m13 0h0m-44 0h0m34 0h0m9.5-1.5h0m-41 0h0m39.5 0h0m-23-6h0m22.5 6.5h0m-30.5 0h0m-17.5 0.5h0m42 0.5h0m-15 0h0m-34.5 0h0m43.5-1h0m-8.5-1.5h0m8 2h0m4-2.5h0m5.5 2h0m-32-7h0m-20.5 7h0m59 0.5h0m-23.5-0.5h0m-26 1h0m30-0.5h0m-20.5 0.5h0m0.5-2h0m-13.5-2.5h0m17.5 4.5h0m4-2.5h0m29-1h0m-33.5 2.5h0m21.5-1.5h0m-21-0.5h0m-22.5 0.5h0m7.5 2.5h0m-4-1.5h0m12.5-1h0m21 2.5h0m7.5 0h0m3-0.5h0m7.5-1h0m-4.5 1.5h0m-32-1.5h0m2.5 1.5h0m15-0.5h0m-29-0.5h0m53.5-2h0m-25 1.5h0m27.5-1h0m-3.5 2h0m-24 0h0m-35.5 0h0m-6 0.5h0m43-10.5h0m-14.5 10.5h0m9-12.5h0m15.5 12.5h0m-28.5-0.5h0m12.5-11.5h0m1 10.5h0m4.5 1.5h0m-35.5-2h0m-5.5 2h0m65-0.5h0m-18-0.5h0m-28 1h0m36-0.5h0m-10-1h0m20-1.5h0m-18.5-0.5h0m14 2h0m-21-2h0m17.5 3.5h0m-16.5 0h0m26.5-1h0m-19-2.5h0m8-26.5h0m-7.5 30h0m-10.5-2.5h0m17.5 2.5h0m-5.5-8.5h0m-2 6.5h0m4.5 1h0m-8 0.5h0m21.5-5h0m-13 5.5h0m-6-4h0m3.5-0.5h0m-32.5 4h0m25-10.5h0m0 10.5h0m-16-1.5h0m10 0.5h0m10.5-3.5h0m8-0.5h0m-9 4.5h0m16 1h0m-36 0h0m-24-1.5h0m21-7.5h0m43 9h0m-16 0h0m13.5 0h0m-23-5h0m12.5 2.5h0m-11.5 1.5h0m-27 0h0m8.5 1h0m12 0h0m13-6h0m-27.5 1h0m-0.5 5h0m25.5-2.5h0m1-8h0m17.5 9.5h0m-17.5-4h0m-12 4.5h0m-9.5-1.5h0m23 1.5h0m-3.5-3.5h0m-26 2h0m1.5 1.5h0m17-5h0m-2 4.5h0m3 1h0m-21-6h0m25.5 5.5h0m-27-5.5h0m13 1h0m34 3.5h0m-28.5-0.5h0m-4 2h0m-19.5-3h0m-1.5 1.5h0m4-5.5h0m29 4.5h0m-6.5-4.5h0m-10 7h0m-8.5-0.5h0m14.5-2.5h0m-9.5 0h0m11 3h0m-26.5 0h0m59.5 0h0m-66 0h0m35.5-1.5h0m5 1.5h0m18.5-1.5h0m-34.5 0h0m-18.5 0.5h0m43.5 0h0m-28-7.5h0m21.5 8.5h0m-17.5-7h0m7 6.5h0m15 0h0m20-1h0m-39 1.5h0m-5.5 0h0m-19 0h0m56-0.5h0m-9.5-4h0m-4 1h0m-28.5-5h0m13.5 8.5h0m-5.5 0h0m-21 0h0m41-9h0m-7.5 1.5h0m-36 7h0m47.5-4h0m-16.5-7h0m-1.5 8.5h0m28.5 2h0m-53 0h0m31-2.5h0m23 2.5h0m6 1h0m-46-2h0m44.5 1h0m-34.5-5.5h0m16.5-6.5h0m-19 12h0m18.5-6h0m0.5 6.5h0m-18.5-1.5h0m22.5-3.5h0m-38 4h0m17-2h0m-10.5 3h0m6-1h0m32 1.5h0m2.5-10.5h0m-17.5 10.5h0m2-7h0m13 6.5h0m-13.5-2h0m0 1.5h0m-15-4h0m-9 5h0m18-5.5h0m5.5 4.5h0m-35-2.5h0m25.5 1.5h0m7 0h0m-8.5-0.5h0m-28-1h0m39.5 3h0m-8.5-8h0m10.5 8.5h0m-27.5-1h0m31.5-0.5h0m-14.5 1.5h0m-19.5-1h0m37.5-19h0m-25.5 13h0m7.5 6h0m-22 0h0m-6.5 0.5h0m34.5-4.5h0m8 2.5h0m6 0h0m-17.5 2.5h0m-24-3.5h0m17.5 3.5h0m5-5.5h0m10.5 3.5h0m-1.5-28.5h0m-20 30h0m-15.5 0.5h0m38-0.5h0m-3.5 0.5h0m-1.5-2h0m-34.5 2h0m6.5-1h0m39-3h0m6.5 4h0m-46.5-1h0m35.5 0h0m-7-1.5h0m3 2h0m-18.5-3.5h0m34 4h0m-48-1h0m11-1h0m35.5-1h0m-35.5-1h0m35.5 3h0m-0.5-1h0m-52.5 2h0m35.5-1h0m-26-3.5h0m24 2h0m-31 2.5h0m6-2h0m-6 1.5h0m47.5-2h0m-35.5 2.5h0m-8-2h0m-5.5 2h0m30.5-4.5h0m-8 3.5h0m-6.5-2.5h0m20 2h0m-28 1h0m31-6h0m-48.5 6.5h0m59.5-1.5h0m-28.5 1h0m17-7.5h0m-20 1.5h0m40 6.5h0m-20-3.5h0m4 2.5h0m1-10h0m16.5 11h0m-63.5 0h0m35-4.5h0m-30.5 2.5h0m22-2.5h0m17.5 3.5h0m8.5 1h0m-13-8.5h0m7.5 6.5h0m-16.5 0h0m24 0.5h0m-29.5-1h0m16.5 0h0m-9.5 2.5h0m12-15h0m-15.5 13.5h0m-7-1.5h0m19.5 3h0m-18-0.5h0m10.5-5h0m-31 5h0m30 0.5h0m-18-0.5h0m43.5-0.5h0m-19-12.5h0m-0.5 12.5h0m16.5 1h0m-16.5-10h0m-11 10h0m-28-1.5h0m23-1.5h0m19.5 1.5h0m8.5 1.5h0m-47-1h0m35.5 0.5h0m-6.5-5.5h0m2.5 2.5h0m26.5 3.5h0m-46.5 0h0m22.5 0h0m4.5-0.5h0m-9.5-2.5h0m-5.5-1.5h0m4 0.5h0m30-8h0m-8.5 8h0m1.5 4h0m6 0h0m-16-2.5h0m-10 2h0m15.5-1.5h0m0.5 1.5h0m8.5 0.5h0m-43 0h0m37.5 0h0m-2.5-1h0m3 1h0m-8-6h0m-40 3.5h0m29.5 1h0m-14 1.5h0m7.5-4.5h0m7 4.5h0m3.5-7.5h0m-9.5 7h0m7.5-1h0m6.5-12.5h0m-8.5 14h0m3-3h0m-11 2h0m-7.5 0.5h0m-11.5 0h0m45.5-4h0m-12.5 1.5h0m-30 3h0m25-1h0m2-4h0m9 5h0m1.5-7h0m-7.5 7h0m-26-0.5h0m22.5-4.5h0m12-6.5h0m-26 10h0m23 0.5h0m9.5 0.5h0m-48.5 0.5h0m43.5-1h0m-30 1h0m32 0h0m-50 0h0m55-0.5h0m2.5-2h0m-34.5 2.5h0m22 0h0m-48.5-0.5h0m15.5-3.5h0m5 2.5h0m26 1h0m-19.5-1.5h0m9-2.5h0m-10-2.5h0m15.5 4.5h0m-2 1h0m19-2h0m-51-2.5h0m27 2h0m-16-5h0m31 8h0m-19.5 0.5h0m28.5 0.5h0m-26.5-1h0m-7 1h0m-18.5-0.5h0m26.5-21h0m-12 19.5h0m6.5 0.5h0m32.5 0h0m1 0.5h0m-30.5 1h0m5 0h0m-29.5-1.5h0m35.5-3h0m-10 2h0m-4.5-13h0m-4.5 15h0m27 0.5h0m-7-0.5h0m14.5 0h0m-39 0.5h0m37-0.5h0m6 0.5h0m-14-6h0m4 5h0m-4-0.5h0m-3-4.5h0m8.5 5.5h0m-16.5-19h0m11.5 19h0m-15-1.5h0m-5.5-9.5h0m-6 11h0m31-4h0m-3 4.5h0m-8.5-1h0m-13-1.5h0m22-3.5h0m12.5 4h0m-35 1.5h0m28-2.5h0m-2 3h0m-37.5 0h0m18.5-1.5h0m7.5-0.5h0m17 0.5h0m-8-11.5h0m-22.5 12h0m-12-1.5h0m27.5 2.5h0m14-1h0m-3 0.5h0m-28-2h0m33 1h0m-35.5-2.5h0m0-11h0m28.5 15h0m-34-1h0m3.5 0.5h0m26-11.5h0m-19.5 11h0m9.5 0.5h0m-18.5-3h0m28-1.5h0m-4.5 5h0m-4-1h0m4.5-2h0m-38.5 3h0m44-7.5h0m-38 7.5h0m8.5-1h0m27 1h0m-43-3h0m18.5 0h0m-3.5 1h0m29.5 0.5h0m-11.5 1h0m11-2.5h0m11 0h0m-1 2h0m-56-1.5h0m5.5 2.5h0m30-14.5h0m-0.5 6h0m-37.5 8h0m32.5-0.5h0m3 0h0m24 0.5h0m-14.5-1h0m-48.5 1h0m46.5-6h0m17.5 6h0m-9-2.5h0m-3.5 1.5h0m-2.5 1.5h0m-41.5 0h0m40.5-4h0m1.5 2.5h0m-8-9.5h0m21.5 10h0m-42.5 1h0m48-4h0m-53.5 3h0m35.5-13.5h0m-31.5 13.5h0m-12-2h0m26-3h0m20 6h0m5.5 0h0m-48.5 0h0m8-2.5h0m19.5-3h0m-23.5 5.5h0m24-1.5h0m13.5-1.5h0m-5-9h0m-18 11.5h0m27.5 0.5h0m-10.5 0h0m-31.5-1h0m33.5-7.5h0m2 8.5h0m-14 0h0m5-5h0m12 2h0m12 3h0m-45-1.5h0m2-6.5h0m37 5h0m-14.5-5.5h0m-13.5 3.5h0m35.5 4.5h0m-21.5-7h0m8.5 6.5h0m-26 1h0m21.5-1h0m8.5-1.5h0m9.5 2.5h0m-26-3.5h0m-7 3.5h0m23-2.5h0m-30 2h0m16 0.5h0m-2-14h0m11.5 14h0m-34-1.5h0m19-3h0m16 3.5h0m9.5-3h0m-30.5 2.5h0m3.5 0h0m14.5 0.5h0m-26.5-2h0m24-4.5h0m3.5 7h0m8.5-2.5h0m-28.5-2.5h0m35 5.5h0m-26-8h0m-28.5 6.5h0m46.5-1h0m7 2.5h0m-42-2.5h0m28.5 2.5h0m8.5-1.5h0m-29.5-0.5h0m-5.5-0.5h0m-4.5 1.5h0m35-1.5h0m12.5 2.5h0m-53.5 0h0m43.5-3h0m-15.5 3h0m-31.5 0h0m37.5-0.5h0m-25-7.5h0m18.5 8h0m-20.5 0h0m18.5-0.5h0m-24-3h0m15.5-3h0m3 6.5h0m-17.5-0.5h0m48.5 0h0m-36.5-2.5h0m14.5 1.5h0m16 1.5h0m6.5-2.5h0m-6 1h0m-43-0.5h0m12.5 2h0m-14.5 0h0m-1-0.5h0m37.5-1.5h0m8 1.5h0m-37-1h0m-11 1h0m2.5 0.5h0m1.5-0.5h0m31 0h0m15.5 0.5h0m-55.5-1h0m4 1h0m46.5 0h0m-38.5 0h0m15 0h0m14 0h0m-17-1h0m20-0.5h0m5 1h0m7.5 0.5h0m-38.5 0h0m34.5 0h0m-1-2.5h0m-25.5 0h0m-8 2.5h0m3-0.5h0m-18 0.5h0m1-1.5h0m11 1h0m10-12.5h0m-12 13h0m39 0h0m-2-23h0m2.5 19h0m-17.5 4h0m21-0.5h0m-6-3.5h0m-48 3.5h0m30-2.5h0m14.5 1h0m7.5 2h0m-46.5-1h0m18.5 1h0m22.5-3h0m-21.5-1h0m-9.5 3h0m26 0.5h0m11.5-6h0m-40 4.5h0m29-2h0m-10.5 1.5h0m-25 2.5h0m42 0h0m-37-1h0m40.5 1h0m-46 0h0m40-0.5h0m-36 0.5h0m23.5-2.5h0m11 2.5h0m-42.5 0h0m50 0h0m-38-2.5h0m10.5 2h0m5.5-2.5h0m-12.5 3h0m5.5-2.5h0m3-2h0m6.5 4h0m-7 0.5h0m13.5-2.5h0m15 1h0m-1.5-2h0m-2 0.5h0m-23 0h0m13.5-2h0m-33 2h0m48.5 2.5h0m-24.5-2h0m-17-4h0m18.5 4.5h0m15.5-2h0m0 1.5h0m-19.5-5h0m3.5-2.5h0m-0.5 6.5h0m-4 3h0m-21.5-0.5h0m33 1h0m-17.5 0h0m2-8h0m19 6.5h0m-26 1h0m15.5-7.5h0m-9 7h0m-11-4.5h0m9 3.5h0m8 1h0m-8.5-2h0m-24 1.5h0m14.5 1.5h0m21-3h0m-4 2.5h0m10-1.5h0m11 1h0m4-3h0m-39 2h0m38.5 0h0m-33.5-4h0m-20 4h0m19.5 0h0m-15 1.5h0m54.5-6h0m-29.5-1h0m29 5.5h0m-21.5-1.5h0m-14 1.5h0m10.5 0.5h0m-11.5-7.5h0m12 0.5h0m-18.5 5.5h0m6-3.5h0m34.5 3h0m-44.5 2h0m34-1h0m-27.5 2.5h0m-28.5 0h0m47.5-5h0m-4 5h0m1.5-1.5h0m1 0h0m-8.5-6h0m-4.5 6h0m14 1h0m18 0.5h0m-22.5-1.5h0m-11.5 1h0m-4 0h0m-4.5-7h0m-3 5h0m50.5-3.5h0m-22 4h0m-9 2h0m1-5h0m19 3h0m-38.5-0.5h0m42.5 2h0m-20.5 0.5h0m6.5 0h0m-48-1h0m53-0.5h0m-7.5-11.5h0m-30 5h0m32 8h0m6.5-9.5h0m-53 9.5h0m35.5 0h0m-32 0h0m34-6h0m7 5.5h0m-7.5-0.5h0m-19.5-2.5h0m3.5 3h0m44.5-1.5h0m-15.5-0.5h0m0.5-3h0m-46 5h0m37-2h0m-9 1.5h0m-9.5-1h0m-2 2h0m20.5 0h0m-8.5-5.5h0m6.5 4.5h0m23 0.5h0m-21-2.5h0m8.5 2h0m-1.5-2.5h0m-1.5 3.5h0m20.5-1h0m-45.5-0.5h0m5.5 0.5h0m22-5.5h0m0.5 5.5h0m-21-7.5h0m35.5 6h0m-26 1h0m-5.5 0h0m-5.5-2h0m16.5-6h0m9 8h0m14.5-1h0m-27.5 2h0m18.5 0.5h0m-26.5-12h0m24 11h0m6.5-2.5h0m-13.5-2.5h0m0-1.5h0m-30 7.5h0m5-0.5h0m29.5-3h0m-9 2h0m8.5-3.5h0m-37.5 4h0m28-0.5h0m-18.5 0h0m-9 1.5h0m22 0h0m1-2h0m-27 0h0m27-4h0m7 5.5h0m-28-0.5h0m25 0.5h0m1-5.5h0m-33.5 5.5h0m24.5-2h0m1 1h0m31 1h0m-38-3h0m-20 3.5h0m13-3h0m39.5 3h0m-13.5-6h0m-16 6h0m34.5-3h0m-42 2.5h0m-14.5 0.5h0m-3-1.5h0m0.5-0.5h0m33-5.5h0m3.5 5.5h0m-24.5-3h0m6.5 4h0m-20.5 1h0m48.5-7h0m-40 5.5h0m6.5 1h0m37 0.5h0m-26-0.5h0m15-1.5h0m-13.5-1h0m1 1h0m-23 2h0m13 0h0m22.5-0.5h0m-31.5-5.5h0m13.5 5.5h0m2.5-0.5h0m16 1h0m15.5-7h0m-26.5 0.5h0m15 1.5h0m-8 5h0m-1-0.5h0m-26 0.5h0m9-10h0m6 8h0m-14-1h0m-4.5 1h0m48-3h0m-26.5 5h0m27-5h0m-3.5 3.5h0m-1.5 1.5h0m-15-0.5h0m12-8.5h0m-43.5 9h0m38.5 0h0m-6-0.5h0m-8.5-0.5h0m7 1h0m-13-1h0m11.5-3.5h0m-30 4h0m19-1h0m24.5 1.5h0m-34-0.5h0m45 0h0m-16-4h0m9.5 4.5h0m1.5-0.5h0m-38 0.5h0m22.5-2.5h0m-31.5 2h0m46.5-0.5h0m-44 0.5h0m23 0h0m-28 0.5h0m52.5-1.5h0m-3 1h0m-18.5-1.5h0m-3.5 2h0m-26.5-1.5h0m-8 1h0m38.5-4h0m2 4.5h0m-18.5 0h0m2.5-0.5h0m21-4h0m12 1h0m-24-3h0m6.5 6h0m-28-1.5h0m42.5 1.5h0m-38.5-1.5h0m-2 0.5h0m15.5 1.5h0m3 0h0m10.5 0h0m18.5-1.5h0m-20-5h0m3 6.5h0m12 0h0m-43-0.5h0m33.5 0.5h0m10-0.5h0m-21.5-3.5h0m-15 3.5h0m28.5-15.5h0m-21 16h0m-14-2.5h0m48.5 2.5h0m-32-0.5h0m14-17.5h0m0.5 17.5h0m-22 0.5h0m6.5-1.5h0m19.5 0h0m17 1.5h0m-16-1h0m-14.5 0.5h0m-15.5 0h0m-2 0.5h0m41-1h0m-7 1h0m-43.5-2h0m32.5 0.5h0m-15.5 0.5h0m8.5-3h0m-5.5 2.5h0m12.5-4.5h0m-14 4h0m16 2h0m-15 0h0m8-2h0m-19.5-2.5h0m27.5-1.5h0m-11 5h0m3-0.5h0m18 1h0m-5-7.5h0m-15.5-8h0m-25.5 14.5h0m-5.5-0.5h0m52-3h0m-20 3.5h0m27.5 1h0m-33.5 0.5h0m3-1h0m-23.5-0.5h0m18 1.5h0m-7 0h0m-2.5-0.5h0m46.5 0h0m-53.5 0h0m2.5 0.5h0m33-1h0m5.5 0h0m8.5 0h0m1-7h0m-36 7h0m-19.5-1.5h0m8 2h0m22 0.5h0m11-12.5h0m-12 12h0m0-1h0m-33.5 1h0m59 0.5h0m-51.5-7h0m37.5 6h0m-10 0h0m2.5-1h0m17-2.5h0m-9.5-8.5h0m-20.5 11h0m-2-2h0m18.5-5h0m-0.5 8.5h0m-5.5-8.5h0m1 8h0m-15.5 1h0m43.5-1h0m-1.5 0h0m-36-5.5h0m-11 5.5h0m40.5-1h0m-45.5 2h0m0-1.5h0m38 1.5h0m9.5-4.5h0m-17.5 4.5h0m7.5-0.5h0m-18-4.5h0m21.5 4.5h0m11.5-1h0m-5.5-4h0m-39 4.5h0m24 0.5h0m20 0.5h0m-15.5-2h0m-23 2h0m8.5-1.5h0m23-3.5h0m-42.5 4.5h0m48.5-0.5h0m-30.5 1h0m2 0h0m22.5 0h0m-21.5-1h0m-3.5-1h0m6.5-8h0m-5.5 9.5h0m-17-2h0m9.5 1h0m-1-2h0m-1.5-14.5h0m34.5 12h0m1 3.5h0m-15 0h0m17.5 2.5h0m1.5-1h0m-41 0.5h0m15.5-2h0m20 2.5h0m-53.5-0.5h0m5.5-3h0m-4 3h0m18 0.5h0m-6-1h0m35.5-5.5h0m-30.5 6h0m36 0h0m-13 0h0m-6.5 0.5h0m-22.5 0h0m-5-1h0m11.5-0.5h0m4-1h0m-23 1.5h0m58.5 1h0m-18.5-1.5h0m3.5-4.5h0m8.5 2.5h0m-11.5-0.5h0m7 4h0m-19.5-0.5h0m-11-0.5h0m27 0h0m1.5-1.5h0m-3 2.5h0m-12-2h0m-7 0.5h0m-8-4h0m26-3.5h0m8 7.5h0m10-1h0m-19 2h0m-1.5-8h0m-25.5 7.5h0m47 0.5h0m-19.5-1h0m-44-0.5h0m17.5-4.5h0m29 2h0m18.5 4.5h0m-60.5-0.5h0m41-4h0m12 1h0m-15 3.5h0m-3.5-11.5h0m-7.5 9h0m29-7h0m5.5 9.5h0m-40 0h0m30-10h0m-19 10h0m14.5 0h0m-6-4h0m16 2h0m-17.5-1.5h0m-38 2.5h0m40 0h0m0 0.5h0m5-1.5h0m-5 2h0m-20.5-4h0m32 4h0m-23.5-3h0m30.5 2.5h0m-33-4h0m0.5 4h0m-30.5 0h0m52.5-2h0m-29.5-6h0m19.5 6.5h0m-4 1.5h0m10.5 0.5h0m-5.5-2h0m-22.5-2.5h0m35 4h0m-46.5 0h0m48-1.5h0m7.5 1.5h0m-59-1.5h0m32 2h0m-15.5 0h0m33-1.5h0m-59.5 1.5h0m37.5 0h0m10.5-4.5h0m8 2.5h0m-17 1.5h0m-13 0h0m30-1h0m-34.5-3h0m-12.5 1.5h0m52.5 2h0m-0.5-1h0m-9.5 1.5h0m-20.5-7h0m23.5 5h0m-18 2.5h0m22-2.5h0m-32-1h0m-1 3.5h0m-3 0h0m6.5-6h0m18.5-1.5h0m5 4.5h0m15.5 1.5h0m-5-1h0m-35.5 2h0m28.5-0.5h0m-4.5-2.5h0m-10.5-1.5h0m13.5 4h0m-51 1h0m63.5-6h0m-36.5 4.5h0m15 1.5h0m-25-1.5h0m6-13h0m7 12h0m6 2h0m16.5-6.5h0m-56.5 7h0m70-7.5h0m-23 6h0m19 1.5h0m-15-7.5h0m-7.5 2.5h0m-13.5 3.5h0m13.5-2h0m-29 3h0m54.5 0.5h0m-52-2.5h0m-5 1.5h0m-4.5-0.5h0m49.5-3h0m-32 3.5h0m0 1h0m4.5-3h0m7 0.5h0m-11 2.5h0m26-1.5h0m-12-2h0m15.5 3.5h0m-18-2h0m12.5 2h0m-3.5-0.5h0m-5-1.5h0m2 0h0m19.5 0.5h0m-57.5 1.5h0m44-1h0m-26.5 0.5h0m15-1.5h0m9.5 0.5h0m-5 1.5h0m25-5h0m-19 5h0m-3-0.5h0m22-1h0m-20.5-2.5h0m-33.5 4h0m55.5-1.5h0m-6.5 1.5h0m-19-1.5h0m-18-2.5h0m34.5 3.5h0m-13-0.5h0m19 0h0m-57 0h0m27.5-3.5h0m0.5 4.5h0m-7.5 0h0m34-6h0m-34 5h0m-28 0.5h0m27 0h0m6.5 0.5h0m12-3.5h0m-20.5 3.5h0m14.5-1.5h0m-12.5-1h0m6-7.5h0m3.5 6.5h0m22 1.5h0m-4-2.5h0m-8 4.5h0m20.5-8h0m-30 5h0m6.5 1h0m10 2h0m-51.5 0h0m33 0h0m4-1h0m-23 1h0m50 0h0m-5-6.5h0m-5 4.5h0m3.5-1h0m-43 1.5h0m21 0h0m23 0h0m-24-3h0m10.5 2h0m-13.5 2h0m15-1h0m-30 0h0m33-8.5h0m-37.5 10h0m28.5 0h0m23-1h0m-7-3.5h0m-15 3.5h0m4 1h0m16 0h0m-6 0h0m0-0.5h0m-19.5 0.5h0m8-2h0m-16 1h0m35 0.5h0m-44-2h0m19 2h0m22-2h0m3 1h0m-49.5-3h0m-2.5 4.5h0m-4.5-2.5h0m25.5 1h0m-15-3h0m25.5 1.5h0m11.5 0h0m-31.5 0.5h0m19-20.5h0m23 21.5h0m-34-11.5h0m4.5 4h0m-8 8h0m6-2h0m-25.5 0h0m41.5 3h0m-16.5 0h0m20.5-0.5h0m-10-11.5h0m13.5 12h0m-23.5-4h0m-8-0.5h0m-19.5 4h0m12.5-1h0m39.5-1.5h0m-52 1.5h0m46 0.5h0m12 1h0m-49 0h0m4.5 0h0m-4 0h0m37.5 0h0m-8.5 0h0m13-1h0m-43 0.5h0m21.5-9h0m21 9h0m-4.5-3.5h0m-4 2h0m-18-0.5h0m0-0.5h0m34.5 2.5h0m-58.5 0.5h0m9-1.5h0m10.5 1h0m38.5-3.5h0m-14 3h0m-23.5-4h0m-8 5h0m4.5-4h0m20.5 2h0m-4 1h0m14-1h0m-32-2h0m14.5-1h0m-23.5 5h0m14.5-0.5h0m11.5-10.5h0m-26.5 10h0m30.5 0.5h0m10.5 0h0m-47-0.5h0m28 1h0m2.5-1.5h0m-4 1.5h0m-33.5-1h0m57.5 0.5h0m9-4h0m-24 0.5h0m8.5-1h0m-21 4h0m26-4.5h0m-28.5-6h0m3 9.5h0m8.5-6h0m-21 8h0m46.5-0.5h0m-9.5 0.5h0m-44.5 0h0m50.5 0h0m-55-3.5h0m17 3.5h0m23-6.5h0m6 2h0m-0.5 2h0m-6.5 2.5h0m19.5-2.5h0m-25.5-5.5h0m22 6h0m-28.5 1.5h0m19.5-2.5h0m12.5 2h0m-18-5.5h0m8.5 5.5h0m-0.5 1h0m-34 0h0m21-12.5h0m-24.5 10h0m27.5 2h0m20.5 0.5h0m-18-1h0m-10.5-3.5h0m-12.5 4.5h0m2-1h0m40.5-1h0m-8.5 1h0m-22-5h0m-15.5 4.5h0m26-4h0m-12 3.5h0m16.5 2h0m-2 0h0m-6-0.5h0m-14 0.5h0m-24.5-1.5h0m62 0.5h0m-51 0.5h0m21.5-2h0m24.5 1.5h0m-8 1h0m-26.5-0.5h0m25.5 0.5h0m-6.5 0h0m-23-7.5h0m34 7h0m-27-4.5h0m25.5 4h0m3.5-5h0m-42 5.5h0m51 0.5h0m-10.5-3h0m3-2h0m-33.5 0.5h0m6 4h0m18 0.5h0m-30.5 0h0m17-1.5h0m13.5 1.5h0m-31-1.5h0m0 1.5h0m43.5-8h0m-41 7h0m7.5-3.5h0m3 1.5h0m34 0.5h0m-29 1h0m25 1h0m-3-2h0m-29.5-2h0m-6.5 4.5h0m43.5-4h0m-10-6.5h0m-3 8.5h0m-38 2h0m50-2.5h0m-1.5 2.5h0m-38-0.5h0m-18.5-0.5h0m29-2h0m-10.5 2h0m33.5 1h0m-17.5-11.5h0m22 9.5h0m-11 1.5h0m-29.5-0.5h0m24.5 1h0m-11-0.5h0m3-8h0m-22 4h0m-0.5 2.5h0m22 0h0m9 0.5h0m-4-0.5h0m-44.5 0.5h0m31-5.5h0m-15 6h0m46.5-1.5h0m-44 2h0m-9 0h0m7 0.5h0m8.5-4.5h0m-8 2h0m11.5 2h0m-19 0.5h0m40.5 0h0m10.5-2.5h0m-5.5 1h0m-14.5-0.5h0m1.5-3h0m-14-1.5h0m-0.5 2.5h0m3.5 1.5h0m15.5 2.5h0m-13-3.5h0m8.5 1.5h0m-23 0h0m0-3h0m15.5 4.5h0m25.5-3h0m-5 3.5h0m-37.5-1h0m43.5-1h0m-54.5 2h0m49-3h0m-23 3h0m9-0.5h0m-9-0.5h0m-2.5-1.5h0m24.5 2.5h0m-7 0h0m9.5-4.5h0m3 3h0m-20-3.5h0m11-8.5h0m-22.5 13.5h0m31 0h0m-35.5-1.5h0m-17 1h0m59.5 0.5h0m-23.5-2.5h0m-2.5-1h0m-34 3h0m39.5 0h0m-12-1h0m-26.5-4h0m14.5 5.5h0m24-7h0m11.5 5h0m-43.5 2h0m37.5 0h0m-17.5 0h0m2-1.5h0m4-0.5h0m-11.5 2h0m17.5-1.5h0m-6.5 1.5h0m-19-0.5h0m10-13.5h0m27.5 13h0m-51 1h0m39.5-5.5h0m-20 4h0m4-6h0m1.5 7.5h0m6.5 0h0m-36.5 0h0m26-3h0m17.5-0.5h0m5.5 3.5h0m-33.5-5.5h0m3 5h0m28.5 0.5h0m-19-2h0m17.5-11.5h0m10.5 12h0m-28.5 0h0m21.5 0.5h0m-41.5 1h0m12 0h0m9-9.5h0m24 9.5h0m-46.5 0h0m18-4h0m7 3.5h0m-29.5 0.5h0m24-1h0m-19-3h0m22-7.5h0m15 3.5h0m-23.5 7h0m4-8h0m9.5 3.5h0m-3.5-10.5h0m13 16h0m1.5-1h0m-25.5 0h0m17-1h0m-28 1.5h0m30.5 0h0m13-4.5h0m6 3h0m-30.5 1h0m28.5 0.5h0m-2-0.5h0m9.5 0.5h0m-59.5-1.5h0m44.5 0.5h0m-33 1h0m33.5-1.5h0m-16-2.5h0m18.5 0h0m-7.5-11.5h0m-15.5 8h0m23 3h0m-20.5 1.5h0m31 2h0m-14-1.5h0m-33.5 3h0m28.5-4h0m-2 2h0m-15-0.5h0m14 1.5h0m-9.5 1h0m-30.5-0.5h0m43-1.5h0m17.5 1h0m-26 1h0m0-2h0m-9 2h0m-23.5-0.5h0m17.5-1.5h0m8.5 0h0m-8.5-0.5h0m-12.5 2.5h0m36-2h0m-13 1.5h0m15-0.5h0m14.5-2.5h0m-29 3h0m11-24h0m-27 21h0m43 2.5h0m-4.5 0h0m-21-6h0m-14.5-3h0m-1 9h0m23.5 1h0m7.5-5h0m16.5 4.5h0m-21.5-3h0m-1-3h0m2.5 2.5h0m9.5 2h0m-4-6h0m-5.5 3.5h0m7.5 0.5h0m-8 3h0m-21 1h0m11-7h0m11.5 3h0m7.5-4h0m5 8h0m-4.5 0h0m3.5-1h0m-4 0h0m-10.5-1.5h0m21 2.5h0m-48.5 0h0m34.5-1h0m-0.5-2.5h0m-8 0h0m-11.5-0.5h0m33 3.5h0m-56-5.5h0m22.5 4.5h0m-31 1.5h0m23 0h0m28-0.5h0m-5-4h0m-8 4h0m11-1.5h0m1.5-3h0m8.5 3.5h0m-50 1h0m53.5 0.5h0m-12.5-7.5h0m-39.5 5h0m34-1h0m-25.5-1h0m35.5 1.5h0m-28.5-9h0m27.5 3.5h0m-14.5 4.5h0m-21 1h0m35 2.5h0m-0.5 0.5h0m-18-9h0m-4.5 9h0m-2 0h0m-2-3.5h0m21.5 3.5h0m-6.5-4h0m-3 3.5h0m-1 0.5h0m9.5-0.5h0m5-0.5h0m-12.5 0h0m1.5-0.5h0m6-9.5h0m14 9.5h0m-0.5-1h0m-38 1.5h0m28.5 1h0m13-4.5h0m-3-6h0m-0.5 10h0m-18-1.5h0m23 1.5h0m-11.5-2.5h0m-21-3h0m-18 2.5h0m15.5 2h0m9 1.5h0m-14.5 0h0m26-1h0m4-0.5h0m-21.5 1h0m6.5-5.5h0m-25.5 5h0m44.5-2h0m-59 3h0m51-2h0m-19 1h0m27.5 1h0m-6-7h0m-11 6h0m13.5-1.5h0m0.5 2h0m-38.5 0.5h0m-18.5-2h0m51.5 1.5h0m-21-1h0m-10 1.5h0m8-6.5h0m-10 5.5h0m16.5 1h0m30.5 0h0m-7-0.5h0m-12.5 0.5h0m-3.5-1.5h0m7 1.5h0m3.5 0h0m-15.5 0h0m18.5-1.5h0m-10.5-2.5h0m4-0.5h0m17.5 4.5h0m-51-0.5h0m34-1.5h0m-46.5 1.5h0m52.5-16.5h0m-39.5 13.5h0m3.5 3.5h0m22.5-11h0m-17.5 11h0m0-0.5h0m11.5 0.5h0m12.5 0h0m-22-2h0m37.5-0.5h0m-38 0h0m-24 2.5h0m58-0.5h0m-27.5-2.5h0m10.5 2.5h0m11.5-0.5h0m-47.5 0h0m9.5-3h0m46.5 3.5h0m-32-2h0m-3.5-0.5h0m37.5-0.5h0m-11 0h0m0.5 3.5h0m-9.5 0h0m1.5-2h0m-15.5-9.5h0m5 11.5h0m-5-3.5h0m-16.5 2h0m19.5 1h0m-14.5 0.5h0m35-6h0m-18.5-0.5h0m13 5.5h0m-11-0.5h0m9.5 1.5h0m-43.5-0.5h0m49-1.5h0m-28 1h0m-3.5 0h0m30-4.5h0m-5.5 4h0m3-3.5h0m-7.5 4.5h0m-13.5-4h0m-1 4h0m13-3.5h0m1 1.5h0m-27.5 2.5h0m-1 0h0m30.5-0.5h0m19.5-3h0m-49.5 3h0m38.5 0.5h0m-28.5-1h0m26-6.5h0m-33.5 7h0m44-0.5h0m-28.5 0h0m31.5-0.5h0m-55.5 1.5h0m13 0h0m-1.5-2h0m45.5-2h0m-34.5 2h0m-10.5-4h0m14 3.5h0m-8 2.5h0m33.5-0.5h0m-28-1h0m2-3.5h0m23.5 3h0m-42-2h0m8.5 3.5h0m12.5 0.5h0m0-6.5h0m-9.5 3.5h0m8 1.5h0m-26.5 0h0m28.5-6.5h0m14 6h0m6.5-0.5h0m-8.5 1.5h0m-10.5 0.5h0m10-1.5h0m-46 1h0m38.5 1h0m-37.5-2h0m55 2h0m-20-3h0m-5 2.5h0m-8.5-2h0m13.5-5.5h0m6.5 8h0m-10.5-4h0m-2.5 4h0m6-0.5h0m13.5 0h0m4-3.5h0m10 2.5h0m-19-2.5h0m-43 4h0m39.5-1.5h0m14-5.5h0m-11.5-5h0m-2 11.5h0m5.5-5.5h0m-48.5 6h0m45.5 0h0m18-3h0m-37.5 2.5h0m-4 0.5h0m-12 0h0m14-1h0m-9.5-1h0m11 2h0m14.5-7.5h0m-4.5 7h0m12.5 0h0m-5-2.5h0m-20 2.5h0m30.5-5h0m-6.5 5.5h0m-28-3.5h0m44.5-0.5h0m-19 2h0m-2-4.5h0m-21 6.5h0m30.5-3h0m-4-1.5h0m-22 1h0m0 0.5h0m15 3h0m13-2.5h0m-7.5-6h0m-23 7h0m-7-4.5h0m32 2h0m3.5-2h0m-19-0.5h0m-6.5 5.5h0m34 1h0m-6.5-5h0m-22 4.5h0m36 0.5h0m-31.5-3h0m-17.5 0.5h0m11.5 2h0m-10-1h0m9 1.5h0m-6.5-0.5h0m27-4.5h0m2.5 5h0m1.5-1h0m12 0h0m-23.5-16.5h0m-4 13h0m8 3.5h0m13 1h0m-5.5-2.5h0m-17.5 2.5h0m10.5-11h0m-19.5 9h0m38 0.5h0m1.5 1h0m-13.5 0.5h0m-14-3h0m-0.5 3h0m-0.5-3h0m20.5 2.5h0m-20.5 0.5h0m28 0h0m-24.5-0.5h0m9.5-1h0m-50.5 1.5h0m47-1h0m22-0.5h0m-26-21h0m-28.5 14h0m-7.5 8h0m44.5 0h0m-32.5 0h0m15.5-9.5h0m31.5 7.5h0m-33.5 0h0m3-0.5h0m29 1.5h0m-48.5 1h0m33.5 0h0m-8.5-2.5h0m-2.5 2h0m-14 1h0m3-2.5h0m-11-0.5h0m39.5 2h0m-4 1h0m-6.5 0h0m-10.5-4.5h0m16 0h0m-29.5 0.5h0m39 3.5h0m-4-1.5h0m-1.5-6.5h0m-18 8h0m-7-1h0m15.5-1h0m4.5-0.5h0m16.5 3h0m-26-2.5h0m-16 2h0m-17.5 0.5h0m27 0h0m-11.5-1.5h0m-21 1.5h0m40-6.5h0m26 6.5h0m-19-6h0m-15 3h0m0.5-0.5h0m29.5 2.5h0m-5 0.5h0m-9 0h0m-31 0h0m40-1.5h0m-53 1.5h0m44.5 0.5h0m7-1h0m-34-2h0m8.5-7h0m9.5 9h0m24-0.5h0m-15.5-0.5h0m8 0h0m-12-0.5h0m-7.5 0.5h0m-20.5 0.5h0m6-0.5h0m22.5-0.5h0m-19.5-5.5h0m22 6h0m-11-0.5h0m14.5-10h0m-2 12.5h0m-19.5-4.5h0m36 3h0m-28-7.5h0m-11.5 8h0m21.5 0h0m-11-4h0m4 1.5h0m-41 2h0m13 1.5h0m-4-3h0m35-2h0m4-4.5h0m-6 6h0m23 2h0m-11-3.5h0m-23 2.5h0m32.5 2.5h0m-9.5-0.5h0m-22.5-4h0m13.5 1h0m-20 3.5h0m-2.5-1.5h0m16 1h0m8 0.5h0m-30.5-3h0m51.5 2.5h0m-19.5-0.5h0m-25-6h0m-16 7h0m59-0.5h0m-23-3h0m22.5 3h0m-9.5 0.5h0m-46.5-0.5h0m47 0.5h0m-45.5-3h0m39.5-4.5h0m8.5 6h0m-26.5 1h0m24-6h0m8 0.5h0m-4.5 6h0m-59.5-3h0m48-2.5h0m5.5 5.5h0m-20-2.5h0m-28.5 2h0m46 0h0m-29-7h0m43.5 7.5h0m-19-0.5h0m-6.5-2h0m11 2h0m-37 0h0m-7 0.5h0m46.5-10.5h0m-18 7h0m3-1.5h0m-31.5 5h0m28-2.5h0m11-1.5h0m1 3.5h0m0-1h0m-12.5 0.5h0m-25.5-5.5h0m37.5 6h0m-15-6h0m25.5 3.5h0m-45 1h0m46.5-3.5h0m-27 5h0m22-1h0m-2.5-0.5h0m-19.5 1.5h0m11-0.5h0m7 1h0m2.5 0h0m-23.5 0h0m28-11h0m-34 10h0m8-1.5h0m7-9h0m4 9h0m-29 1.5h0m45-2h0m-57.5 0h0m33 1.5h0m-20 0h0m16-2.5h0m27.5 2h0m5 2h0m-27.5-0.5h0m6.5-6h0m3 2.5h0m-42-1h0m39 1h0m-19.5 3h0m9.5 0h0m-15.5-2.5h0m6.5-4h0m33.5 0h0m8.5 7h0m-25.5-77.5h0m-11.5 28.5h0m21.5 6h0m-4 3h0m-2 2h0m-29 5h0m38.5 1h0m-17 4h0m5.5 2h0" stroke="#2641fb" stroke-width="1.6" stroke-linecap="square" fill="none"/><path d="M503.6 148.9h1.2" stroke="#444" stroke-width="0.8"/><text x="501.2" y="151.9" font-size="7.6" text-anchor="end" fill="#000">0</text><path d="M503.6 128.5h1.2" stroke="#444" stroke-width="0.8"/><text x="501.2" y="131.5" font-size="7.6" text-anchor="end" fill="#000">0.05</text><path d="M503.6 108.1h1.2" stroke="#444" stroke-width="0.8"/><text x="501.2" y="111.1" font-size="7.6" text-anchor="end" fill="#000">0.10</text><path d="M503.6 87.7h1.2" stroke="#444" stroke-width="0.8"/><text x="501.2" y="90.7" font-size="7.6" text-anchor="end" fill="#000">0.15</text><path d="M503.6 67.3h1.2" stroke="#444" stroke-width="0.8"/><text x="501.2" y="70.3" font-size="7.6" text-anchor="end" fill="#000">0.20</text><text x="504.6" y="157.9" font-size="7.6" text-anchor="end" fill="#000">−1</text><text x="542.4" y="157.9" font-size="7.6" text-anchor="middle" fill="#000">0</text><text x="581.2" y="157.9" font-size="7.6" text-anchor="middle" fill="#000">1</text><text x="544.2" y="61.4" font-size="7.6" text-anchor="middle" fill="#000">Spearman:0.044</text><text x="542.4" y="167" font-size="7.6" text-anchor="middle" fill="#000">Human−pufferfish Pearson <tspan font-style="italic">r</tspan></text><text transform="translate(480.9,108.1) rotate(-90)" font-size="7.6" text-anchor="middle" fill="#000">Proportion of pufferfish bases conserved</text><text transform="translate(7.8,232.3)" font-weight="bold" font-size="17" fill="#000">(b)</text><rect x="64.5" y="262.5" width="506.1" height="183.9" fill="none" stroke="#222" stroke-width="1"/><path d="M64.5 268.6h4.6M570.6 268.6h-4.6" stroke="#222" stroke-width="0.9"/><text transform="translate(60.7,274.0) scale(1,1.07)" font-size="10.5" text-anchor="end" fill="#000" style="white-space:pre">1.0</text><path d="M64.5 286.4h4.6M570.6 286.4h-4.6" stroke="#222" stroke-width="0.9"/><text transform="translate(60.7,291.5) scale(1,1.07)" font-size="10.5" text-anchor="end" fill="#000" style="white-space:pre">0.8</text><path d="M64.5 304.1h4.6M570.6 304.1h-4.6" stroke="#222" stroke-width="0.9"/><text transform="translate(60.7,309.0) scale(1,1.07)" font-size="10.5" text-anchor="end" fill="#000" style="white-space:pre">0.6</text><path d="M64.5 321.9h4.6M570.6 321.9h-4.6" stroke="#222" stroke-width="0.9"/><text transform="translate(60.7,326.5) scale(1,1.07)" font-size="10.5" text-anchor="end" fill="#000" style="white-space:pre">0.4</text><path d="M64.5 339.6h4.6M570.6 339.6h-4.6" stroke="#222" stroke-width="0.9"/><text transform="translate(60.7,344.0) scale(1,1.07)" font-size="10.5" text-anchor="end" fill="#000" style="white-space:pre">0.2</text><path d="M64.5 357.4h4.6M570.6 357.4h-4.6" stroke="#222" stroke-width="0.9"/><text transform="translate(60.7,361.5) scale(1,1.07)" font-size="10.5" text-anchor="end" fill="#000" style="white-space:pre">0</text><path d="M64.5 375.1h4.6M570.6 375.1h-4.6" stroke="#222" stroke-width="0.9"/><text transform="translate(60.7,379.0) scale(1,1.07)" font-size="10.5" text-anchor="end" fill="#000" style="white-space:pre">- 0.2</text><path d="M64.5 392.9h4.6M570.6 392.9h-4.6" stroke="#222" stroke-width="0.9"/><text transform="translate(60.7,396.5) scale(1,1.07)" font-size="10.5" text-anchor="end" fill="#000" style="white-space:pre">- 0.4</text><path d="M64.5 410.6h4.6M570.6 410.6h-4.6" stroke="#222" stroke-width="0.9"/><text transform="translate(60.7,414.0) scale(1,1.07)" font-size="10.5" text-anchor="end" fill="#000" style="white-space:pre">- 0.6</text><path d="M64.5 428.4h4.6M570.6 428.4h-4.6" stroke="#222" stroke-width="0.9"/><text transform="translate(60.7,431.5) scale(1,1.07)" font-size="10.5" text-anchor="end" fill="#000" style="white-space:pre">- 0.8</text><path d="M64.5 446.1h4.6M570.6 446.1h-4.6" stroke="#222" stroke-width="0.9"/><text transform="translate(60.7,449.0) scale(1,1.07)" font-size="10.5" text-anchor="end" fill="#000" style="white-space:pre">-1.0</text><path d="M89.5 446.4v-2.2M89.5 262.5v2.2" stroke="#222" stroke-width="1"/><path d="M89.5 298.5V272.5M89.5 417.5V349.2" stroke="#333" stroke-width="1" stroke-dasharray="7.1 7.35" fill="none"/><path d="M83.0 272.5h13M83.0 417.5h13" stroke="#333" stroke-width="1"/><path d="M76.9 298.5H102.3V314.9L96.0 317.9L102.3 320.9V349.2H76.9V320.9L83.2 317.9L76.9 314.9Z" stroke="#6a80f8" stroke-width="1.1" fill="none"/><path d="M83.2 317.9H96.0" stroke="#ff5a5a" stroke-width="1.1"/><rect x="102.2" y="270.3" width="1.4" height="1.4" fill="#333"/><text transform="translate(85.7,450.6) rotate(-90) scale(1.24,1)" font-size="7.35" text-anchor="end" fill="#000" style="white-space:pre">Top 25% of genes with most</text><text transform="translate(95.4,450.6) rotate(-90) scale(1.24,1)" font-size="7.35" text-anchor="end" fill="#000">conserved human bases</text><path d="M140.5 446.4v-2.2M140.5 262.5v2.2" stroke="#222" stroke-width="1"/><path d="M140.5 303.3V272.5M140.5 419.5V351.1" stroke="#333" stroke-width="1" stroke-dasharray="7.1 7.35" fill="none"/><path d="M134.0 272.5h13M134.0 419.5h13" stroke="#333" stroke-width="1"/><path d="M127.5 303.3H152.9V322.3L146.7 325.3L152.9 328.3V351.1H127.5V328.3L133.8 325.3L127.5 322.3Z" stroke="#6a80f8" stroke-width="1.1" fill="none"/><path d="M133.8 325.3H146.7" stroke="#ff5a5a" stroke-width="1.1"/><rect x="152.8" y="270.1" width="1.4" height="1.4" fill="#333"/><text transform="translate(136.3,450.6) rotate(-90) scale(1.24,1)" font-size="7.35" text-anchor="end" fill="#000" style="white-space:pre">Bottom  25% of genes with</text><text transform="translate(146.1,450.6) rotate(-90) scale(1.24,1)" font-size="7.35" text-anchor="end" fill="#000">least conserved human bases</text><path d="M190.5 446.4v-2.2M190.5 262.5v2.2" stroke="#222" stroke-width="1"/><path d="M190.5 297.4V271.5M190.5 410.5V343.4" stroke="#333" stroke-width="1" stroke-dasharray="7.1 7.35" fill="none"/><path d="M184.0 271.5h13M184.0 410.5h13" stroke="#333" stroke-width="1"/><path d="M178.2 297.4H203.6V312.6L197.3 315.6L203.6 318.6V343.4H178.2V318.6L184.5 315.6L178.2 312.6Z" stroke="#6a80f8" stroke-width="1.1" fill="none"/><path d="M184.5 315.6H197.3" stroke="#ff5a5a" stroke-width="1.1"/><rect x="203.5" y="270.0" width="1.4" height="1.4" fill="#333"/><text transform="translate(187.0,450.6) rotate(-90) scale(1.24,1)" font-size="7.35" text-anchor="end" fill="#000" style="white-space:pre">Top 25% of genes with most</text><text transform="translate(196.7,450.6) rotate(-90) scale(1.24,1)" font-size="7.35" text-anchor="end" fill="#000">conserved mouse bases</text><path d="M241.5 446.4v-2.2M241.5 262.5v2.2" stroke="#222" stroke-width="1"/><path d="M241.5 302.5V271.5M241.5 419.5V353.6" stroke="#333" stroke-width="1" stroke-dasharray="7.1 7.35" fill="none"/><path d="M235.0 271.5h13M235.0 419.5h13" stroke="#333" stroke-width="1"/><path d="M228.8 302.5H254.2V323.3L247.9 326.3L254.2 329.3V353.6H228.8V329.3L235.1 326.3L228.8 323.3Z" stroke="#6a80f8" stroke-width="1.1" fill="none"/><path d="M235.1 326.3H247.9" stroke="#ff5a5a" stroke-width="1.1"/><rect x="254.1" y="270.0" width="1.4" height="1.4" fill="#333"/><text transform="translate(237.6,450.6) rotate(-90) scale(1.24,1)" font-size="7.35" text-anchor="end" fill="#000" style="white-space:pre">Bottom  25% of genes with</text><text transform="translate(247.4,450.6) rotate(-90) scale(1.24,1)" font-size="7.35" text-anchor="end" fill="#000">least conserved mouse bases</text><path d="M292.5 446.4v-2.2M292.5 262.5v2.2" stroke="#222" stroke-width="1"/><path d="M292.5 299.3V271.5M292.5 419.5V348.2" stroke="#333" stroke-width="1" stroke-dasharray="7.1 7.35" fill="none"/><path d="M286.0 271.5h13M286.0 419.5h13" stroke="#333" stroke-width="1"/><path d="M279.5 299.3H304.9V318.2L298.6 321.2L304.9 324.2V348.2H279.5V324.2L285.8 321.2L279.5 318.2Z" stroke="#6a80f8" stroke-width="1.1" fill="none"/><path d="M285.8 321.2H298.6" stroke="#ff5a5a" stroke-width="1.1"/><rect x="304.8" y="269.7" width="1.4" height="1.4" fill="#333"/><text transform="translate(288.3,450.6) rotate(-90) scale(1.24,1)" font-size="7.35" text-anchor="end" fill="#000" style="white-space:pre">Top 25% of genes with most</text><text transform="translate(298.1,450.6) rotate(-90) scale(1.24,1)" font-size="7.35" text-anchor="end" fill="#000">conserved chicken bases</text><path d="M342.5 446.4v-2.2M342.5 262.5v2.2" stroke="#222" stroke-width="1"/><path d="M342.5 306.3V270.5M342.5 436.5V360.1" stroke="#333" stroke-width="1" stroke-dasharray="7.1 7.35" fill="none"/><path d="M336.0 270.5h13M336.0 436.5h13" stroke="#333" stroke-width="1"/><path d="M330.2 306.3H355.6V328.1L349.2 331.1L355.6 334.1V360.1H330.2V334.1L336.5 331.1L330.2 328.1Z" stroke="#6a80f8" stroke-width="1.1" fill="none"/><path d="M336.5 331.1H349.2" stroke="#ff5a5a" stroke-width="1.1"/><rect x="355.5" y="269.0" width="1.4" height="1.4" fill="#333"/><text transform="translate(339.0,450.6) rotate(-90) scale(1.24,1)" font-size="7.35" text-anchor="end" fill="#000" style="white-space:pre">Bottom  25% of genes with</text><text transform="translate(348.7,450.6) rotate(-90) scale(1.24,1)" font-size="7.35" text-anchor="end" fill="#000">least conserved chicken bases</text><path d="M393.5 446.4v-2.2M393.5 262.5v2.2" stroke="#222" stroke-width="1"/><path d="M393.5 300.5V271.5M393.5 422.5V350.7" stroke="#333" stroke-width="1" stroke-dasharray="7.1 7.35" fill="none"/><path d="M387.0 271.5h13M387.0 422.5h13" stroke="#333" stroke-width="1"/><path d="M380.8 300.5H406.2V321.0L399.9 324.0L406.2 327.0V350.7H380.8V327.0L387.1 324.0L380.8 321.0Z" stroke="#6a80f8" stroke-width="1.1" fill="none"/><path d="M387.1 324.0H399.9" stroke="#ff5a5a" stroke-width="1.1"/><rect x="406.1" y="270.0" width="1.4" height="1.4" fill="#333"/><text transform="translate(389.6,450.6) rotate(-90) scale(1.24,1)" font-size="7.35" text-anchor="end" fill="#000" style="white-space:pre">Top 25% of genes with most</text><text transform="translate(399.4,450.6) rotate(-90) scale(1.24,1)" font-size="7.35" text-anchor="end" fill="#000">conserved frog bases</text><path d="M444.5 446.4v-2.2M444.5 262.5v2.2" stroke="#222" stroke-width="1"/><path d="M444.5 304.4V272.5M444.5 426.5V358.8" stroke="#333" stroke-width="1" stroke-dasharray="7.1 7.35" fill="none"/><path d="M438.0 272.5h13M438.0 426.5h13" stroke="#333" stroke-width="1"/><path d="M431.4 304.4H456.8V327.5L450.5 330.5L456.8 333.5V358.8H431.4V333.5L437.8 330.5L431.4 327.5Z" stroke="#6a80f8" stroke-width="1.1" fill="none"/><path d="M437.8 330.5H450.5" stroke="#ff5a5a" stroke-width="1.1"/><rect x="456.8" y="271.0" width="1.4" height="1.4" fill="#333"/><text transform="translate(440.2,450.6) rotate(-90) scale(1.24,1)" font-size="7.35" text-anchor="end" fill="#000" style="white-space:pre">Bottom  25% of genes with</text><text transform="translate(450.0,450.6) rotate(-90) scale(1.24,1)" font-size="7.35" text-anchor="end" fill="#000">least conserved frog bases</text><path d="M494.5 446.4v-2.2M494.5 262.5v2.2" stroke="#222" stroke-width="1"/><path d="M494.5 310.2V270.5M494.5 434.5V362.1" stroke="#333" stroke-width="1" stroke-dasharray="7.1 7.35" fill="none"/><path d="M488.0 270.5h13M488.0 434.5h13" stroke="#333" stroke-width="1"/><path d="M482.1 310.2H507.5V331.0L501.2 334.0L507.5 337.0V362.1H482.1V337.0L488.4 334.0L482.1 331.0Z" stroke="#6a80f8" stroke-width="1.1" fill="none"/><path d="M488.4 334.0H501.2" stroke="#ff5a5a" stroke-width="1.1"/><text transform="translate(490.9,450.6) rotate(-90) scale(1.24,1)" font-size="7.35" text-anchor="end" fill="#000" style="white-space:pre">Top 25% of genes with most</text><text transform="translate(500.6,450.6) rotate(-90) scale(1.24,1)" font-size="7.35" text-anchor="end" fill="#000">conserved pufferfish bases</text><path d="M545.5 446.4v-2.2M545.5 262.5v2.2" stroke="#222" stroke-width="1"/><path d="M545.5 311.2V270.5M545.5 437.5V366.1" stroke="#333" stroke-width="1" stroke-dasharray="7.1 7.35" fill="none"/><path d="M539.0 270.5h13M539.0 437.5h13" stroke="#333" stroke-width="1"/><path d="M532.7 311.2H558.1V335.3L551.8 338.3L558.1 341.3V366.1H532.7V341.3L539.0 338.3L532.7 335.3Z" stroke="#6a80f8" stroke-width="1.1" fill="none"/><path d="M539.0 338.3H551.8" stroke="#ff5a5a" stroke-width="1.1"/><text transform="translate(541.5,450.6) rotate(-90) scale(1.24,1)" font-size="7.35" text-anchor="end" fill="#000" style="white-space:pre">Bottom  25% of genes with</text><text transform="translate(551.3,450.6) rotate(-90) scale(1.24,1)" font-size="7.35" text-anchor="end" fill="#000">least conserved pufferfish bases</text><path d="M64.5 321.5H570.6" stroke="#26e614" stroke-width="1.2"/><text transform="translate(76.4,438.9) scale(1,1.14)" font-size="9.9" fill="#000"><tspan font-size="7.5" dy="-2.6">*</tspan><tspan dy="2.6"> WMW </tspan><tspan font-style="italic">p</tspan> &lt; 0.05</text><text transform="translate(21.9,355.5) rotate(-90)" font-size="13.8" text-anchor="middle" fill="#000">Pairwise human vs other species</text><text transform="translate(39.2,365.0) rotate(-90)" font-size="13.8" text-anchor="middle" fill="#000">Pearson correlation</text></svg></body></html>
